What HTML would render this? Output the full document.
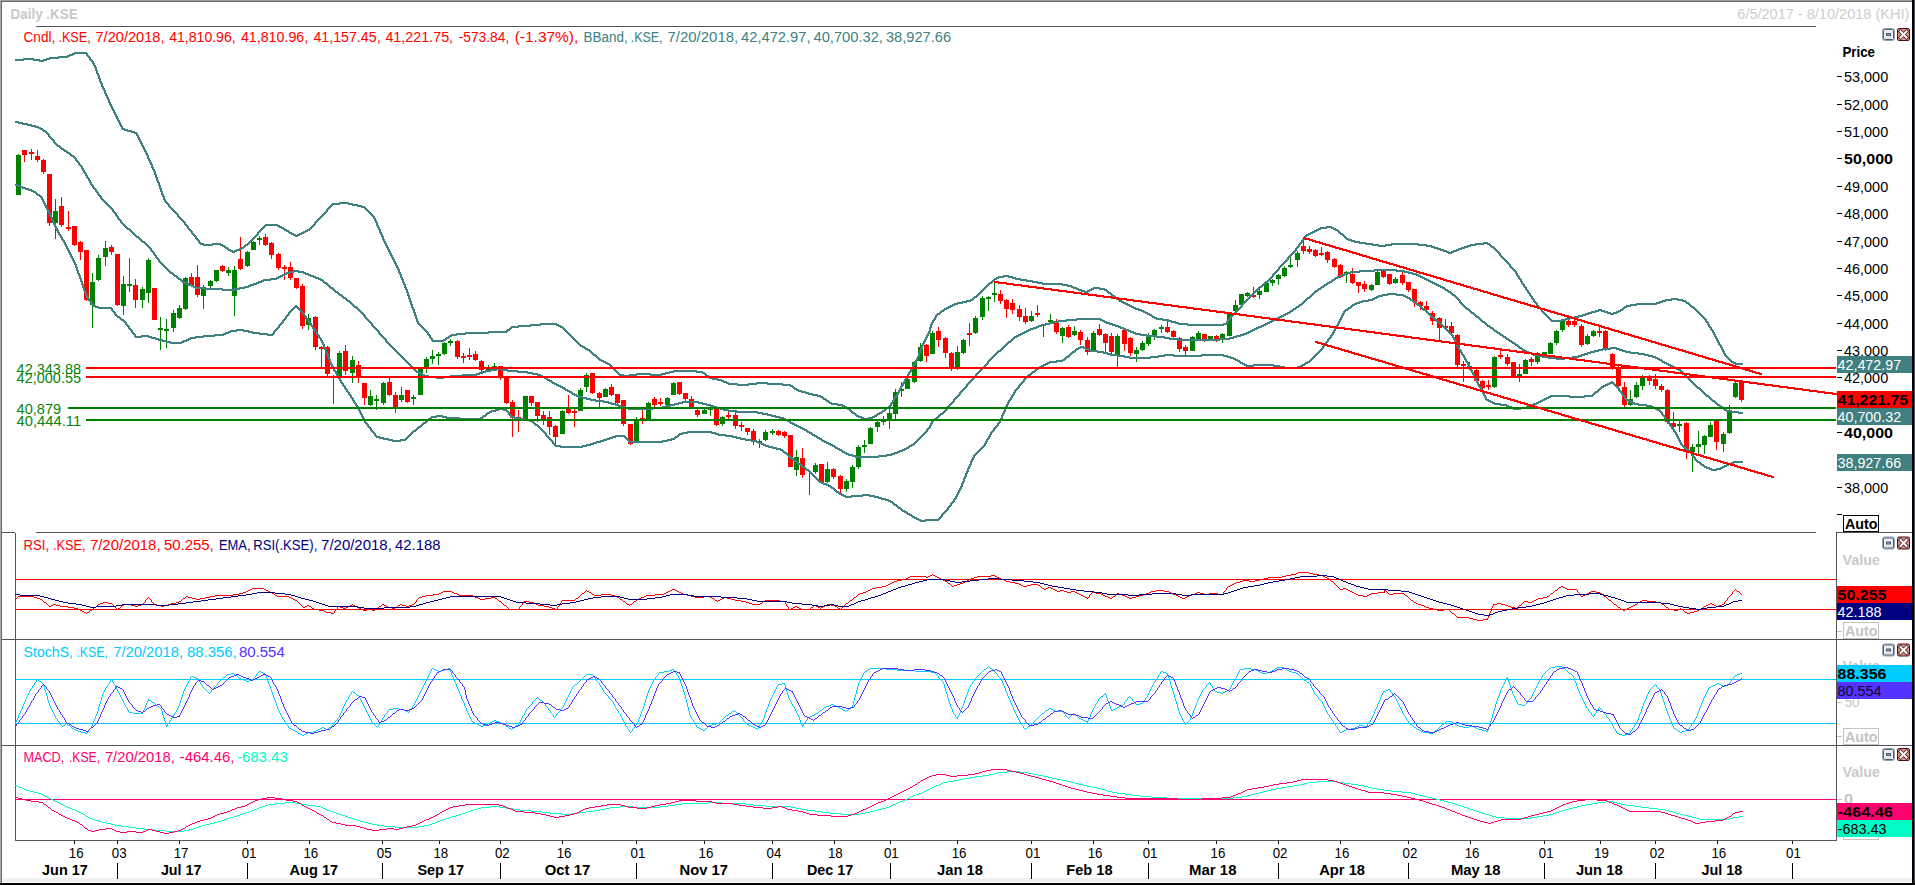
<!DOCTYPE html>
<html><head><meta charset="utf-8"><title>Daily .KSE</title>
<style>html,body{margin:0;padding:0;background:#fff;overflow:hidden}svg{display:block}text{font-family:"Liberation Sans",sans-serif;white-space:pre}</style>
</head><body>
<svg width="1915" height="885" viewBox="0 0 1915 885">
<rect x="0" y="0" width="1915" height="885" fill="#fff"/>
<rect x="3" y="878" width="1909" height="4" fill="#f0f0f0"/>
<rect x="0" y="0" width="1912" height="1" fill="#a0a0a0"/>
<rect x="0" y="1" width="1912" height="1" fill="#696969"/>
<rect x="0" y="0" width="1" height="883" fill="#a8a8a8"/>
<rect x="1" y="1" width="1" height="882" fill="#696969"/>
<rect x="1912" y="0" width="2" height="885" fill="#000"/>
<rect x="1914" y="0" width="1" height="885" fill="#4a4a58"/>
<rect x="0" y="883" width="1915" height="2" fill="#000"/>
<rect x="36" y="26" width="1780" height="1" fill="#555"/>
<text x="10.6" y="18.8" font-size="13.8" fill="#c9c9c9" font-weight="bold" textLength="67" lengthAdjust="spacingAndGlyphs">Daily .KSE</text>
<text x="1737.3" y="18.6" font-size="13.8" fill="#cdcdcd" textLength="172" lengthAdjust="spacingAndGlyphs">6/5/2017 - 8/10/2018 (KHI)</text>
<rect x="2" y="532" width="13" height="1" fill="#555"/>
<rect x="36" y="532" width="1780" height="1" fill="#555"/>
<rect x="15" y="533" width="1" height="308" fill="#555"/>
<rect x="2" y="639" width="1910" height="1" fill="#555"/>
<rect x="2" y="745" width="1910" height="1" fill="#555"/>
<rect x="15" y="840" width="1822" height="1" fill="#555"/>
<rect x="1836" y="533" width="1" height="308" fill="#555"/>
<rect x="1836" y="532" width="76" height="1" fill="#555"/>
<g shape-rendering="crispEdges">
<rect x="18" y="154" width="1" height="41" fill="#008000"/>
<rect x="16" y="155" width="5" height="40" fill="#008000"/>
<rect x="24" y="150" width="1" height="12" fill="#ff0000"/>
<rect x="22" y="150" width="5" height="5" fill="#ff0000"/>
<rect x="31" y="149" width="1" height="11" fill="#ff0000"/>
<rect x="29" y="152" width="5" height="2" fill="#ff0000"/>
<rect x="37" y="150" width="1" height="12" fill="#ff0000"/>
<rect x="35" y="156" width="5" height="4" fill="#ff0000"/>
<rect x="43" y="159" width="1" height="15" fill="#ff0000"/>
<rect x="41" y="160" width="5" height="12" fill="#ff0000"/>
<rect x="49" y="174" width="1" height="52" fill="#ff0000"/>
<rect x="47" y="174" width="5" height="49" fill="#ff0000"/>
<rect x="55" y="199" width="1" height="40" fill="#008000"/>
<rect x="53" y="211" width="5" height="12" fill="#008000"/>
<rect x="61" y="197" width="1" height="30" fill="#ff0000"/>
<rect x="59" y="206" width="5" height="19" fill="#ff0000"/>
<rect x="68" y="211" width="1" height="20" fill="#ff0000"/>
<rect x="66" y="227" width="5" height="2" fill="#ff0000"/>
<rect x="74" y="226" width="1" height="20" fill="#ff0000"/>
<rect x="72" y="226" width="5" height="19" fill="#ff0000"/>
<rect x="80" y="241" width="1" height="19" fill="#ff0000"/>
<rect x="78" y="242" width="5" height="10" fill="#ff0000"/>
<rect x="86" y="250" width="1" height="51" fill="#ff0000"/>
<rect x="84" y="250" width="5" height="50" fill="#ff0000"/>
<rect x="92" y="273" width="1" height="55" fill="#008000"/>
<rect x="90" y="282" width="5" height="23" fill="#008000"/>
<rect x="98" y="255" width="1" height="26" fill="#008000"/>
<rect x="96" y="258" width="5" height="22" fill="#008000"/>
<rect x="105" y="241" width="1" height="25" fill="#008000"/>
<rect x="103" y="248" width="5" height="9" fill="#008000"/>
<rect x="111" y="245" width="1" height="10" fill="#ff0000"/>
<rect x="109" y="247" width="5" height="5" fill="#ff0000"/>
<rect x="117" y="254" width="1" height="52" fill="#ff0000"/>
<rect x="115" y="254" width="5" height="51" fill="#ff0000"/>
<rect x="123" y="276" width="1" height="39" fill="#008000"/>
<rect x="121" y="284" width="5" height="22" fill="#008000"/>
<rect x="129" y="258" width="1" height="34" fill="#008000"/>
<rect x="127" y="284" width="5" height="2" fill="#008000"/>
<rect x="135" y="279" width="1" height="29" fill="#ff0000"/>
<rect x="133" y="285" width="5" height="15" fill="#ff0000"/>
<rect x="142" y="287" width="1" height="21" fill="#008000"/>
<rect x="140" y="289" width="5" height="11" fill="#008000"/>
<rect x="148" y="258" width="1" height="45" fill="#008000"/>
<rect x="146" y="260" width="5" height="33" fill="#008000"/>
<rect x="154" y="288" width="1" height="32" fill="#ff0000"/>
<rect x="152" y="288" width="5" height="32" fill="#ff0000"/>
<rect x="160" y="317" width="1" height="33" fill="#008000"/>
<rect x="158" y="328" width="5" height="2" fill="#008000"/>
<rect x="166" y="319" width="1" height="29" fill="#008000"/>
<rect x="164" y="329" width="5" height="2" fill="#008000"/>
<rect x="173" y="310" width="1" height="22" fill="#008000"/>
<rect x="171" y="313" width="5" height="15" fill="#008000"/>
<rect x="179" y="305" width="1" height="14" fill="#008000"/>
<rect x="177" y="308" width="5" height="10" fill="#008000"/>
<rect x="185" y="277" width="1" height="33" fill="#008000"/>
<rect x="183" y="278" width="5" height="31" fill="#008000"/>
<rect x="191" y="273" width="1" height="14" fill="#ff0000"/>
<rect x="189" y="277" width="5" height="9" fill="#ff0000"/>
<rect x="197" y="265" width="1" height="32" fill="#ff0000"/>
<rect x="195" y="277" width="5" height="18" fill="#ff0000"/>
<rect x="203" y="285" width="1" height="24" fill="#008000"/>
<rect x="201" y="287" width="5" height="9" fill="#008000"/>
<rect x="210" y="280" width="1" height="8" fill="#008000"/>
<rect x="208" y="281" width="5" height="5" fill="#008000"/>
<rect x="216" y="270" width="1" height="12" fill="#008000"/>
<rect x="214" y="270" width="5" height="11" fill="#008000"/>
<rect x="222" y="265" width="1" height="7" fill="#ff0000"/>
<rect x="220" y="266" width="5" height="5" fill="#ff0000"/>
<rect x="228" y="267" width="1" height="9" fill="#008000"/>
<rect x="226" y="270" width="5" height="3" fill="#008000"/>
<rect x="234" y="266" width="1" height="50" fill="#008000"/>
<rect x="232" y="270" width="5" height="26" fill="#008000"/>
<rect x="240" y="237" width="1" height="33" fill="#ff0000"/>
<rect x="238" y="259" width="5" height="10" fill="#ff0000"/>
<rect x="247" y="251" width="1" height="16" fill="#008000"/>
<rect x="245" y="252" width="5" height="14" fill="#008000"/>
<rect x="253" y="241" width="1" height="9" fill="#008000"/>
<rect x="251" y="242" width="5" height="8" fill="#008000"/>
<rect x="259" y="236" width="1" height="9" fill="#008000"/>
<rect x="257" y="238" width="5" height="2" fill="#008000"/>
<rect x="265" y="234" width="1" height="12" fill="#ff0000"/>
<rect x="263" y="237" width="5" height="8" fill="#ff0000"/>
<rect x="271" y="242" width="1" height="17" fill="#ff0000"/>
<rect x="269" y="243" width="5" height="12" fill="#ff0000"/>
<rect x="278" y="253" width="1" height="17" fill="#ff0000"/>
<rect x="276" y="254" width="5" height="14" fill="#ff0000"/>
<rect x="284" y="265" width="1" height="15" fill="#ff0000"/>
<rect x="282" y="267" width="5" height="2" fill="#ff0000"/>
<rect x="290" y="262" width="1" height="18" fill="#ff0000"/>
<rect x="288" y="267" width="5" height="11" fill="#ff0000"/>
<rect x="296" y="278" width="1" height="11" fill="#ff0000"/>
<rect x="294" y="278" width="5" height="10" fill="#ff0000"/>
<rect x="302" y="284" width="1" height="45" fill="#ff0000"/>
<rect x="300" y="286" width="5" height="40" fill="#ff0000"/>
<rect x="308" y="314" width="1" height="16" fill="#008000"/>
<rect x="306" y="318" width="5" height="7" fill="#008000"/>
<rect x="315" y="316" width="1" height="34" fill="#ff0000"/>
<rect x="313" y="317" width="5" height="30" fill="#ff0000"/>
<rect x="321" y="346" width="1" height="21" fill="#ff0000"/>
<rect x="319" y="347" width="5" height="2" fill="#ff0000"/>
<rect x="327" y="346" width="1" height="30" fill="#ff0000"/>
<rect x="325" y="347" width="5" height="27" fill="#ff0000"/>
<rect x="333" y="375" width="1" height="29" fill="#ff0000"/>
<rect x="331" y="376" width="5" height="2" fill="#ff0000"/>
<rect x="339" y="351" width="1" height="27" fill="#008000"/>
<rect x="337" y="353" width="5" height="24" fill="#008000"/>
<rect x="345" y="345" width="1" height="30" fill="#ff0000"/>
<rect x="343" y="351" width="5" height="20" fill="#ff0000"/>
<rect x="352" y="356" width="1" height="27" fill="#008000"/>
<rect x="350" y="360" width="5" height="13" fill="#008000"/>
<rect x="358" y="361" width="1" height="22" fill="#ff0000"/>
<rect x="356" y="365" width="5" height="13" fill="#ff0000"/>
<rect x="364" y="383" width="1" height="22" fill="#ff0000"/>
<rect x="362" y="383" width="5" height="15" fill="#ff0000"/>
<rect x="370" y="390" width="1" height="16" fill="#008000"/>
<rect x="368" y="396" width="5" height="9" fill="#008000"/>
<rect x="376" y="395" width="1" height="15" fill="#008000"/>
<rect x="374" y="399" width="5" height="2" fill="#008000"/>
<rect x="383" y="382" width="1" height="23" fill="#008000"/>
<rect x="381" y="383" width="5" height="20" fill="#008000"/>
<rect x="389" y="378" width="1" height="18" fill="#ff0000"/>
<rect x="387" y="382" width="5" height="13" fill="#ff0000"/>
<rect x="395" y="392" width="1" height="21" fill="#ff0000"/>
<rect x="393" y="395" width="5" height="12" fill="#ff0000"/>
<rect x="401" y="387" width="1" height="15" fill="#008000"/>
<rect x="399" y="395" width="5" height="5" fill="#008000"/>
<rect x="407" y="390" width="1" height="13" fill="#ff0000"/>
<rect x="405" y="390" width="5" height="12" fill="#ff0000"/>
<rect x="413" y="395" width="1" height="10" fill="#008000"/>
<rect x="411" y="397" width="5" height="2" fill="#008000"/>
<rect x="420" y="367" width="1" height="28" fill="#008000"/>
<rect x="418" y="368" width="5" height="27" fill="#008000"/>
<rect x="426" y="357" width="1" height="16" fill="#008000"/>
<rect x="424" y="359" width="5" height="8" fill="#008000"/>
<rect x="432" y="350" width="1" height="14" fill="#008000"/>
<rect x="430" y="356" width="5" height="3" fill="#008000"/>
<rect x="438" y="352" width="1" height="13" fill="#008000"/>
<rect x="436" y="354" width="5" height="2" fill="#008000"/>
<rect x="444" y="342" width="1" height="13" fill="#008000"/>
<rect x="442" y="343" width="5" height="11" fill="#008000"/>
<rect x="450" y="339" width="1" height="7" fill="#008000"/>
<rect x="448" y="341" width="5" height="2" fill="#008000"/>
<rect x="457" y="340" width="1" height="19" fill="#ff0000"/>
<rect x="455" y="341" width="5" height="16" fill="#ff0000"/>
<rect x="463" y="353" width="1" height="10" fill="#ff0000"/>
<rect x="461" y="356" width="5" height="2" fill="#ff0000"/>
<rect x="469" y="348" width="1" height="12" fill="#ff0000"/>
<rect x="467" y="355" width="5" height="2" fill="#ff0000"/>
<rect x="475" y="351" width="1" height="10" fill="#ff0000"/>
<rect x="473" y="354" width="5" height="6" fill="#ff0000"/>
<rect x="481" y="360" width="1" height="14" fill="#ff0000"/>
<rect x="479" y="361" width="5" height="9" fill="#ff0000"/>
<rect x="488" y="365" width="1" height="7" fill="#008000"/>
<rect x="486" y="368" width="5" height="2" fill="#008000"/>
<rect x="494" y="363" width="1" height="6" fill="#008000"/>
<rect x="492" y="366" width="5" height="2" fill="#008000"/>
<rect x="500" y="366" width="1" height="14" fill="#ff0000"/>
<rect x="498" y="366" width="5" height="11" fill="#ff0000"/>
<rect x="506" y="377" width="1" height="27" fill="#ff0000"/>
<rect x="504" y="377" width="5" height="26" fill="#ff0000"/>
<rect x="512" y="400" width="1" height="37" fill="#ff0000"/>
<rect x="510" y="402" width="5" height="16" fill="#ff0000"/>
<rect x="518" y="410" width="1" height="22" fill="#ff0000"/>
<rect x="516" y="417" width="5" height="2" fill="#ff0000"/>
<rect x="525" y="396" width="1" height="24" fill="#008000"/>
<rect x="523" y="396" width="5" height="23" fill="#008000"/>
<rect x="531" y="396" width="1" height="10" fill="#ff0000"/>
<rect x="529" y="396" width="5" height="7" fill="#ff0000"/>
<rect x="537" y="402" width="1" height="20" fill="#ff0000"/>
<rect x="535" y="402" width="5" height="14" fill="#ff0000"/>
<rect x="543" y="411" width="1" height="14" fill="#ff0000"/>
<rect x="541" y="415" width="5" height="4" fill="#ff0000"/>
<rect x="549" y="411" width="1" height="24" fill="#ff0000"/>
<rect x="547" y="417" width="5" height="10" fill="#ff0000"/>
<rect x="555" y="425" width="1" height="22" fill="#ff0000"/>
<rect x="553" y="426" width="5" height="11" fill="#ff0000"/>
<rect x="562" y="410" width="1" height="24" fill="#008000"/>
<rect x="560" y="411" width="5" height="23" fill="#008000"/>
<rect x="568" y="395" width="1" height="19" fill="#ff0000"/>
<rect x="566" y="409" width="5" height="4" fill="#ff0000"/>
<rect x="574" y="409" width="1" height="18" fill="#ff0000"/>
<rect x="572" y="411" width="5" height="2" fill="#ff0000"/>
<rect x="580" y="388" width="1" height="23" fill="#008000"/>
<rect x="578" y="390" width="5" height="21" fill="#008000"/>
<rect x="586" y="373" width="1" height="19" fill="#008000"/>
<rect x="584" y="375" width="5" height="12" fill="#008000"/>
<rect x="592" y="373" width="1" height="21" fill="#ff0000"/>
<rect x="590" y="373" width="5" height="20" fill="#ff0000"/>
<rect x="599" y="392" width="1" height="15" fill="#ff0000"/>
<rect x="597" y="393" width="5" height="5" fill="#ff0000"/>
<rect x="605" y="388" width="1" height="9" fill="#008000"/>
<rect x="603" y="389" width="5" height="8" fill="#008000"/>
<rect x="611" y="384" width="1" height="12" fill="#ff0000"/>
<rect x="609" y="387" width="5" height="8" fill="#ff0000"/>
<rect x="617" y="394" width="1" height="10" fill="#ff0000"/>
<rect x="615" y="394" width="5" height="9" fill="#ff0000"/>
<rect x="623" y="400" width="1" height="26" fill="#ff0000"/>
<rect x="621" y="400" width="5" height="24" fill="#ff0000"/>
<rect x="630" y="424" width="1" height="21" fill="#ff0000"/>
<rect x="628" y="424" width="5" height="20" fill="#ff0000"/>
<rect x="636" y="417" width="1" height="25" fill="#008000"/>
<rect x="634" y="419" width="5" height="23" fill="#008000"/>
<rect x="642" y="409" width="1" height="15" fill="#ff0000"/>
<rect x="640" y="418" width="5" height="2" fill="#ff0000"/>
<rect x="648" y="402" width="1" height="18" fill="#008000"/>
<rect x="646" y="403" width="5" height="17" fill="#008000"/>
<rect x="654" y="397" width="1" height="10" fill="#ff0000"/>
<rect x="652" y="399" width="5" height="6" fill="#ff0000"/>
<rect x="660" y="398" width="1" height="8" fill="#ff0000"/>
<rect x="658" y="402" width="5" height="2" fill="#ff0000"/>
<rect x="667" y="397" width="1" height="9" fill="#008000"/>
<rect x="665" y="398" width="5" height="7" fill="#008000"/>
<rect x="673" y="382" width="1" height="13" fill="#008000"/>
<rect x="671" y="383" width="5" height="12" fill="#008000"/>
<rect x="679" y="382" width="1" height="13" fill="#ff0000"/>
<rect x="677" y="382" width="5" height="12" fill="#ff0000"/>
<rect x="685" y="393" width="1" height="8" fill="#ff0000"/>
<rect x="683" y="393" width="5" height="6" fill="#ff0000"/>
<rect x="691" y="396" width="1" height="12" fill="#ff0000"/>
<rect x="689" y="399" width="5" height="8" fill="#ff0000"/>
<rect x="697" y="409" width="1" height="8" fill="#ff0000"/>
<rect x="695" y="410" width="5" height="5" fill="#ff0000"/>
<rect x="704" y="409" width="1" height="5" fill="#008000"/>
<rect x="702" y="410" width="5" height="4" fill="#008000"/>
<rect x="710" y="407" width="1" height="9" fill="#008000"/>
<rect x="708" y="408" width="5" height="2" fill="#008000"/>
<rect x="716" y="408" width="1" height="18" fill="#ff0000"/>
<rect x="714" y="409" width="5" height="16" fill="#ff0000"/>
<rect x="722" y="416" width="1" height="10" fill="#008000"/>
<rect x="720" y="417" width="5" height="7" fill="#008000"/>
<rect x="728" y="412" width="1" height="7" fill="#ff0000"/>
<rect x="726" y="415" width="5" height="2" fill="#ff0000"/>
<rect x="735" y="412" width="1" height="17" fill="#ff0000"/>
<rect x="733" y="415" width="5" height="11" fill="#ff0000"/>
<rect x="741" y="422" width="1" height="9" fill="#ff0000"/>
<rect x="739" y="425" width="5" height="2" fill="#ff0000"/>
<rect x="747" y="428" width="1" height="7" fill="#ff0000"/>
<rect x="745" y="428" width="5" height="4" fill="#ff0000"/>
<rect x="753" y="429" width="1" height="16" fill="#ff0000"/>
<rect x="751" y="431" width="5" height="11" fill="#ff0000"/>
<rect x="759" y="439" width="1" height="9" fill="#008000"/>
<rect x="757" y="441" width="5" height="2" fill="#008000"/>
<rect x="765" y="430" width="1" height="11" fill="#008000"/>
<rect x="763" y="432" width="5" height="8" fill="#008000"/>
<rect x="772" y="429" width="1" height="6" fill="#008000"/>
<rect x="770" y="431" width="5" height="2" fill="#008000"/>
<rect x="778" y="430" width="1" height="6" fill="#ff0000"/>
<rect x="776" y="431" width="5" height="4" fill="#ff0000"/>
<rect x="784" y="431" width="1" height="7" fill="#ff0000"/>
<rect x="782" y="432" width="5" height="4" fill="#ff0000"/>
<rect x="790" y="435" width="1" height="32" fill="#ff0000"/>
<rect x="788" y="435" width="5" height="32" fill="#ff0000"/>
<rect x="796" y="450" width="1" height="26" fill="#008000"/>
<rect x="794" y="457" width="5" height="13" fill="#008000"/>
<rect x="802" y="448" width="1" height="30" fill="#ff0000"/>
<rect x="800" y="458" width="5" height="17" fill="#ff0000"/>
<rect x="809" y="470" width="1" height="25" fill="#008000"/>
<rect x="815" y="463" width="1" height="11" fill="#008000"/>
<rect x="813" y="465" width="5" height="7" fill="#008000"/>
<rect x="821" y="464" width="1" height="18" fill="#ff0000"/>
<rect x="819" y="464" width="5" height="18" fill="#ff0000"/>
<rect x="827" y="462" width="1" height="21" fill="#008000"/>
<rect x="825" y="469" width="5" height="13" fill="#008000"/>
<rect x="833" y="468" width="1" height="11" fill="#ff0000"/>
<rect x="831" y="469" width="5" height="8" fill="#ff0000"/>
<rect x="840" y="475" width="1" height="18" fill="#ff0000"/>
<rect x="838" y="476" width="5" height="13" fill="#ff0000"/>
<rect x="846" y="479" width="1" height="13" fill="#008000"/>
<rect x="844" y="481" width="5" height="8" fill="#008000"/>
<rect x="852" y="465" width="1" height="23" fill="#008000"/>
<rect x="850" y="467" width="5" height="15" fill="#008000"/>
<rect x="858" y="445" width="1" height="24" fill="#008000"/>
<rect x="856" y="447" width="5" height="20" fill="#008000"/>
<rect x="864" y="440" width="1" height="13" fill="#008000"/>
<rect x="862" y="445" width="5" height="2" fill="#008000"/>
<rect x="870" y="427" width="1" height="17" fill="#008000"/>
<rect x="868" y="428" width="5" height="16" fill="#008000"/>
<rect x="877" y="421" width="1" height="11" fill="#008000"/>
<rect x="875" y="422" width="5" height="5" fill="#008000"/>
<rect x="883" y="416" width="1" height="9" fill="#008000"/>
<rect x="881" y="420" width="5" height="2" fill="#008000"/>
<rect x="889" y="409" width="1" height="20" fill="#008000"/>
<rect x="887" y="413" width="5" height="7" fill="#008000"/>
<rect x="895" y="389" width="1" height="30" fill="#008000"/>
<rect x="893" y="392" width="5" height="22" fill="#008000"/>
<rect x="901" y="382" width="1" height="15" fill="#008000"/>
<rect x="899" y="389" width="5" height="2" fill="#008000"/>
<rect x="907" y="377" width="1" height="12" fill="#008000"/>
<rect x="905" y="379" width="5" height="10" fill="#008000"/>
<rect x="914" y="361" width="1" height="22" fill="#008000"/>
<rect x="912" y="362" width="5" height="20" fill="#008000"/>
<rect x="920" y="343" width="1" height="19" fill="#008000"/>
<rect x="918" y="347" width="5" height="14" fill="#008000"/>
<rect x="926" y="344" width="1" height="18" fill="#ff0000"/>
<rect x="924" y="345" width="5" height="11" fill="#ff0000"/>
<rect x="932" y="331" width="1" height="23" fill="#008000"/>
<rect x="930" y="333" width="5" height="21" fill="#008000"/>
<rect x="938" y="327" width="1" height="20" fill="#ff0000"/>
<rect x="936" y="331" width="5" height="9" fill="#ff0000"/>
<rect x="945" y="337" width="1" height="21" fill="#ff0000"/>
<rect x="943" y="338" width="5" height="15" fill="#ff0000"/>
<rect x="951" y="352" width="1" height="19" fill="#ff0000"/>
<rect x="949" y="353" width="5" height="14" fill="#ff0000"/>
<rect x="957" y="346" width="1" height="24" fill="#008000"/>
<rect x="955" y="352" width="5" height="15" fill="#008000"/>
<rect x="963" y="339" width="1" height="15" fill="#008000"/>
<rect x="961" y="340" width="5" height="13" fill="#008000"/>
<rect x="969" y="323" width="1" height="23" fill="#ff0000"/>
<rect x="967" y="333" width="5" height="2" fill="#ff0000"/>
<rect x="975" y="316" width="1" height="18" fill="#008000"/>
<rect x="973" y="318" width="5" height="15" fill="#008000"/>
<rect x="982" y="296" width="1" height="24" fill="#008000"/>
<rect x="980" y="298" width="5" height="19" fill="#008000"/>
<rect x="988" y="296" width="1" height="15" fill="#008000"/>
<rect x="986" y="297" width="5" height="2" fill="#008000"/>
<rect x="994" y="282" width="1" height="20" fill="#008000"/>
<rect x="992" y="293" width="5" height="2" fill="#008000"/>
<rect x="1000" y="290" width="1" height="14" fill="#ff0000"/>
<rect x="998" y="294" width="5" height="7" fill="#ff0000"/>
<rect x="1006" y="299" width="1" height="19" fill="#ff0000"/>
<rect x="1004" y="300" width="5" height="9" fill="#ff0000"/>
<rect x="1012" y="299" width="1" height="15" fill="#ff0000"/>
<rect x="1010" y="303" width="5" height="7" fill="#ff0000"/>
<rect x="1019" y="305" width="1" height="16" fill="#ff0000"/>
<rect x="1017" y="309" width="5" height="8" fill="#ff0000"/>
<rect x="1025" y="308" width="1" height="16" fill="#ff0000"/>
<rect x="1023" y="316" width="5" height="6" fill="#ff0000"/>
<rect x="1031" y="311" width="1" height="11" fill="#008000"/>
<rect x="1029" y="316" width="5" height="5" fill="#008000"/>
<rect x="1037" y="305" width="1" height="12" fill="#ff0000"/>
<rect x="1035" y="313" width="5" height="2" fill="#ff0000"/>
<rect x="1043" y="324" width="1" height="13" fill="#ff0000"/>
<rect x="1041" y="324" width="5" height="2" fill="#ff0000"/>
<rect x="1050" y="314" width="1" height="10" fill="#008000"/>
<rect x="1048" y="320" width="5" height="2" fill="#008000"/>
<rect x="1056" y="319" width="1" height="15" fill="#ff0000"/>
<rect x="1054" y="321" width="5" height="11" fill="#ff0000"/>
<rect x="1062" y="327" width="1" height="16" fill="#008000"/>
<rect x="1060" y="328" width="5" height="8" fill="#008000"/>
<rect x="1068" y="325" width="1" height="13" fill="#ff0000"/>
<rect x="1066" y="327" width="5" height="10" fill="#ff0000"/>
<rect x="1074" y="326" width="1" height="10" fill="#008000"/>
<rect x="1072" y="331" width="5" height="4" fill="#008000"/>
<rect x="1080" y="330" width="1" height="15" fill="#ff0000"/>
<rect x="1078" y="332" width="5" height="8" fill="#ff0000"/>
<rect x="1087" y="337" width="1" height="18" fill="#ff0000"/>
<rect x="1085" y="340" width="5" height="12" fill="#ff0000"/>
<rect x="1093" y="331" width="1" height="21" fill="#008000"/>
<rect x="1091" y="333" width="5" height="18" fill="#008000"/>
<rect x="1099" y="324" width="1" height="12" fill="#ff0000"/>
<rect x="1097" y="329" width="5" height="6" fill="#ff0000"/>
<rect x="1105" y="333" width="1" height="19" fill="#ff0000"/>
<rect x="1103" y="334" width="5" height="9" fill="#ff0000"/>
<rect x="1111" y="333" width="1" height="22" fill="#ff0000"/>
<rect x="1109" y="336" width="5" height="16" fill="#ff0000"/>
<rect x="1117" y="334" width="1" height="33" fill="#008000"/>
<rect x="1115" y="336" width="5" height="20" fill="#008000"/>
<rect x="1124" y="329" width="1" height="22" fill="#ff0000"/>
<rect x="1122" y="330" width="5" height="14" fill="#ff0000"/>
<rect x="1130" y="337" width="1" height="19" fill="#ff0000"/>
<rect x="1128" y="338" width="5" height="15" fill="#ff0000"/>
<rect x="1136" y="347" width="1" height="15" fill="#008000"/>
<rect x="1134" y="350" width="5" height="4" fill="#008000"/>
<rect x="1142" y="341" width="1" height="10" fill="#008000"/>
<rect x="1140" y="343" width="5" height="7" fill="#008000"/>
<rect x="1148" y="333" width="1" height="13" fill="#008000"/>
<rect x="1146" y="337" width="5" height="7" fill="#008000"/>
<rect x="1154" y="329" width="1" height="11" fill="#008000"/>
<rect x="1152" y="330" width="5" height="7" fill="#008000"/>
<rect x="1161" y="325" width="1" height="8" fill="#008000"/>
<rect x="1159" y="327" width="5" height="2" fill="#008000"/>
<rect x="1167" y="320" width="1" height="13" fill="#ff0000"/>
<rect x="1165" y="327" width="5" height="5" fill="#ff0000"/>
<rect x="1173" y="330" width="1" height="9" fill="#ff0000"/>
<rect x="1171" y="331" width="5" height="6" fill="#ff0000"/>
<rect x="1179" y="337" width="1" height="15" fill="#ff0000"/>
<rect x="1177" y="338" width="5" height="11" fill="#ff0000"/>
<rect x="1185" y="345" width="1" height="10" fill="#ff0000"/>
<rect x="1183" y="347" width="5" height="4" fill="#ff0000"/>
<rect x="1192" y="336" width="1" height="15" fill="#008000"/>
<rect x="1190" y="337" width="5" height="14" fill="#008000"/>
<rect x="1198" y="331" width="1" height="9" fill="#008000"/>
<rect x="1196" y="333" width="5" height="6" fill="#008000"/>
<rect x="1204" y="334" width="1" height="8" fill="#ff0000"/>
<rect x="1202" y="334" width="5" height="5" fill="#ff0000"/>
<rect x="1210" y="336" width="1" height="4" fill="#008000"/>
<rect x="1208" y="336" width="5" height="3" fill="#008000"/>
<rect x="1216" y="335" width="1" height="7" fill="#ff0000"/>
<rect x="1214" y="336" width="5" height="3" fill="#ff0000"/>
<rect x="1222" y="333" width="1" height="10" fill="#008000"/>
<rect x="1220" y="334" width="5" height="5" fill="#008000"/>
<rect x="1229" y="312" width="1" height="24" fill="#008000"/>
<rect x="1227" y="314" width="5" height="22" fill="#008000"/>
<rect x="1235" y="300" width="1" height="12" fill="#008000"/>
<rect x="1233" y="305" width="5" height="6" fill="#008000"/>
<rect x="1241" y="294" width="1" height="12" fill="#008000"/>
<rect x="1239" y="294" width="5" height="11" fill="#008000"/>
<rect x="1247" y="292" width="1" height="5" fill="#008000"/>
<rect x="1245" y="293" width="5" height="3" fill="#008000"/>
<rect x="1253" y="287" width="1" height="11" fill="#ff0000"/>
<rect x="1251" y="295" width="5" height="2" fill="#ff0000"/>
<rect x="1259" y="289" width="1" height="10" fill="#008000"/>
<rect x="1257" y="291" width="5" height="4" fill="#008000"/>
<rect x="1266" y="282" width="1" height="10" fill="#008000"/>
<rect x="1264" y="283" width="5" height="9" fill="#008000"/>
<rect x="1272" y="279" width="1" height="7" fill="#008000"/>
<rect x="1270" y="280" width="5" height="3" fill="#008000"/>
<rect x="1278" y="274" width="1" height="11" fill="#008000"/>
<rect x="1276" y="275" width="5" height="4" fill="#008000"/>
<rect x="1284" y="266" width="1" height="11" fill="#008000"/>
<rect x="1282" y="268" width="5" height="8" fill="#008000"/>
<rect x="1290" y="256" width="1" height="12" fill="#008000"/>
<rect x="1288" y="265" width="5" height="2" fill="#008000"/>
<rect x="1297" y="251" width="1" height="16" fill="#008000"/>
<rect x="1295" y="253" width="5" height="7" fill="#008000"/>
<rect x="1303" y="239" width="1" height="15" fill="#ff0000"/>
<rect x="1301" y="246" width="5" height="5" fill="#ff0000"/>
<rect x="1309" y="246" width="1" height="8" fill="#ff0000"/>
<rect x="1307" y="249" width="5" height="3" fill="#ff0000"/>
<rect x="1315" y="249" width="1" height="8" fill="#ff0000"/>
<rect x="1313" y="250" width="5" height="6" fill="#ff0000"/>
<rect x="1321" y="247" width="1" height="9" fill="#ff0000"/>
<rect x="1319" y="253" width="5" height="2" fill="#ff0000"/>
<rect x="1327" y="251" width="1" height="12" fill="#ff0000"/>
<rect x="1325" y="252" width="5" height="8" fill="#ff0000"/>
<rect x="1334" y="258" width="1" height="10" fill="#ff0000"/>
<rect x="1332" y="259" width="5" height="8" fill="#ff0000"/>
<rect x="1340" y="264" width="1" height="14" fill="#ff0000"/>
<rect x="1338" y="265" width="5" height="12" fill="#ff0000"/>
<rect x="1346" y="271" width="1" height="12" fill="#008000"/>
<rect x="1344" y="272" width="5" height="2" fill="#008000"/>
<rect x="1352" y="268" width="1" height="16" fill="#ff0000"/>
<rect x="1350" y="274" width="5" height="9" fill="#ff0000"/>
<rect x="1358" y="282" width="1" height="11" fill="#ff0000"/>
<rect x="1356" y="282" width="5" height="4" fill="#ff0000"/>
<rect x="1364" y="281" width="1" height="11" fill="#ff0000"/>
<rect x="1362" y="284" width="5" height="5" fill="#ff0000"/>
<rect x="1371" y="284" width="1" height="7" fill="#008000"/>
<rect x="1369" y="285" width="5" height="5" fill="#008000"/>
<rect x="1377" y="271" width="1" height="14" fill="#008000"/>
<rect x="1375" y="272" width="5" height="13" fill="#008000"/>
<rect x="1383" y="270" width="1" height="8" fill="#ff0000"/>
<rect x="1381" y="271" width="5" height="6" fill="#ff0000"/>
<rect x="1389" y="274" width="1" height="11" fill="#ff0000"/>
<rect x="1387" y="274" width="5" height="10" fill="#ff0000"/>
<rect x="1395" y="277" width="1" height="7" fill="#008000"/>
<rect x="1393" y="279" width="5" height="4" fill="#008000"/>
<rect x="1402" y="272" width="1" height="13" fill="#ff0000"/>
<rect x="1400" y="275" width="5" height="8" fill="#ff0000"/>
<rect x="1408" y="282" width="1" height="10" fill="#ff0000"/>
<rect x="1406" y="282" width="5" height="8" fill="#ff0000"/>
<rect x="1414" y="289" width="1" height="18" fill="#ff0000"/>
<rect x="1412" y="289" width="5" height="13" fill="#ff0000"/>
<rect x="1420" y="301" width="1" height="9" fill="#ff0000"/>
<rect x="1418" y="302" width="5" height="4" fill="#ff0000"/>
<rect x="1426" y="301" width="1" height="11" fill="#ff0000"/>
<rect x="1424" y="306" width="5" height="4" fill="#ff0000"/>
<rect x="1432" y="311" width="1" height="14" fill="#ff0000"/>
<rect x="1430" y="313" width="5" height="8" fill="#ff0000"/>
<rect x="1439" y="317" width="1" height="23" fill="#ff0000"/>
<rect x="1437" y="318" width="5" height="10" fill="#ff0000"/>
<rect x="1445" y="319" width="1" height="10" fill="#ff0000"/>
<rect x="1443" y="326" width="5" height="2" fill="#ff0000"/>
<rect x="1451" y="322" width="1" height="12" fill="#ff0000"/>
<rect x="1449" y="326" width="5" height="7" fill="#ff0000"/>
<rect x="1457" y="334" width="1" height="33" fill="#ff0000"/>
<rect x="1455" y="335" width="5" height="30" fill="#ff0000"/>
<rect x="1463" y="361" width="1" height="21" fill="#ff0000"/>
<rect x="1461" y="364" width="5" height="2" fill="#ff0000"/>
<rect x="1469" y="362" width="1" height="8" fill="#ff0000"/>
<rect x="1467" y="366" width="5" height="3" fill="#ff0000"/>
<rect x="1476" y="369" width="1" height="13" fill="#ff0000"/>
<rect x="1474" y="370" width="5" height="11" fill="#ff0000"/>
<rect x="1482" y="380" width="1" height="10" fill="#ff0000"/>
<rect x="1480" y="381" width="5" height="7" fill="#ff0000"/>
<rect x="1488" y="380" width="1" height="10" fill="#ff0000"/>
<rect x="1486" y="385" width="5" height="2" fill="#ff0000"/>
<rect x="1494" y="356" width="1" height="32" fill="#008000"/>
<rect x="1492" y="357" width="5" height="30" fill="#008000"/>
<rect x="1500" y="349" width="1" height="10" fill="#ff0000"/>
<rect x="1498" y="355" width="5" height="2" fill="#ff0000"/>
<rect x="1507" y="354" width="1" height="12" fill="#ff0000"/>
<rect x="1505" y="357" width="5" height="7" fill="#ff0000"/>
<rect x="1513" y="362" width="1" height="15" fill="#ff0000"/>
<rect x="1511" y="362" width="5" height="14" fill="#ff0000"/>
<rect x="1519" y="364" width="1" height="18" fill="#008000"/>
<rect x="1517" y="374" width="5" height="2" fill="#008000"/>
<rect x="1525" y="359" width="1" height="15" fill="#008000"/>
<rect x="1523" y="360" width="5" height="14" fill="#008000"/>
<rect x="1531" y="357" width="1" height="9" fill="#ff0000"/>
<rect x="1529" y="359" width="5" height="3" fill="#ff0000"/>
<rect x="1537" y="352" width="1" height="12" fill="#008000"/>
<rect x="1535" y="355" width="5" height="7" fill="#008000"/>
<rect x="1544" y="352" width="1" height="5" fill="#008000"/>
<rect x="1542" y="352" width="5" height="3" fill="#008000"/>
<rect x="1550" y="342" width="1" height="12" fill="#008000"/>
<rect x="1548" y="343" width="5" height="11" fill="#008000"/>
<rect x="1556" y="330" width="1" height="15" fill="#008000"/>
<rect x="1554" y="331" width="5" height="12" fill="#008000"/>
<rect x="1562" y="319" width="1" height="13" fill="#008000"/>
<rect x="1560" y="321" width="5" height="9" fill="#008000"/>
<rect x="1568" y="315" width="1" height="12" fill="#ff0000"/>
<rect x="1566" y="321" width="5" height="4" fill="#ff0000"/>
<rect x="1574" y="318" width="1" height="9" fill="#ff0000"/>
<rect x="1572" y="321" width="5" height="4" fill="#ff0000"/>
<rect x="1581" y="324" width="1" height="23" fill="#ff0000"/>
<rect x="1579" y="326" width="5" height="19" fill="#ff0000"/>
<rect x="1587" y="334" width="1" height="11" fill="#008000"/>
<rect x="1585" y="336" width="5" height="8" fill="#008000"/>
<rect x="1593" y="330" width="1" height="7" fill="#008000"/>
<rect x="1591" y="331" width="5" height="5" fill="#008000"/>
<rect x="1599" y="327" width="1" height="10" fill="#ff0000"/>
<rect x="1597" y="331" width="5" height="2" fill="#ff0000"/>
<rect x="1605" y="330" width="1" height="21" fill="#ff0000"/>
<rect x="1603" y="331" width="5" height="18" fill="#ff0000"/>
<rect x="1612" y="353" width="1" height="17" fill="#ff0000"/>
<rect x="1610" y="354" width="5" height="14" fill="#ff0000"/>
<rect x="1618" y="365" width="1" height="22" fill="#ff0000"/>
<rect x="1616" y="367" width="5" height="19" fill="#ff0000"/>
<rect x="1624" y="382" width="1" height="25" fill="#ff0000"/>
<rect x="1622" y="387" width="5" height="18" fill="#ff0000"/>
<rect x="1630" y="390" width="1" height="16" fill="#008000"/>
<rect x="1628" y="399" width="5" height="6" fill="#008000"/>
<rect x="1636" y="382" width="1" height="16" fill="#008000"/>
<rect x="1634" y="385" width="5" height="12" fill="#008000"/>
<rect x="1642" y="375" width="1" height="15" fill="#008000"/>
<rect x="1640" y="378" width="5" height="8" fill="#008000"/>
<rect x="1649" y="375" width="1" height="10" fill="#ff0000"/>
<rect x="1647" y="377" width="5" height="4" fill="#ff0000"/>
<rect x="1655" y="374" width="1" height="15" fill="#ff0000"/>
<rect x="1653" y="379" width="5" height="7" fill="#ff0000"/>
<rect x="1661" y="384" width="1" height="8" fill="#ff0000"/>
<rect x="1659" y="386" width="5" height="4" fill="#ff0000"/>
<rect x="1667" y="389" width="1" height="35" fill="#ff0000"/>
<rect x="1665" y="390" width="5" height="32" fill="#ff0000"/>
<rect x="1673" y="412" width="1" height="18" fill="#ff0000"/>
<rect x="1671" y="423" width="5" height="4" fill="#ff0000"/>
<rect x="1679" y="421" width="1" height="11" fill="#008000"/>
<rect x="1677" y="424" width="5" height="2" fill="#008000"/>
<rect x="1686" y="422" width="1" height="37" fill="#ff0000"/>
<rect x="1684" y="423" width="5" height="28" fill="#ff0000"/>
<rect x="1692" y="444" width="1" height="28" fill="#008000"/>
<rect x="1690" y="447" width="5" height="5" fill="#008000"/>
<rect x="1698" y="431" width="1" height="23" fill="#008000"/>
<rect x="1696" y="444" width="5" height="3" fill="#008000"/>
<rect x="1704" y="435" width="1" height="19" fill="#008000"/>
<rect x="1702" y="436" width="5" height="9" fill="#008000"/>
<rect x="1710" y="422" width="1" height="15" fill="#008000"/>
<rect x="1708" y="425" width="5" height="12" fill="#008000"/>
<rect x="1716" y="421" width="1" height="29" fill="#ff0000"/>
<rect x="1714" y="421" width="5" height="21" fill="#ff0000"/>
<rect x="1723" y="432" width="1" height="20" fill="#008000"/>
<rect x="1721" y="434" width="5" height="10" fill="#008000"/>
<rect x="1729" y="405" width="1" height="29" fill="#008000"/>
<rect x="1727" y="410" width="5" height="23" fill="#008000"/>
<rect x="1735" y="382" width="1" height="16" fill="#008000"/>
<rect x="1733" y="383" width="5" height="14" fill="#008000"/>
<rect x="1741" y="381" width="1" height="21" fill="#ff0000"/>
<rect x="1739" y="382" width="5" height="18" fill="#ff0000"/>
<path d="M74 52.5h13m-15 1h16m-19 1h6m11 0h2m-21 1h6m13 0h3m-31 1h12m17 0h3m-41 1h19m20 0h3m-68 1h11m12 0h13m30 0h2m-76 1h25m3 0h7m39 0h3m-77 1h9m9 0h14m43 0h3m-54 1h5m47 0h3m-2 1h2m-2 1h3m-2 1h2m-2 1h3m-2 1h2m-2 1h3m-2 1h2m-2 1h2m-2 1h3m-2 1h2m-2 1h2m-2 1h3m-2 1h2m-2 1h3m-2 1h2m-2 1h2m-2 1h3m-2 1h2m-2 1h2m-2 1h3m-2 1h2m-2 1h3m-2 1h2m-2 1h2m-2 1h3m-2 1h2m-2 1h3m-2 1h2m-2 1h3m-2 1h2m-2 1h2m-2 1h3m-2 1h2m-2 1h3m-2 1h2m-2 1h3m-2 1h2m-2 1h3m-2 1h2m-2 1h2m-2 1h3m-2 1h2m-2 1h3m-2 1h2m-2 1h3m-2 1h2m-2 1h3m-2 1h2m-2 1h3m-2 1h2m-2 1h3m-2 1h2m-2 1h3m-2 1h2m-2 1h3m-2 1h2m-2 1h3m-2 1h2m-2 1h3m-2 1h2m-2 1h3m-2 1h2m-2 1h3m-2 1h2m-2 1h3m-2 1h2m-2 1h4m-3 1h6m-4 1h8m-5 1h8m-4 1h6m-3 1h4m-2 1h2m-2 1h3m-2 1h2m-2 1h3m-2 1h2m-2 1h3m-2 1h2m-2 1h3m-2 1h2m-2 1h3m-2 1h2m-2 1h3m-2 1h2m-2 1h3m-2 1h2m-2 1h3m-2 1h2m-2 1h3m-2 1h2m-2 1h3m-2 1h2m-2 1h3m-2 1h2m-2 1h2m-2 1h3m-2 1h2m-2 1h3m-2 1h2m-2 1h3m-2 1h2m-2 1h3m-2 1h2m-2 1h2m-2 1h3m-2 1h2m-2 1h3m-2 1h2m-2 1h3m-2 1h2m-2 1h2m-2 1h3m-2 1h2m-2 1h2m-2 1h3m-2 1h2m-2 1h2m-2 1h3m-2 1h2m-2 1h3m-2 1h2m-2 1h2m-2 1h3m-2 1h2m-2 1h2m-2 1h3m-2 1h2m-2 1h2m-2 1h3m-2 1h2m-2 1h2m-2 1h3m-2 1h2m-2 1h3m-2 1h2m-2 1h2m-2 1h3m-2 1h2m-2 1h3m-2 1h3m171 0h10m-183 1h3m163 0h21m-186 1h3m161 0h9m8 0h10m-190 1h2m160 0h3m19 0h10m-194 1h3m158 0h3m25 0h8m-196 1h3m156 0h3m30 0h5m-196 1h3m154 0h3m34 0h3m-196 1h3m152 0h3m36 0h3m-196 1h3m151 0h2m38 0h3m-196 1h3m149 0h3m39 0h3m-196 1h3m147 0h3m41 0h3m-196 1h3m145 0h3m43 0h3m-196 1h3m143 0h3m45 0h3m-196 1h2m142 0h3m47 0h3m-197 1h3m140 0h3m49 0h3m-197 1h3m138 0h3m51 0h2m-196 1h3m136 0h3m52 0h3m-196 1h3m134 0h3m54 0h2m-195 1h3m132 0h3m55 0h3m-195 1h3m130 0h3m57 0h2m-194 1h3m128 0h3m58 0h3m-194 1h2m128 0h2m60 0h2m-194 1h3m78 0h13m35 0h3m60 0h2m-193 1h3m76 0h16m32 0h3m61 0h3m-193 1h3m74 0h3m11 0h5m29 0h3m63 0h2m947 0h6m-1145 1h2m73 0h3m14 0h5m26 0h3m64 0h3m940 0h14m-1147 1h3m71 0h3m17 0h4m24 0h3m66 0h2m938 0h9m4 0h5m-1148 1h3m69 0h3m20 0h4m20 0h4m67 0h3m935 0h5m12 0h5m-1149 1h3m67 0h3m22 0h5m16 0h5m69 0h2m933 0h5m16 0h4m-1149 1h3m65 0h3m25 0h4m13 0h5m71 0h2m931 0h5m20 0h3m-1149 1h2m64 0h3m28 0h4m9 0h5m73 0h3m928 0h5m23 0h3m-1150 1h3m63 0h2m30 0h5m5 0h5m76 0h2m926 0h5m26 0h4m-1151 1h3m61 0h3m32 0h5m1 0h5m78 0h3m923 0h5m29 0h4m-1151 1h3m59 0h3m35 0h7m81 0h2m922 0h4m33 0h3m-1151 1h3m57 0h3m38 0h3m83 0h3m920 0h3m36 0h3m-1151 1h2m56 0h3m126 0h2m920 0h2m38 0h3m-1152 1h3m54 0h3m127 0h2m919 0h3m39 0h4m-1153 1h3m52 0h3m128 0h3m917 0h3m41 0h6m-1155 1h3m50 0h3m130 0h2m916 0h3m44 0h7m-1157 1h2m49 0h3m131 0h3m915 0h2m48 0h9m-1162 1h3m47 0h3m133 0h2m914 0h3m51 0h12m117 0h5m-1289 1h5m8 0h9m26 0h3m134 0h3m912 0h3m57 0h14m18 0h28m56 0h15m-1290 1h23m22 0h4m136 0h2m911 0h3m64 0h14m6 0h42m43 0h14m3 0h4m-1288 1h10m7 0h5m19 0h4m137 0h3m910 0h2m72 0h20m26 0h14m35 0h9m13 0h3m-1270 1h4m17 0h3m140 0h2m909 0h3m78 0h8m40 0h9m29 0h7m19 0h4m-1270 1h4m13 0h4m141 0h3m907 0h3m132 0h7m23 0h7m23 0h4m-1270 1h4m10 0h5m143 0h2m906 0h3m136 0h7m17 0h7m28 0h3m-1269 1h4m5 0h6m145 0h3m905 0h2m140 0h7m12 0h6m32 0h3m-1269 1h5m1 0h6m148 0h2m904 0h3m143 0h7m6 0h6m36 0h3m-1268 1h7m151 0h3m902 0h3m147 0h6m2 0h6m39 0h3m-1267 1h3m154 0h2m901 0h3m151 0h8m43 0h3m-1111 1h3m899 0h3m154 0h4m46 0h3m-1111 1h2m898 0h3m206 0h2m-1111 1h3m896 0h3m207 0h3m-1111 1h2m895 0h3m209 0h3m-1112 1h3m893 0h3m211 0h3m-1112 1h2m893 0h2m213 0h3m-1113 1h3m891 0h3m214 0h3m-1113 1h2m890 0h3m216 0h3m-1114 1h3m888 0h3m218 0h3m-1114 1h2m887 0h3m220 0h3m-1115 1h3m885 0h3m222 0h3m-1115 1h2m884 0h3m224 0h3m-1116 1h3m882 0h3m226 0h2m-1115 1h2m881 0h3m227 0h3m-1116 1h3m879 0h3m229 0h3m-1116 1h2m879 0h2m231 0h3m-1117 1h3m877 0h3m232 0h3m-1117 1h2m876 0h3m234 0h3m-1118 1h2m875 0h3m236 0h3m-1119 1h3m873 0h3m238 0h2m-1118 1h2m872 0h3m239 0h3m-1119 1h3m870 0h3m241 0h2m-1118 1h2m601 0h6m263 0h2m242 0h3m-1119 1h2m596 0h15m258 0h3m243 0h3m-1120 1h3m593 0h8m4 0h8m254 0h3m245 0h2m-1119 1h2m591 0h5m13 0h9m248 0h3m246 0h3m-1120 1h3m589 0h4m18 0h12m241 0h3m248 0h3m-1120 1h2m588 0h3m25 0h13m234 0h3m250 0h2m-1120 1h2m587 0h3m32 0h12m227 0h4m251 0h3m-1121 1h3m584 0h4m39 0h11m221 0h4m253 0h2m-1120 1h2m583 0h4m45 0h26m200 0h3m255 0h3m-1121 1h3m581 0h3m52 0h26m194 0h3m257 0h3m-1121 1h2m580 0h3m73 0h10m189 0h3m259 0h2m-1121 1h2m579 0h3m79 0h7m185 0h4m260 0h3m-1122 1h3m577 0h3m84 0h6m16 0h7m158 0h4m262 0h3m-1122 1h2m576 0h3m87 0h6m12 0h14m152 0h3m265 0h2m-1122 1h3m574 0h3m91 0h6m7 0h5m5 0h8m149 0h3m266 0h3m-1122 1h2m573 0h3m94 0h7m2 0h5m12 0h4m147 0h3m268 0h3m-1123 1h2m572 0h3m98 0h9m16 0h3m145 0h3m270 0h2m-1123 1h3m570 0h3m102 0h4m19 0h4m142 0h3m271 0h3m-1123 1h2m569 0h3m127 0h4m140 0h3m273 0h3m-1124 1h2m568 0h3m130 0h3m138 0h3m275 0h2m-1124 1h3m566 0h3m132 0h4m135 0h3m276 0h3m-1124 1h2m564 0h4m134 0h4m133 0h3m278 0h3m-1125 1h2m563 0h4m137 0h3m131 0h3m280 0h2m-1125 1h3m561 0h3m140 0h4m128 0h3m281 0h3m137 0h7m-1269 1h2m559 0h4m142 0h4m126 0h3m283 0h3m130 0h18m-1274 1h2m555 0h7m145 0h4m123 0h3m285 0h2m127 0h10m5 0h9m-1277 1h3m550 0h9m148 0h5m120 0h3m286 0h3m123 0h7m16 0h5m-1277 1h2m545 0h10m154 0h5m117 0h3m288 0h3m119 0h7m22 0h4m-1279 1h2m542 0h9m160 0h5m114 0h3m290 0h3m98 0h24m26 0h4m-1280 1h3m539 0h6m167 0h5m111 0h3m292 0h2m92 0h27m31 0h3m-1280 1h2m537 0h5m172 0h5m109 0h2m293 0h3m87 0h11m52 0h3m-1281 1h2m535 0h5m176 0h5m106 0h3m294 0h3m84 0h7m59 0h4m-1283 1h3m532 0h5m180 0h5m103 0h3m296 0h3m82 0h4m64 0h4m-1283 1h2m530 0h5m184 0h6m99 0h3m298 0h3m80 0h3m68 0h3m-1284 1h3m528 0h4m188 0h7m95 0h3m300 0h3m55 0h4m18 0h4m70 0h3m-1284 1h2m526 0h4m193 0h6m92 0h3m302 0h2m52 0h10m13 0h5m72 0h3m-1285 1h2m525 0h4m197 0h5m89 0h3m303 0h3m47 0h8m2 0h7m8 0h5m75 0h3m-1286 1h3m523 0h3m201 0h5m86 0h3m305 0h3m43 0h8m8 0h7m2 0h6m78 0h3m-1286 1h2m521 0h4m204 0h5m83 0h3m307 0h3m39 0h7m15 0h10m81 0h3m-1287 1h2m520 0h4m207 0h5m80 0h3m309 0h3m35 0h7m21 0h4m85 0h3m-1288 1h3m518 0h3m211 0h4m78 0h3m311 0h3m30 0h8m114 0h3m-1288 1h2m518 0h2m214 0h4m75 0h3m313 0h3m25 0h9m118 0h3m-1289 1h2m517 0h3m215 0h5m72 0h3m315 0h3m19 0h10m123 0h3m-1290 1h3m516 0h2m218 0h9m66 0h2m317 0h3m14 0h10m128 0h3m-1290 1h2m515 0h3m220 0h13m59 0h3m318 0h3m9 0h9m134 0h3m-1291 1h2m514 0h3m227 0h10m55 0h3m320 0h16m139 0h2m-1291 1h3m513 0h2m234 0h8m50 0h3m322 0h11m143 0h3m-1291 1h2m512 0h3m237 0h8m47 0h2m478 0h3m-1292 1h3m120 0h17m374 0h2m242 0h13m35 0h5m479 0h2m-1291 1h3m109 0h29m371 0h3m245 0h49m480 0h3m-1291 1h3m96 0h23m15 0h5m369 0h2m255 0h37m484 0h2m-1290 1h3m88 0h20m27 0h5m367 0h2m776 0h3m-1290 1h3m86 0h9m41 0h4m365 0h3m777 0h3m-1290 1h3m84 0h3m50 0h3m364 0h2m779 0h2m-1289 1h3m81 0h4m52 0h3m363 0h2m779 0h3m-1289 1h3m79 0h4m54 0h3m362 0h2m780 0h3m-1289 1h3m60 0h20m57 0h3m360 0h3m781 0h2m-1288 1h3m36 0h42m59 0h3m359 0h2m782 0h3m-1288 1h2m27 0h33m78 0h3m357 0h3m783 0h2m-1288 1h3m21 0h15m102 0h3m356 0h2m784 0h3m-1288 1h3m18 0h8m112 0h3m354 0h3m785 0h2m-1287 1h2m17 0h4m118 0h3m353 0h2m786 0h3m-1288 1h3m14 0h4m121 0h3m351 0h3m787 0h2m-1287 1h3m12 0h4m123 0h3m350 0h2m788 0h3m-1287 1h2m10 0h4m126 0h3m348 0h3m789 0h2m-1287 1h15m128 0h3m347 0h2m790 0h3m-1287 1h12m131 0h3m345 0h3m791 0h2m-1143 1h3m344 0h2m792 0h3m-1143 1h3m342 0h3m793 0h2m-1142 1h3m341 0h2m794 0h3m-1142 1h4m338 0h3m795 0h3m-1142 1h5m336 0h2m797 0h2m-1140 1h4m335 0h2m797 0h3m-1139 1h4m332 0h3m798 0h2m-1138 1h5m330 0h2m799 0h3m-1137 1h4m328 0h3m800 0h2m-1135 1h3m327 0h2m801 0h3m-1135 1h3m326 0h2m802 0h2m-1134 1h3m324 0h3m802 0h3m-1134 1h4m322 0h2m804 0h2m-1133 1h4m321 0h2m804 0h3m-1132 1h3m319 0h3m805 0h3m-1132 1h3m318 0h2m807 0h3m-1132 1h3m316 0h3m808 0h3m-1132 1h4m314 0h2m810 0h3m-1132 1h5m311 0h3m811 0h3m-1131 1h5m309 0h2m813 0h4m-1131 1h5m306 0h3m814 0h5m-1131 1h5m304 0h2m817 0h10m-1136 1h4m302 0h3m819 0h8m-1134 1h3m300 0h3m-305 1h3m299 0h2m-303 1h3m297 0h3m-302 1h3m296 0h2m-300 1h3m294 0h3m-299 1h3m56 0h24m213 0h2m-297 1h3m51 0h34m206 0h3m-296 1h3m46 0h9m22 0h9m203 0h3m-294 1h3m16 0h15m10 0h9m32 0h4m202 0h2m-292 1h6m5 0h37m38 0h3m200 0h3m-291 1h18m13 0h12m43 0h4m198 0h2m-286 1h7m76 0h4m196 0h3m-201 1h5m192 0h3m-199 1h9m187 0h2m-195 1h10m182 0h3m-190 1h7m180 0h2m-185 1h6m176 0h3m-183 1h6m27 0h12m135 0h2m-179 1h12m10 0h35m119 0h3m-177 1h29m10 0h24m111 0h2m-167 1h12m33 0h11m108 0h3m-114 1h4m106 0h3m-111 1h3m105 0h2m-109 1h4m102 0h3m-108 1h5m100 0h2m-105 1h6m96 0h3m-103 1h8m92 0h2m-99 1h8m88 0h3m-95 1h8m84 0h2m-91 1h10m78 0h3m-87 1h9m74 0h3m-81 1h6m72 0h2m-77 1h4m70 0h3m-75 1h4m67 0h3m-73 1h4m66 0h2m-70 1h4m63 0h3m-69 1h4m62 0h2m-66 1h4m59 0h3m-65 1h9m52 0h3m-62 1h12m47 0h2m-55 1h8m44 0h3m-50 1h5m41 0h3m-47 1h4m38 0h4m-44 1h4m35 0h4m-42 1h4m33 0h3m-38 1h3m30 0h4m-36 1h3m28 0h4m-34 1h4m24 0h4m-31 1h4m21 0h5m-28 1h3m19 0h4m-25 1h4m15 0h4m-22 1h6m10 0h5m-19 1h6m4 0h7m-14 1h12m-10 1h6" fill="none" stroke="#408080" stroke-width="1"/>
<path d="M15 121.5h4m-4 1h8m-5 1h10m-6 1h10m-5 1h9m-5 1h8m-4 1h6m-3 1h5m-3 1h4m-2 1h4m-3 1h4m-2 1h3m-2 1h3m-2 1h3m-2 1h2m-2 1h3m-2 1h3m-2 1h3m-2 1h3m-2 1h3m-2 1h2m-2 1h3m-2 1h3m-2 1h3m-2 1h4m-3 1h4m-2 1h3m-2 1h4m-3 1h4m-2 1h4m-3 1h4m-2 1h4m-3 1h4m-2 1h3m-2 1h4m-3 1h4m-2 1h3m-2 1h3m-2 1h2m-2 1h3m-2 1h3m-2 1h3m-2 1h2m-2 1h3m-2 1h3m-2 1h3m-2 1h2m-2 1h3m-2 1h2m-2 1h3m-2 1h2m-2 1h3m-2 1h3m-2 1h2m-2 1h3m-2 1h2m-2 1h3m-2 1h3m-2 1h2m-2 1h3m-2 1h2m-2 1h3m-2 1h2m-2 1h3m-2 1h3m-2 1h2m-2 1h3m-2 1h3m-2 1h3m-2 1h2m-2 1h3m-2 1h3m-2 1h2m-2 1h3m-2 1h3m-2 1h3m-2 1h2m-2 1h3m-2 1h3m-2 1h3m-2 1h3m-2 1h3m-2 1h3m-2 1h3m-2 1h3m-2 1h3m-2 1h3m-2 1h3m-2 1h3m-2 1h2m-2 1h3m-2 1h3m-2 1h3m-2 1h2m-2 1h3m-2 1h3m-2 1h2m-2 1h3m-2 1h3m-2 1h3m-2 1h2m-2 1h3m-2 1h3m-2 1h3m-2 1h3m-2 1h3m-2 1h3m-2 1h4m-3 1h4m-2 1h3m-2 1h3m-2 1h3m-2 1h3m-2 1h3m-2 1h3m-2 1h4m-3 1h4m-2 1h3m-2 1h3m-2 1h3m-2 1h4m-3 1h4m-2 1h3m-2 1h3m-2 1h3m-2 1h3m-2 1h3m-2 1h3m-2 1h2m-2 1h3m-2 1h3m-2 1h3m-2 1h2m-2 1h3m-2 1h3m-2 1h2m-2 1h3m-2 1h3m-2 1h3m-2 1h2m-2 1h3m-2 1h3m-2 1h3m-2 1h3m-2 1h3m-2 1h3m-2 1h3m-2 1h3m-2 1h3m1205 0h23m-1230 1h3m123 0h6m1060 0h46m-1237 1h3m118 0h15m1046 0h25m21 0h13m-1240 1h4m113 0h8m4 0h8m1041 0h13m44 0h9m-1243 1h4m110 0h6m13 0h6m1035 0h7m57 0h9m-1245 1h3m107 0h5m18 0h6m1030 0h7m64 0h7m-1246 1h4m103 0h5m23 0h6m1025 0h6m71 0h5m-1247 1h4m100 0h5m27 0h6m1021 0h5m76 0h5m-1247 1h3m97 0h5m32 0h6m1016 0h5m80 0h5m-1248 1h4m89 0h9m36 0h6m1013 0h4m84 0h5m-1249 1h4m81 0h14m41 0h5m1009 0h4m88 0h5m-1249 1h3m78 0h10m49 0h4m1007 0h4m91 0h5m-1250 1h4m73 0h6m58 0h3m1004 0h4m95 0h5m-1251 1h5m69 0h6m61 0h4m1000 0h5m98 0h5m-1251 1h5m64 0h6m65 0h4m998 0h4m102 0h5m-1251 1h6m58 0h7m69 0h3m995 0h4m106 0h5m-1251 1h6m54 0h6m73 0h3m993 0h4m109 0h5m-1250 1h5m48 0h7m77 0h3m990 0h4m113 0h5m-1250 1h12m34 0h10m80 0h4m987 0h4m116 0h5m-1250 1h28m11 0h11m85 0h4m984 0h4m120 0h4m-1242 1h36m92 0h3m982 0h4m123 0h4m-1226 1h13m98 0h3m979 0h4m126 0h4m-1115 1h4m976 0h4m129 0h4m-1116 1h4m974 0h3m132 0h4m-1115 1h3m972 0h3m135 0h3m-1115 1h4m969 0h3m137 0h4m-1116 1h4m967 0h3m139 0h4m-1115 1h3m965 0h3m142 0h3m-1115 1h4m961 0h4m144 0h3m-1115 1h4m959 0h4m146 0h3m-1114 1h3m957 0h3m149 0h3m-1114 1h4m954 0h3m151 0h3m-1114 1h4m952 0h3m153 0h2m-1112 1h3m950 0h3m154 0h3m-1112 1h3m948 0h3m156 0h3m-1112 1h3m945 0h4m158 0h3m-1112 1h3m943 0h4m160 0h3m-1112 1h4m939 0h4m163 0h3m-1112 1h4m937 0h4m165 0h3m-1111 1h3m934 0h4m168 0h4m-1112 1h3m932 0h4m170 0h4m-1112 1h3m929 0h4m174 0h3m-1112 1h3m927 0h4m176 0h3m-1112 1h3m924 0h4m179 0h4m-1113 1h3m921 0h5m181 0h4m-1113 1h3m918 0h5m185 0h3m-1113 1h3m915 0h5m188 0h3m-1113 1h2m913 0h5m191 0h4m-1115 1h3m910 0h5m194 0h4m-1115 1h3m708 0h25m174 0h5m198 0h3m-1115 1h3m697 0h37m170 0h5m201 0h3m-1115 1h3m688 0h19m23 0h5m166 0h5m204 0h3m-1115 1h3m682 0h14m35 0h5m162 0h5m207 0h4m-1116 1h3m677 0h10m45 0h6m157 0h5m210 0h4m-1116 1h3m672 0h9m52 0h7m152 0h5m214 0h3m-1116 1h2m668 0h9m59 0h7m147 0h5m217 0h3m-1117 1h3m664 0h8m66 0h7m142 0h5m220 0h4m-1118 1h3m661 0h6m73 0h6m137 0h6m223 0h4m-1118 1h3m657 0h6m79 0h6m132 0h6m227 0h4m-1119 1h3m653 0h7m83 0h6m128 0h5m231 0h4m-1119 1h3m650 0h6m89 0h6m123 0h5m235 0h3m-1119 1h3m647 0h5m94 0h6m119 0h5m238 0h4m-1120 1h3m644 0h5m99 0h6m114 0h5m241 0h4m-1120 1h2m642 0h5m103 0h6m110 0h5m245 0h4m-1122 1h3m639 0h5m108 0h8m102 0h6m248 0h4m-1122 1h3m636 0h5m112 0h12m93 0h7m252 0h4m-1123 1h3m633 0h5m119 0h17m79 0h8m256 0h4m-1123 1h3m630 0h5m127 0h19m68 0h8m261 0h4m-1124 1h3m628 0h4m139 0h14m59 0h8m266 0h4m-1124 1h3m626 0h3m149 0h15m40 0h15m271 0h4m-1125 1h3m624 0h3m155 0h61m276 0h4m-1125 1h2m623 0h3m165 0h42m288 0h4m-1127 1h3m620 0h4m497 0h4m-1127 1h3m618 0h4m500 0h4m-1128 1h3m616 0h3m503 0h4m-1128 1h3m614 0h3m506 0h4m-1129 1h3m612 0h3m508 0h4m-1129 1h3m610 0h3m511 0h3m-1129 1h3m608 0h3m513 0h4m88 0h7m-1225 1h3m606 0h3m515 0h4m79 0h18m-1227 1h3m604 0h3m518 0h4m73 0h13m5 0h7m-1229 1h3m601 0h4m520 0h5m67 0h9m16 0h7m-1231 1h3m599 0h4m523 0h5m61 0h9m23 0h9m-1235 1h3m597 0h3m527 0h6m55 0h8m30 0h14m-1242 1h3m595 0h3m530 0h6m50 0h7m39 0h15m-1247 1h3m593 0h3m534 0h7m43 0h7m50 0h11m-1250 1h3m591 0h3m537 0h10m35 0h7m59 0h9m-1253 1h3m589 0h3m542 0h12m23 0h10m66 0h8m-1255 1h3m587 0h3m548 0h15m7 0h15m73 0h6m-1256 1h3m585 0h3m555 0h25m82 0h5m-1257 1h3m583 0h3m564 0h9m92 0h5m-1258 1h3m581 0h3m668 0h4m-1258 1h3m579 0h3m671 0h4m-1259 1h3m578 0h2m673 0h5m-1260 1h3m576 0h3m675 0h5m-1261 1h3m574 0h3m678 0h5m-1262 1h3m572 0h3m681 0h5m-1263 1h3m570 0h3m684 0h5m-1264 1h3m568 0h3m687 0h5m-1265 1h3m81 0h7m478 0h3m690 0h5m-1266 1h3m74 0h18m472 0h3m693 0h5m-1267 1h3m68 0h12m5 0h16m461 0h3m696 0h4m-1267 1h4m63 0h9m16 0h21m450 0h3m699 0h3m-1267 1h5m58 0h7m31 0h16m444 0h3m701 0h3m-1266 1h5m53 0h7m44 0h11m438 0h3m703 0h3m-1265 1h5m37 0h18m52 0h9m434 0h3m705 0h3m-1264 1h7m21 0h27m60 0h6m432 0h2m707 0h3m-1263 1h13m6 0h20m77 0h5m429 0h3m708 0h3m-1260 1h23m91 0h5m426 0h3m710 0h3m-1253 1h8m100 0h4m424 0h3m712 0h3m-1144 1h4m421 0h3m714 0h3m-1144 1h5m418 0h3m716 0h3m-1143 1h4m416 0h3m718 0h3m-1142 1h4m413 0h3m720 0h3m-1142 1h5m410 0h3m722 0h3m-1141 1h5m407 0h3m724 0h3m-1140 1h5m405 0h2m726 0h3m-1139 1h5m402 0h3m727 0h3m-1138 1h5m399 0h3m729 0h4m-1138 1h4m397 0h3m731 0h4m-1137 1h4m394 0h3m734 0h3m-1137 1h5m391 0h3m736 0h3m-1136 1h5m388 0h3m738 0h3m-1135 1h4m386 0h3m740 0h3m-1134 1h4m384 0h2m742 0h3m-1134 1h5m381 0h3m743 0h3m-1133 1h5m378 0h3m745 0h4m-1133 1h7m373 0h3m747 0h4m-1132 1h9m368 0h3m750 0h3m-1129 1h9m363 0h3m752 0h3m-1126 1h10m357 0h3m754 0h3m-1123 1h14m349 0h2m756 0h4m-1120 1h14m73 0h17m253 0h3m757 0h4m-1113 1h9m66 0h25m248 0h3m760 0h3m-1109 1h8m58 0h9m15 0h9m243 0h3m762 0h3m-1107 1h8m51 0h9m23 0h9m238 0h3m764 0h4m-1105 1h7m44 0h9m31 0h8m234 0h3m766 0h4m-1103 1h8m36 0h9m39 0h7m230 0h3m769 0h4m-1102 1h8m23 0h15m46 0h8m226 0h2m771 0h4m-1099 1h38m53 0h8m222 0h3m773 0h3m-1097 1h25m67 0h9m216 0h3m775 0h4m-1004 1h14m207 0h3m777 0h8m-1004 1h30m185 0h3m780 0h13m-1003 1h27m179 0h3m786 0h12m-986 1h11m172 0h4m794 0h5m-981 1h10m167 0h4m-176 1h9m162 0h3m-170 1h9m157 0h3m-165 1h9m152 0h3m-160 1h7m148 0h4m-155 1h5m145 0h4m-152 1h5m142 0h3m-148 1h4m140 0h3m-145 1h4m138 0h2m-143 1h5m135 0h3m-141 1h5m133 0h2m-138 1h5m130 0h3m-136 1h5m128 0h2m-133 1h5m125 0h3m-131 1h5m122 0h3m-128 1h5m119 0h3m-125 1h4m118 0h2m-122 1h4m115 0h3m-121 1h5m112 0h3m-118 1h4m110 0h3m-115 1h4m107 0h3m-113 1h5m104 0h3m-110 1h4m102 0h3m-107 1h4m99 0h3m-105 1h5m96 0h3m-102 1h4m94 0h3m-99 1h4m91 0h3m-97 1h5m88 0h3m-94 1h5m85 0h3m-91 1h5m82 0h3m-88 1h5m78 0h4m-85 1h5m74 0h5m-82 1h4m72 0h4m-78 1h4m68 0h4m-75 1h5m64 0h5m-72 1h5m60 0h5m-68 1h4m56 0h6m-64 1h4m52 0h6m-61 1h5m47 0h6m-56 1h5m42 0h7m-52 1h7m33 0h9m-47 1h8m22 0h14m-40 1h35m-32 1h24" fill="none" stroke="#408080" stroke-width="1"/>
<path d="M15 184.5h3m-3 1h6m-4 1h6m-3 1h6m-4 1h7m-4 1h7m-4 1h6m-3 1h5m-3 1h4m-2 1h3m-2 1h4m-3 1h4m-2 1h3m-2 1h3m-2 1h2m-2 1h3m-2 1h2m-2 1h3m-2 1h2m-2 1h3m-2 1h2m-2 1h3m-2 1h2m-2 1h3m-2 1h2m-2 1h3m-2 1h2m-2 1h3m-2 1h2m-2 1h3m-2 1h2m-2 1h3m-2 1h2m-2 1h3m-2 1h2m-2 1h3m-2 1h2m-2 1h2m-2 1h3m-2 1h2m-2 1h3m-2 1h2m-2 1h3m-2 1h2m-2 1h3m-2 1h2m-2 1h3m-2 1h2m-2 1h3m-2 1h2m-2 1h3m-2 1h3m-2 1h2m-2 1h3m-2 1h2m-2 1h3m-2 1h3m-2 1h2m-2 1h3m-2 1h2m-2 1h3m-2 1h2m-2 1h3m-2 1h2m-2 1h3m-2 1h2m-2 1h3m-2 1h2m-2 1h3m-2 1h2m-2 1h3m-2 1h2m-2 1h3m-2 1h2m-2 1h3m-2 1h2m-2 1h3m-2 1h2m-2 1h3m-2 1h2m-2 1h3m-2 1h2m-2 1h2m-2 1h3m-2 1h2m-2 1h2m-2 1h3m-2 1h2m-2 1h2m-2 1h3m-2 1h2m-2 1h3m-2 1h2m-2 1h2m-2 1h3m-2 1h2m-2 1h2m-2 1h3m-2 1h2m-2 1h2m-2 1h3m-2 1h2m-2 1h2m-2 1h3m-2 1h2m-2 1h2m-2 1h3m-2 1h2m-2 1h3m-2 1h2m1300 0h10m-1312 1h2m1295 0h22m-1319 1h3m1290 0h10m8 0h10m-1320 1h2m1288 0h7m20 0h5m-1322 1h3m1285 0h5m26 0h5m-1323 1h3m1282 0h5m30 0h4m-1323 1h2m1278 0h7m34 0h4m-1325 1h3m1271 0h11m37 0h4m-1325 1h3m1267 0h10m43 0h4m-1326 1h3m1263 0h7m50 0h4m-1326 1h2m1261 0h6m55 0h3m-1327 1h3m1258 0h5m59 0h4m-1328 1h4m199 0h2m1054 0h4m62 0h4m-1328 1h6m195 0h4m1052 0h3m66 0h3m-1327 1h17m181 0h6m1049 0h4m68 0h3m-1325 1h15m179 0h3m2 0h3m1047 0h4m70 0h3m-1313 1h2m178 0h3m4 0h3m1044 0h4m73 0h4m-1315 1h3m176 0h3m6 0h3m1042 0h4m75 0h4m-1315 1h3m174 0h3m8 0h3m1040 0h3m79 0h3m-1315 1h3m172 0h3m10 0h3m1039 0h2m81 0h3m-1315 1h2m172 0h2m12 0h3m1037 0h3m82 0h3m-1316 1h3m170 0h3m13 0h2m1037 0h2m84 0h3m-1316 1h3m168 0h3m14 0h3m1035 0h3m85 0h3m-1316 1h4m165 0h3m16 0h3m1034 0h2m87 0h4m-1317 1h4m164 0h2m18 0h2m1033 0h3m88 0h4m-1316 1h3m162 0h3m18 0h3m1032 0h2m91 0h3m-1316 1h4m159 0h3m20 0h3m1030 0h3m92 0h3m-1316 1h4m157 0h3m22 0h3m1029 0h2m94 0h3m-1315 1h3m156 0h2m24 0h2m1028 0h3m95 0h4m-1316 1h3m154 0h3m24 0h3m1027 0h2m97 0h4m-1316 1h2m153 0h3m26 0h3m1025 0h3m99 0h3m-1317 1h3m151 0h3m28 0h2m1025 0h2m101 0h3m-1317 1h3m149 0h3m29 0h3m1023 0h3m102 0h3m-1317 1h3m148 0h2m31 0h3m1022 0h2m104 0h3m-1317 1h2m147 0h3m32 0h2m1021 0h3m105 0h3m-1318 1h3m145 0h3m33 0h3m1019 0h3m107 0h3m-1318 1h3m104 0h8m31 0h3m35 0h3m1018 0h2m109 0h3m-1318 1h3m97 0h19m25 0h3m37 0h2m1017 0h3m110 0h3m-1318 1h2m95 0h9m6 0h10m20 0h3m38 0h3m1016 0h2m112 0h3m-1319 1h3m91 0h6m17 0h12m13 0h2m40 0h3m1014 0h3m113 0h3m-1319 1h3m88 0h6m23 0h16m4 0h3m41 0h2m1014 0h2m115 0h3m-1319 1h3m78 0h12m33 0h15m42 0h3m1012 0h3m116 0h3m-1319 1h2m5 0h8m54 0h21m43 0h6m44 0h3m1010 0h3m118 0h3m-1320 1h18m43 0h20m103 0h2m1010 0h2m120 0h2m-1319 1h7m6 0h8m34 0h14m114 0h3m1008 0h3m120 0h3m-1304 1h8m29 0h8m123 0h3m1006 0h3m122 0h2m-1300 1h8m23 0h5m129 0h2m1005 0h3m123 0h3m-1298 1h9m16 0h6m131 0h3m1004 0h2m125 0h2m-1294 1h9m10 0h6m134 0h2m1003 0h3m125 0h3m-1291 1h18m137 0h3m1001 0h3m127 0h2m-1287 1h12m140 0h2m1001 0h2m128 0h3m-1136 1h3m999 0h3m129 0h2m-1135 1h2m998 0h3m130 0h3m-1136 1h2m755 0h4m238 0h3m132 0h2m-1136 1h3m752 0h8m236 0h2m133 0h3m-1136 1h2m750 0h5m2 0h6m232 0h3m134 0h2m-1136 1h3m748 0h4m6 0h6m229 0h3m135 0h3m-1136 1h2m747 0h3m11 0h10m221 0h3m137 0h3m-1137 1h2m745 0h4m14 0h14m214 0h3m139 0h2m-1137 1h3m743 0h4m22 0h11m209 0h3m140 0h3m-1137 1h2m742 0h3m30 0h8m205 0h3m142 0h2m-1137 1h3m740 0h3m35 0h11m46 0h10m27 0h23m91 0h3m143 0h3m-1137 1h2m739 0h3m39 0h15m33 0h70m86 0h3m145 0h3m-1138 1h2m737 0h4m47 0h13m20 0h15m8 0h29m21 0h8m82 0h3m147 0h2m-1138 1h3m735 0h4m55 0h35m68 0h7m78 0h3m148 0h3m-1138 1h2m734 0h3m62 0h22m79 0h6m75 0h3m150 0h2m-1138 1h3m731 0h4m167 0h5m72 0h3m151 0h3m-1138 1h2m725 0h9m170 0h5m69 0h3m153 0h2m-1138 1h2m718 0h14m174 0h4m66 0h4m154 0h3m-1139 1h3m715 0h10m182 0h4m62 0h5m156 0h3m-1139 1h2m713 0h5m190 0h5m59 0h4m159 0h2m-1139 1h3m710 0h5m194 0h5m6 0h21m28 0h4m161 0h3m-1139 1h2m708 0h5m198 0h36m20 0h5m163 0h2m-1139 1h3m705 0h5m202 0h8m19 0h12m12 0h6m165 0h3m-1139 1h2m704 0h4m237 0h22m168 0h2m-1139 1h3m701 0h4m244 0h14m171 0h3m-1139 1h2m700 0h4m431 0h2m-1139 1h3m698 0h3m433 0h3m-1139 1h3m695 0h4m435 0h2m-1138 1h2m694 0h4m436 0h3m-1139 1h3m692 0h3m439 0h2m-1138 1h2m690 0h4m440 0h3m-1139 1h3m688 0h4m442 0h2m-1138 1h2m687 0h3m444 0h3m-1139 1h3m685 0h3m446 0h2m-1138 1h3m683 0h3m447 0h3m-1138 1h2m682 0h3m449 0h2m-1138 1h3m681 0h2m450 0h3m-1138 1h2m680 0h3m451 0h2m133 0h2m-1273 1h3m678 0h3m452 0h3m130 0h5m-1273 1h3m676 0h3m454 0h2m128 0h8m-1273 1h2m675 0h3m455 0h3m125 0h5m3 0h3m-1274 1h3m673 0h3m457 0h2m123 0h5m6 0h3m-1274 1h3m672 0h2m458 0h3m120 0h5m9 0h3m-1274 1h2m671 0h3m459 0h3m118 0h4m12 0h3m-1275 1h3m669 0h3m461 0h2m117 0h3m15 0h3m-1275 1h3m667 0h3m462 0h3m115 0h3m17 0h2m-1274 1h2m666 0h3m464 0h2m114 0h3m18 0h3m-1275 1h3m665 0h2m465 0h3m111 0h4m20 0h3m-1275 1h3m663 0h3m466 0h2m110 0h4m22 0h3m-1275 1h2m663 0h2m467 0h3m108 0h3m25 0h2m-1275 1h3m661 0h3m468 0h2m107 0h3m26 0h3m-1275 1h3m659 0h3m469 0h3m64 0h20m14 0h10m28 0h3m-1275 1h2m659 0h2m471 0h2m62 0h45m30 0h3m-1276 1h3m657 0h3m471 0h3m59 0h5m18 0h16m39 0h2m-1275 1h3m656 0h2m473 0h2m57 0h5m75 0h3m-1275 1h2m655 0h3m473 0h4m53 0h5m78 0h4m-1277 1h3m653 0h3m475 0h5m49 0h5m81 0h5m-1278 1h2m653 0h2m478 0h5m45 0h5m85 0h5m-1280 1h3m651 0h3m480 0h5m41 0h5m89 0h5m-1281 1h3m650 0h2m483 0h9m32 0h6m93 0h7m-1284 1h2m649 0h3m485 0h13m24 0h6m97 0h13m-1292 1h3m648 0h2m492 0h9m19 0h6m104 0h14m-1296 1h3m646 0h3m498 0h6m14 0h6m114 0h8m-1297 1h2m646 0h2m501 0h6m6 0h9m122 0h5m-1299 1h3m138 0h6m500 0h3m504 0h16m126 0h5m-1300 1h2m135 0h12m497 0h2m507 0h8m134 0h5m-1302 1h3m130 0h8m4 0h5m496 0h2m651 0h4m-1302 1h2m128 0h7m10 0h3m494 0h3m653 0h3m-1303 1h3m125 0h5m15 0h3m493 0h2m655 0h3m-1303 1h2m124 0h4m18 0h2m492 0h3m656 0h2m-1303 1h3m122 0h3m20 0h3m491 0h2m657 0h3m-1303 1h2m73 0h7m40 0h4m22 0h3m489 0h3m658 0h3m-1304 1h3m67 0h16m35 0h4m24 0h5m486 0h2m660 0h3m-1304 1h2m66 0h7m5 0h18m20 0h4m27 0h9m481 0h2m661 0h2m-1304 1h3m63 0h4m14 0h37m31 0h11m475 0h3m661 0h3m-1304 1h2m62 0h4m28 0h22m38 0h11m470 0h2m663 0h3m-1305 1h3m60 0h3m95 0h9m466 0h3m664 0h3m-1305 1h2m59 0h3m101 0h5m465 0h2m666 0h2m-1305 1h3m56 0h4m105 0h3m463 0h3m666 0h3m-1305 1h3m54 0h4m107 0h3m461 0h3m668 0h3m-1305 1h3m52 0h3m110 0h4m459 0h2m670 0h2m-1304 1h2m51 0h3m112 0h4m457 0h3m670 0h3m-1305 1h3m48 0h4m115 0h3m455 0h3m672 0h3m-1305 1h3m46 0h4m117 0h3m453 0h3m674 0h2m-1304 1h3m44 0h3m120 0h3m451 0h3m675 0h3m-1304 1h2m43 0h3m122 0h3m450 0h2m677 0h3m-1305 1h3m40 0h4m124 0h3m448 0h3m678 0h2m-1304 1h3m38 0h4m126 0h3m142 0h25m279 0h3m679 0h3m-1304 1h3m36 0h3m129 0h3m136 0h34m274 0h3m681 0h3m-1304 1h3m34 0h3m131 0h3m132 0h9m23 0h8m271 0h2m683 0h2m-1303 1h2m33 0h3m133 0h2m131 0h5m32 0h11m263 0h3m683 0h3m-1304 1h3m31 0h3m134 0h3m67 0h10m52 0h3m38 0h15m256 0h2m685 0h2m-1303 1h5m27 0h3m136 0h3m63 0h14m49 0h4m46 0h12m251 0h3m685 0h3m-1303 1h8m22 0h3m138 0h3m59 0h7m8 0h3m47 0h4m54 0h9m247 0h2m687 0h2m-1300 1h10m16 0h3m140 0h3m55 0h7m12 0h3m43 0h5m60 0h10m241 0h3m687 0h3m-1297 1h10m7 0h7m142 0h3m51 0h7m16 0h3m38 0h8m65 0h12m234 0h3m689 0h2m-1292 1h18m144 0h3m47 0h7m20 0h3m32 0h10m73 0h12m229 0h2m690 0h3m-1289 1h9m150 0h3m42 0h8m24 0h40m83 0h8m226 0h3m691 0h2m-1129 1h2m39 0h8m28 0h34m93 0h6m223 0h2m692 0h3m-1130 1h3m35 0h7m161 0h6m220 0h3m693 0h2m-1129 1h3m30 0h8m167 0h5m218 0h2m694 0h3m-1129 1h7m21 0h9m172 0h6m214 0h3m695 0h3m-1129 1h32m178 0h8m209 0h3m697 0h3m-1125 1h23m185 0h9m204 0h3m699 0h4m-915 1h9m199 0h3m701 0h4m-912 1h7m196 0h3m704 0h3m-909 1h4m194 0h3m706 0h3m-908 1h3m192 0h3m708 0h3m-908 1h4m189 0h3m710 0h3m-908 1h4m187 0h3m712 0h3m-907 1h3m185 0h3m714 0h2m-906 1h3m183 0h3m715 0h3m-906 1h3m182 0h2m717 0h3m-906 1h4m179 0h3m718 0h3m-906 1h4m178 0h2m720 0h2m-904 1h3m176 0h3m720 0h3m-904 1h4m174 0h2m722 0h3m-904 1h4m172 0h3m723 0h4m33 0h10m-947 1h3m171 0h2m725 0h4m30 0h12m-946 1h4m169 0h2m727 0h3m26 0h6m-936 1h4m167 0h3m728 0h4m22 0h6m-932 1h3m166 0h2m730 0h4m19 0h5m-928 1h4m163 0h3m732 0h4m15 0h5m-925 1h4m162 0h2m734 0h6m10 0h5m-921 1h3m160 0h3m736 0h6m4 0h7m-918 1h4m158 0h2m740 0h12m-915 1h4m157 0h2m742 0h6m-909 1h3m155 0h3m-160 1h3m154 0h2m-158 1h3m152 0h3m-157 1h3m151 0h2m-155 1h3m150 0h2m-154 1h3m148 0h3m-153 1h3m147 0h2m-151 1h3m145 0h3m-150 1h3m144 0h2m-148 1h3m143 0h2m-147 1h4m140 0h3m-146 1h5m138 0h2m-143 1h6m134 0h3m-141 1h6m132 0h2m-137 1h5m130 0h2m-135 1h4m128 0h3m-133 1h4m126 0h2m-131 1h4m124 0h3m-129 1h3m123 0h2m-127 1h3m121 0h3m-126 1h4m119 0h2m-124 1h4m117 0h3m-122 1h4m115 0h2m-120 1h5m18 0h8m86 0h3m-118 1h5m5 0h24m81 0h2m-115 1h20m6 0h10m76 0h3m-113 1h7m22 0h8m73 0h2m-79 1h8m68 0h3m-76 1h8m64 0h3m-71 1h6m62 0h2m-67 1h5m59 0h3m-65 1h4m57 0h3m-62 1h3m55 0h3m-60 1h4m53 0h2m-58 1h4m51 0h3m-56 1h3m49 0h3m-54 1h4m46 0h3m-52 1h4m45 0h2m-49 1h3m43 0h3m-48 1h4m40 0h3m-46 1h5m37 0h3m-43 1h4m35 0h3m-40 1h4m32 0h3m-38 1h5m29 0h3m-35 1h4m28 0h2m-32 1h4m25 0h3m-31 1h5m22 0h3m-28 1h5m19 0h3m-25 1h5m4 0h15m-22 1h21m-19 1h6" fill="none" stroke="#408080" stroke-width="1"/>
<rect x="86" y="367" width="1750" height="2" fill="#ff0000"/>
<rect x="86" y="376" width="1750" height="2" fill="#ff0000"/>
<rect x="68" y="407" width="1768" height="2" fill="#008000"/>
<rect x="86" y="419" width="1750" height="2" fill="#008000"/>
<path d="M994 281.5h5m-5 1h13m-9 1h16m-8 1h16m-9 1h16m-8 1h16m-9 1h16m-8 1h16m-9 1h16m-8 1h16m-9 1h16m-8 1h16m-9 1h16m-8 1h16m-9 1h16m-8 1h16m-9 1h16m-8 1h16m-9 1h16m-8 1h16m-9 1h16m-8 1h16m-9 1h16m-8 1h16m-9 1h16m-8 1h16m-9 1h16m-8 1h16m-9 1h17m-9 1h16m-8 1h16m-9 1h16m-8 1h16m-9 1h16m-8 1h16m-9 1h16m-8 1h16m-9 1h16m-8 1h16m-9 1h16m-8 1h16m-9 1h16m-8 1h16m-9 1h16m-8 1h16m-9 1h16m-8 1h16m-9 1h16m-8 1h16m-9 1h16m-8 1h16m-9 1h16m-8 1h16m-9 1h16m-8 1h16m-9 1h16m-8 1h16m-9 1h16m-8 1h16m-9 1h16m-8 1h16m-9 1h16m-8 1h16m-9 1h16m-8 1h16m-9 1h16m-8 1h16m-9 1h16m-8 1h16m-9 1h16m-8 1h16m-9 1h16m-8 1h16m-9 1h16m-8 1h16m-9 1h16m-8 1h16m-9 1h16m-8 1h16m-9 1h16m-8 1h16m-9 1h16m-8 1h16m-9 1h16m-8 1h16m-9 1h17m-9 1h16m-8 1h16m-9 1h16m-8 1h16m-9 1h16m-8 1h16m-9 1h16m-8 1h16m-9 1h16m-8 1h16m-9 1h16m-8 1h16m-9 1h16m-8 1h16m-9 1h16m-8 1h16m-9 1h16m-8 1h16m-9 1h16m-8 1h16m-9 1h16m-8 1h16m-9 1h16m-8 1h16m-9 1h16m-8 1h16m-9 1h13m-5 1h5" fill="none" stroke="#ff0000" stroke-width="1"/>
<path d="M1303 237.5h3m-3 1h7m-5 1h8m-4 1h7m-4 1h8m-5 1h8m-4 1h7m-4 1h8m-5 1h8m-4 1h7m-4 1h8m-5 1h8m-4 1h8m-5 1h8m-4 1h7m-4 1h8m-5 1h8m-4 1h7m-4 1h8m-5 1h8m-4 1h7m-4 1h8m-5 1h8m-4 1h7m-4 1h8m-5 1h8m-4 1h8m-5 1h8m-4 1h7m-4 1h8m-5 1h8m-4 1h7m-4 1h8m-5 1h8m-4 1h7m-4 1h8m-5 1h8m-4 1h8m-5 1h8m-4 1h7m-4 1h8m-5 1h8m-4 1h7m-4 1h8m-5 1h8m-4 1h7m-4 1h8m-5 1h8m-4 1h7m-4 1h8m-5 1h8m-4 1h8m-5 1h8m-4 1h7m-4 1h8m-5 1h8m-4 1h7m-4 1h8m-5 1h8m-4 1h7m-4 1h8m-5 1h8m-4 1h8m-5 1h8m-4 1h7m-4 1h8m-5 1h8m-4 1h7m-4 1h8m-5 1h8m-4 1h7m-4 1h8m-5 1h8m-4 1h7m-4 1h8m-5 1h8m-4 1h8m-5 1h8m-4 1h7m-4 1h8m-5 1h8m-4 1h7m-4 1h8m-5 1h8m-4 1h7m-4 1h8m-5 1h8m-4 1h8m-5 1h8m-4 1h7m-4 1h8m-5 1h8m-4 1h7m-4 1h8m-5 1h8m-4 1h7m-4 1h8m-5 1h8m-4 1h7m-4 1h8m-5 1h8m-4 1h8m-5 1h8m-4 1h7m-4 1h8m-5 1h8m-4 1h7m-4 1h8m-5 1h8m-4 1h7m-4 1h8m-5 1h8m-4 1h8m-5 1h8m-4 1h7m-4 1h8m-5 1h8m-4 1h7m-4 1h8m-5 1h8m-4 1h7m-4 1h8m-5 1h8m-4 1h7m-4 1h8m-5 1h8m-4 1h8m-5 1h8m-4 1h7m-4 1h8m-5 1h8m-4 1h7m-4 1h8m-5 1h8m-4 1h7m-4 1h8m-5 1h7m-3 1h3" fill="none" stroke="#ff0000" stroke-width="1"/>
<path d="M1315 341.5h3m-3 1h7m-5 1h8m-4 1h7m-4 1h8m-5 1h8m-4 1h8m-5 1h8m-4 1h7m-4 1h8m-5 1h8m-4 1h7m-4 1h8m-5 1h8m-4 1h8m-5 1h8m-4 1h7m-4 1h8m-5 1h8m-4 1h8m-5 1h8m-4 1h7m-4 1h8m-5 1h8m-4 1h7m-4 1h8m-5 1h8m-4 1h8m-5 1h8m-4 1h7m-4 1h8m-5 1h8m-4 1h8m-5 1h8m-4 1h7m-4 1h8m-5 1h8m-4 1h7m-4 1h8m-5 1h8m-4 1h8m-5 1h8m-4 1h7m-4 1h8m-5 1h8m-4 1h8m-5 1h8m-4 1h7m-4 1h8m-5 1h8m-4 1h7m-4 1h8m-5 1h8m-4 1h8m-5 1h8m-4 1h7m-4 1h8m-5 1h8m-4 1h8m-5 1h8m-4 1h7m-4 1h8m-5 1h8m-4 1h7m-4 1h8m-5 1h8m-4 1h8m-5 1h8m-4 1h7m-4 1h8m-5 1h8m-4 1h8m-5 1h8m-4 1h7m-4 1h8m-5 1h8m-4 1h7m-4 1h8m-5 1h8m-4 1h8m-5 1h8m-4 1h7m-4 1h8m-5 1h8m-4 1h8m-5 1h8m-4 1h7m-4 1h8m-5 1h8m-4 1h7m-4 1h8m-5 1h8m-4 1h8m-5 1h8m-4 1h7m-4 1h8m-5 1h8m-4 1h8m-5 1h8m-4 1h7m-4 1h8m-5 1h8m-4 1h7m-4 1h8m-5 1h8m-4 1h8m-5 1h8m-4 1h7m-4 1h8m-5 1h8m-4 1h8m-5 1h8m-4 1h7m-4 1h8m-5 1h8m-4 1h7m-4 1h8m-5 1h8m-4 1h8m-5 1h8m-4 1h7m-4 1h8m-5 1h8m-4 1h8m-5 1h8m-4 1h7m-4 1h8m-5 1h8m-4 1h7m-4 1h8m-5 1h8m-4 1h8m-5 1h8m-4 1h7m-4 1h8m-5 1h7m-3 1h3" fill="none" stroke="#ff0000" stroke-width="1"/>
</g>
<text x="16.6" y="374.2" font-size="13.8" fill="#0a830a" textLength="64.5" lengthAdjust="spacingAndGlyphs">42,343.88</text>
<text x="16.6" y="383.2" font-size="13.8" fill="#0a830a" textLength="64.5" lengthAdjust="spacingAndGlyphs">42,000.55</text>
<text x="16.6" y="414.2" font-size="13.8" fill="#0a830a" textLength="44.5" lengthAdjust="spacingAndGlyphs">40,879</text>
<text x="16.6" y="426.1" font-size="13.8" fill="#0a830a" textLength="64.5" lengthAdjust="spacingAndGlyphs">40,444.11</text>
<text x="23.6" y="41.7" font-size="13.8" fill="#ff0000" textLength="31.6" lengthAdjust="spacingAndGlyphs">Cndl,</text>
<text x="58.4" y="41.7" font-size="13.8" fill="#ff0000" textLength="32.4" lengthAdjust="spacingAndGlyphs">.KSE,</text>
<text x="95.5" y="41.7" font-size="13.8" fill="#ff0000" textLength="69.0" lengthAdjust="spacingAndGlyphs">7/20/2018,</text>
<text x="169.2" y="41.7" font-size="13.8" fill="#ff0000" textLength="66.5" lengthAdjust="spacingAndGlyphs">41,810.96,</text>
<text x="240.9" y="41.7" font-size="13.8" fill="#ff0000" textLength="67.3" lengthAdjust="spacingAndGlyphs">41,810.96,</text>
<text x="313.4" y="41.7" font-size="13.8" fill="#ff0000" textLength="67.2" lengthAdjust="spacingAndGlyphs">41,157.45,</text>
<text x="385.4" y="41.7" font-size="13.8" fill="#ff0000" textLength="67.7" lengthAdjust="spacingAndGlyphs">41,221.75,</text>
<text x="458.7" y="41.7" font-size="13.8" fill="#ff0000" textLength="50.6" lengthAdjust="spacingAndGlyphs">-573.84,</text>
<text x="514.7" y="41.7" font-size="13.8" fill="#ff0000" textLength="63.6" lengthAdjust="spacingAndGlyphs">(-1.37%),</text>
<text x="583.6" y="41.7" font-size="13.8" fill="#408080" textLength="44.2" lengthAdjust="spacingAndGlyphs">BBand,</text>
<text x="630.7" y="41.7" font-size="13.8" fill="#408080" textLength="31.9" lengthAdjust="spacingAndGlyphs">.KSE,</text>
<text x="667.5" y="41.7" font-size="13.8" fill="#408080" textLength="70.7" lengthAdjust="spacingAndGlyphs">7/20/2018,</text>
<text x="741.1" y="41.7" font-size="13.8" fill="#408080" textLength="69.4" lengthAdjust="spacingAndGlyphs">42,472.97,</text>
<text x="813.5" y="41.7" font-size="13.8" fill="#408080" textLength="69.4" lengthAdjust="spacingAndGlyphs">40,700.32,</text>
<text x="885.9" y="41.7" font-size="13.8" fill="#408080" textLength="65.3" lengthAdjust="spacingAndGlyphs">38,927.66</text>
<rect x="1882.5" y="28.5" width="12" height="12" rx="2" fill="#e9e9e9" stroke="#8c9fbd"/>
<rect x="1883.5" y="29.5" width="10" height="10" rx="1" fill="#eeeeee" stroke="#565f72"/>
<rect x="1884.5" y="37.5" width="8" height="1" fill="#dcdcdc" stroke="none"/>
<rect x="1886.5" y="33.5" width="4" height="2" fill="#8fb0dd" stroke="#4a5670"/>
<rect x="1897.5" y="28.5" width="12" height="12" rx="1.5" fill="#e58b78" stroke="#4a1020"/>
<path d="M1900.5 31.5 L1906.5 37.5 M1906.5 31.5 L1900.5 37.5" stroke="#3a2030" stroke-width="3.6" stroke-linecap="square"/>
<path d="M1900.5 31.5 L1906.5 37.5 M1906.5 31.5 L1900.5 37.5" stroke="#fff" stroke-width="2" stroke-linecap="square"/>
<text x="1842.5" y="56.8" font-size="13.8" fill="#000" font-weight="bold" textLength="32.5" lengthAdjust="spacingAndGlyphs">Price</text>
<rect x="1837" y="76" width="5" height="1" fill="#000"/>
<text x="1844" y="82" font-size="13.8" fill="#000" textLength="44.2" lengthAdjust="spacingAndGlyphs">53,000</text>
<rect x="1837" y="104" width="5" height="1" fill="#000"/>
<text x="1844" y="110" font-size="13.8" fill="#000" textLength="44.2" lengthAdjust="spacingAndGlyphs">52,000</text>
<rect x="1837" y="131" width="5" height="1" fill="#000"/>
<text x="1844" y="137" font-size="13.8" fill="#000" textLength="44.2" lengthAdjust="spacingAndGlyphs">51,000</text>
<rect x="1837" y="158" width="5" height="1" fill="#000"/>
<text x="1844" y="164" font-size="13.8" fill="#000" font-weight="bold" textLength="49" lengthAdjust="spacingAndGlyphs">50,000</text>
<rect x="1837" y="186" width="5" height="1" fill="#000"/>
<text x="1844" y="192" font-size="13.8" fill="#000" textLength="44.2" lengthAdjust="spacingAndGlyphs">49,000</text>
<rect x="1837" y="213" width="5" height="1" fill="#000"/>
<text x="1844" y="219" font-size="13.8" fill="#000" textLength="44.2" lengthAdjust="spacingAndGlyphs">48,000</text>
<rect x="1837" y="241" width="5" height="1" fill="#000"/>
<text x="1844" y="247" font-size="13.8" fill="#000" textLength="44.2" lengthAdjust="spacingAndGlyphs">47,000</text>
<rect x="1837" y="268" width="5" height="1" fill="#000"/>
<text x="1844" y="274" font-size="13.8" fill="#000" textLength="44.2" lengthAdjust="spacingAndGlyphs">46,000</text>
<rect x="1837" y="295" width="5" height="1" fill="#000"/>
<text x="1844" y="301" font-size="13.8" fill="#000" textLength="44.2" lengthAdjust="spacingAndGlyphs">45,000</text>
<rect x="1837" y="323" width="5" height="1" fill="#000"/>
<text x="1844" y="329" font-size="13.8" fill="#000" textLength="44.2" lengthAdjust="spacingAndGlyphs">44,000</text>
<rect x="1837" y="350" width="5" height="1" fill="#000"/>
<text x="1844" y="356" font-size="13.8" fill="#000" textLength="44.2" lengthAdjust="spacingAndGlyphs">43,000</text>
<rect x="1837" y="377" width="5" height="1" fill="#000"/>
<text x="1844" y="383" font-size="13.8" fill="#000" textLength="44.2" lengthAdjust="spacingAndGlyphs">42,000</text>
<rect x="1837" y="432" width="5" height="1" fill="#000"/>
<text x="1844" y="438" font-size="13.8" fill="#000" font-weight="bold" textLength="49" lengthAdjust="spacingAndGlyphs">40,000</text>
<rect x="1837" y="487" width="5" height="1" fill="#000"/>
<text x="1844" y="493" font-size="13.8" fill="#000" textLength="44.2" lengthAdjust="spacingAndGlyphs">38,000</text>
<rect x="1837" y="514" width="5" height="1" fill="#000"/>
<rect x="1837" y="356" width="75" height="17" fill="#408080"/>
<text x="1837.6" y="369.7" font-size="13.8" fill="#fff" textLength="63.5" lengthAdjust="spacingAndGlyphs">42,472.97</text>
<rect x="1837" y="391" width="75" height="17" fill="#ff0000"/>
<text x="1837.6" y="404.7" font-size="13.8" fill="#000" font-weight="bold" textLength="70.5" lengthAdjust="spacingAndGlyphs">41,221.75</text>
<rect x="1837" y="408" width="75" height="17" fill="#408080"/>
<text x="1837.6" y="421.7" font-size="13.8" fill="#fff" textLength="63.5" lengthAdjust="spacingAndGlyphs">40,700.32</text>
<rect x="1837" y="454" width="75" height="17" fill="#408080"/>
<text x="1837.6" y="467.7" font-size="13.8" fill="#fff" textLength="63.5" lengthAdjust="spacingAndGlyphs">38,927.66</text>
<rect x="1843.5" y="515.5" width="35" height="16" fill="#fff" stroke="#000"/>
<text x="1845" y="529" font-size="13.8" fill="#000" font-weight="bold" textLength="32.5" lengthAdjust="spacingAndGlyphs">Auto</text>
<text x="23.6" y="549.8" font-size="13.8" fill="#ff0000" textLength="25.6" lengthAdjust="spacingAndGlyphs">RSI,</text>
<text x="53.1" y="549.8" font-size="13.8" fill="#ff0000" textLength="32.4" lengthAdjust="spacingAndGlyphs">.KSE,</text>
<text x="89.9" y="549.8" font-size="13.8" fill="#ff0000" textLength="70.7" lengthAdjust="spacingAndGlyphs">7/20/2018,</text>
<text x="163.9" y="549.8" font-size="13.8" fill="#ff0000" textLength="49.9" lengthAdjust="spacingAndGlyphs">50.255,</text>
<text x="218.9" y="549.8" font-size="13.8" fill="#000080" textLength="31.6" lengthAdjust="spacingAndGlyphs">EMA,</text>
<text x="253.2" y="549.8" font-size="13.8" fill="#000080" textLength="64.2" lengthAdjust="spacingAndGlyphs">RSI(.KSE),</text>
<text x="321.1" y="549.8" font-size="13.8" fill="#000080" textLength="70.7" lengthAdjust="spacingAndGlyphs">7/20/2018,</text>
<text x="395.1" y="549.8" font-size="13.8" fill="#000080" textLength="45.4" lengthAdjust="spacingAndGlyphs">42.188</text>
<g shape-rendering="crispEdges">
<rect x="16" y="579" width="1820" height="1" fill="#ff0000"/>
<rect x="16" y="609" width="1820" height="1" fill="#ff0000"/>
<path d="M1298 572.5h11m-13 1h2m11 0h4m-381 1h1m358 0h5m17 0h6m-389 1h2m1 0h2m56 0h4m291 0h5m28 0h4m-413 1h16m2 0h2m5 0h2m40 0h14m4 0h2m285 0h4m37 0h2m-417 1h2m16 0h2m9 0h2m35 0h3m20 0h2m269 0h14m43 0h2m-421 1h2m31 0h2m30 0h3m25 0h2m263 0h4m59 0h2m-427 1h4m35 0h2m26 0h2m30 0h3m256 0h4m65 0h1m-433 1h5m41 0h2m22 0h2m35 0h2m237 0h6m6 0h5m70 0h1m-437 1h3m48 0h2m18 0h2m39 0h4m230 0h3m6 0h6m76 0h2m-441 1h2m53 0h1m15 0h2m45 0h5m221 0h4m93 0h1m-444 1h2m56 0h2m10 0h3m52 0h4m215 0h2m98 0h1m-447 1h2m60 0h1m6 0h3m59 0h2m10 0h7m194 0h2m101 0h1m-450 1h2m63 0h1m2 0h3m64 0h2m4 0h4m7 0h2m190 0h2m104 0h1m-455 1h4m66 0h2m69 0h4m13 0h1m187 0h2m107 0h1m223 0h2m-687 1h6m159 0h1m6 0h3m176 0h1m110 0h1m220 0h2m2 0h2m-1313 1h12m608 0h4m166 0h2m2 0h2m3 0h2m173 0h1m112 0h1m3 0h3m212 0h1m6 0h2m-1317 1h2m12 0h2m406 0h3m195 0h2m172 0h2m7 0h2m171 0h1m113 0h3m3 0h2m36 0h1m172 0h1m9 0h10m158 0h1m-1488 1h2m16 0h2m318 0h1m83 0h2m3 0h2m191 0h2m185 0h2m3 0h4m92 0h8m61 0h1m122 0h2m34 0h2m169 0h2m20 0h1m156 0h1m1 0h1m-1491 1h2m20 0h2m173 0h9m133 0h1m1 0h2m79 0h2m7 0h2m187 0h2m189 0h3m4 0h3m4 0h4m76 0h5m8 0h5m55 0h1m125 0h2m32 0h1m1 0h1m167 0h1m22 0h1m13 0h5m137 0h1m3 0h2m-1496 1h3m24 0h2m169 0h2m9 0h2m130 0h1m4 0h2m75 0h2m11 0h2m182 0h3m201 0h4m4 0h2m15 0h4m53 0h2m18 0h2m26 0h3m23 0h1m128 0h2m24 0h7m2 0h1m165 0h1m24 0h1m10 0h2m5 0h4m132 0h1m6 0h1m-1501 1h4m29 0h2m165 0h2m13 0h3m125 0h2m7 0h1m72 0h2m15 0h2m177 0h3m214 0h2m12 0h1m4 0h5m16 0h2m27 0h3m22 0h2m22 0h2m3 0h4m5 0h9m5 0h1m130 0h2m15 0h7m10 0h1m4 0h11m147 0h2m26 0h1m7 0h2m11 0h2m130 0h1m7 0h1m-1508 1h6m35 0h1m158 0h6m18 0h2m122 0h1m10 0h2m7 0h10m44 0h9m19 0h4m171 0h2m219 0h2m9 0h1m10 0h2m13 0h1m2 0h3m21 0h3m27 0h3m16 0h3m9 0h5m9 0h5m133 0h2m11 0h2m18 0h4m11 0h1m145 0h1m29 0h1m4 0h2m15 0h1m128 0h1m9 0h1m-1527 1h18m42 0h2m149 0h7m26 0h14m107 0h1m13 0h7m10 0h4m31 0h9m32 0h4m166 0h1m223 0h2m6 0h1m13 0h2m10 0h1m6 0h3m14 0h4m33 0h2m11 0h3m166 0h5m4 0h2m36 0h2m142 0h1m30 0h1m2 0h2m18 0h1m126 0h1m-1713 1h16m152 0h2m22 0h5m62 0h12m133 0h4m47 0h2m104 0h1m35 0h2m27 0h2m45 0h4m9 0h6m146 0h1m226 0h2m4 0h1m15 0h3m5 0h2m10 0h2m9 0h3m39 0h2m7 0h2m174 0h4m40 0h1m139 0h2m32 0h2m21 0h2m123 0h1m-1713 1h1m16 0h3m111 0h1m36 0h1m2 0h4m13 0h5m79 0h2m128 0h3m53 0h3m13 0h4m83 0h1m38 0h2m22 0h3m51 0h9m6 0h2m12 0h3m127 0h2m229 0h2m1 0h1m19 0h2m2 0h1m14 0h2m3 0h4m44 0h2m3 0h2m221 0h1m134 0h4m59 0h1m121 0h1m-1713 1h1m20 0h3m107 0h1m1 0h1m33 0h2m7 0h4m4 0h5m86 0h2m125 0h1m59 0h2m5 0h6m4 0h2m79 0h2m41 0h1m19 0h2m71 0h2m8 0h2m3 0h4m122 0h1m233 0h1m22 0h2m17 0h3m50 0h3m224 0h1m128 0h5m64 0h1m119 0h1m-1713 1h1m24 0h2m104 0h1m3 0h1m31 0h1m13 0h4m93 0h2m122 0h1m62 0h5m12 0h1m77 0h1m44 0h2m15 0h2m75 0h1m5 0h2m9 0h4m117 0h1m557 0h1m125 0h2m70 0h1m118 0h1m-1686 1h1m102 0h1m5 0h1m29 0h1m113 0h2m119 0h1m81 0h1m63 0h13m47 0h1m13 0h1m78 0h2m1 0h2m15 0h6m24 0h15m70 0h2m559 0h2m121 0h2m73 0h2m31 0h5m79 0h1m-1684 1h1m101 0h1m5 0h1m27 0h2m116 0h1m118 0h1m82 0h2m23 0h5m32 0h1m61 0h2m9 0h2m81 0h1m23 0h5m17 0h2m15 0h5m64 0h1m563 0h1m110 0h4m4 0h2m77 0h1m28 0h2m5 0h9m69 0h1m-1682 1h2m57 0h5m36 0h1m7 0h1m23 0h3m119 0h1m116 0h1m85 0h1m21 0h1m5 0h5m27 0h1m63 0h1m7 0h1m112 0h3m13 0h1m22 0h1m62 0h1m565 0h2m107 0h1m4 0h4m80 0h1m25 0h2m16 0h5m63 0h1m-1679 1h1m53 0h3m5 0h4m31 0h1m9 0h1m17 0h5m123 0h1m114 0h1m87 0h1m19 0h1m11 0h2m24 0h1m65 0h1m5 0h1m116 0h3m8 0h2m23 0h1m60 0h2m568 0h2m79 0h4m21 0h1m90 0h1m23 0h1m23 0h1m48 0h2m12 0h1m-1678 1h1m5 0h3m42 0h2m12 0h1m11 0h7m10 0h2m11 0h3m11 0h3m129 0h1m51 0h1m29 0h2m16 0h2m10 0h2m89 0h1m18 0h1m13 0h2m21 0h1m67 0h2m1 0h2m120 0h8m26 0h1m40 0h4m14 0h1m572 0h3m72 0h4m4 0h4m16 0h1m92 0h2m19 0h2m25 0h2m44 0h2m2 0h2m8 0h2m-1676 1h1m2 0h2m3 0h4m37 0h1m15 0h1m8 0h2m7 0h4m3 0h3m16 0h4m3 0h4m133 0h1m5 0h2m41 0h2m1 0h2m26 0h1m2 0h2m12 0h2m2 0h4m3 0h3m92 0h2m15 0h1m16 0h6m15 0h1m69 0h1m156 0h1m27 0h2m9 0h2m4 0h4m9 0h1m576 0h3m69 0h1m11 0h3m11 0h2m95 0h1m16 0h2m29 0h1m41 0h2m6 0h2m3 0h3m-1673 1h2m9 0h8m28 0h1m17 0h1m6 0h1m13 0h3m23 0h3m138 0h1m2 0h2m2 0h2m27 0h2m8 0h2m5 0h2m22 0h2m5 0h2m9 0h1m8 0h3m97 0h1m13 0h1m23 0h5m9 0h1m228 0h1m7 0h2m16 0h1m2 0h2m5 0h2m10 0h2m6 0h1m580 0h2m66 0h1m15 0h3m7 0h1m98 0h1m13 0h2m32 0h1m38 0h2m10 0h3m-1651 1h6m20 0h2m19 0h1m4 0h1m182 0h2m6 0h1m25 0h1m2 0h3m3 0h2m9 0h2m19 0h1m9 0h4m3 0h2m110 0h1m11 0h1m29 0h3m5 0h1m230 0h1m4 0h2m2 0h2m12 0h2m5 0h2m1 0h2m14 0h1m4 0h1m583 0h3m63 0h1m18 0h4m2 0h1m100 0h2m9 0h2m35 0h2m35 0h1m-1630 1h4m15 0h1m22 0h1m1 0h2m192 0h2m23 0h1m5 0h3m13 0h2m16 0h1m14 0h3m113 0h1m10 0h1m32 0h3m2 0h1m230 0h1m2 0h2m6 0h2m9 0h1m9 0h1m17 0h2m1 0h1m587 0h4m58 0h1m23 0h2m103 0h1m6 0h2m39 0h1m11 0h1m20 0h2m-1625 1h2m12 0h1m24 0h1m196 0h5m17 0h1m24 0h2m4 0h5m3 0h2m132 0h10m36 0h2m232 0h2m10 0h9m30 0h1m592 0h4m7 0h5m42 0h1m129 0h2m2 0h2m42 0h5m4 0h2m1 0h2m16 0h2m-1621 1h2m8 0h2m227 0h5m11 0h1m27 0h4m5 0h3m1062 0h7m5 0h1m41 0h1m131 0h2m49 0h4m5 0h1m13 0h2m-1617 1h2m5 0h1m234 0h2m8 0h1m1115 0h1m39 0h1m193 0h1m9 0h3m-1613 1h2m1 0h2m237 0h5m3 0h1m1116 0h1m38 0h1m194 0h2m3 0h4m-1608 1h1m244 0h3m1118 0h2m35 0h1m197 0h3m-236 1h1m34 0h1m-35 1h1m33 0h1m-34 1h1m31 0h1m-32 1h12m19 0h1m-20 1h4m14 0h1m-15 1h4m6 0h5m-11 1h6" fill="none" stroke="#ff0000" stroke-width="1"/>
<path d="M1317 575.5h10m-27 1h17m10 0h7m-39 1h5m34 0h2m-348 1h11m291 0h5m41 0h3m-412 1h18m34 0h9m11 0h13m273 0h5m49 0h2m-418 1h4m18 0h5m20 0h9m33 0h12m255 0h6m56 0h2m-424 1h4m27 0h5m7 0h8m54 0h9m240 0h6m64 0h3m-431 1h4m36 0h7m71 0h7m228 0h5m73 0h2m-436 1h3m125 0h4m220 0h4m80 0h3m-443 1h4m132 0h4m212 0h4m87 0h3m-449 1h3m140 0h4m202 0h6m94 0h2m-455 1h4m147 0h6m190 0h6m102 0h4m-462 1h3m157 0h6m179 0h5m112 0h4m-468 1h2m166 0h6m170 0h3m121 0h4m-475 1h3m174 0h6m161 0h3m128 0h20m-497 1h2m183 0h8m150 0h3m151 0h13m-513 1h3m193 0h10m137 0h3m167 0h8m-1152 1h18m611 0h2m206 0h8m126 0h3m178 0h3m-1160 1h5m18 0h10m598 0h3m216 0h5m45 0h24m48 0h4m184 0h3m174 0h11m-1585 1h5m226 0h6m33 0h6m379 0h18m193 0h2m224 0h21m11 0h13m24 0h6m9 0h33m191 0h3m156 0h15m11 0h4m-1584 1h20m198 0h8m45 0h4m371 0h4m18 0h6m184 0h3m247 0h11m43 0h9m227 0h3m145 0h8m30 0h4m-1568 1h4m187 0h7m57 0h3m152 0h51m100 0h19m42 0h4m28 0h27m154 0h3m543 0h3m139 0h3m42 0h3m-1567 1h4m175 0h8m67 0h3m145 0h4m51 0h3m89 0h8m19 0h4m31 0h7m59 0h16m134 0h4m549 0h3m132 0h4m48 0h4m-1567 1h3m165 0h7m78 0h4m137 0h4m58 0h3m81 0h5m31 0h4m19 0h8m82 0h10m121 0h3m556 0h3m126 0h3m56 0h3m-1567 1h4m153 0h8m89 0h4m129 0h4m65 0h3m74 0h4m40 0h19m100 0h5m113 0h3m562 0h3m120 0h3m62 0h3m-1566 1h4m142 0h7m101 0h4m121 0h4m72 0h3m67 0h4m168 0h5m104 0h4m568 0h3m114 0h3m68 0h3m114 0h4m-1683 1h4m130 0h8m112 0h3m114 0h4m79 0h3m60 0h4m177 0h30m71 0h3m575 0h3m108 0h3m74 0h2m107 0h5m-1675 1h5m118 0h7m123 0h3m107 0h4m86 0h10m44 0h6m211 0h5m64 0h2m581 0h4m101 0h3m79 0h35m70 0h2m-1665 1h8m102 0h8m133 0h3m101 0h3m100 0h14m22 0h8m222 0h10m52 0h2m587 0h4m93 0h4m117 0h9m59 0h2m-1655 1h6m40 0h34m13 0h9m144 0h3m94 0h4m117 0h10m7 0h5m240 0h10m18 0h4m17 0h3m593 0h4m85 0h4m130 0h4m52 0h3m-1647 1h4m30 0h6m34 0h13m156 0h3m88 0h3m131 0h7m255 0h6m6 0h6m4 0h4m11 0h2m600 0h3m78 0h4m138 0h4m46 0h2m-1640 1h4m6 0h20m212 0h30m52 0h6m402 0h6m14 0h11m605 0h3m69 0h6m146 0h5m33 0h8m-1634 1h6m262 0h6m20 0h26m1047 0h3m58 0h8m157 0h6m18 0h9m-1352 1h20m1076 0h3m49 0h6m171 0h7m5 0h6m-244 1h3m41 0h5m184 0h5m-235 1h3m33 0h5m-38 1h3m26 0h4m-30 1h3m20 0h3m-23 1h3m15 0h2m-17 1h6m6 0h3m-9 1h6" fill="none" stroke="#000080" stroke-width="1"/>
</g>
<rect x="1882.5" y="537.0" width="12" height="12" rx="2" fill="#e9e9e9" stroke="#8c9fbd"/>
<rect x="1883.5" y="538.0" width="10" height="10" rx="1" fill="#eeeeee" stroke="#565f72"/>
<rect x="1884.5" y="546.0" width="8" height="1" fill="#dcdcdc" stroke="none"/>
<rect x="1886.5" y="542.0" width="4" height="2" fill="#8fb0dd" stroke="#4a5670"/>
<rect x="1897.5" y="537.0" width="12" height="12" rx="1.5" fill="#e58b78" stroke="#4a1020"/>
<path d="M1900.5 540.0 L1906.5 546.0 M1906.5 540.0 L1900.5 546.0" stroke="#3a2030" stroke-width="3.6" stroke-linecap="square"/>
<path d="M1900.5 540.0 L1906.5 546.0 M1906.5 540.0 L1900.5 546.0" stroke="#fff" stroke-width="2" stroke-linecap="square"/>
<text x="1842.5" y="565" font-size="13.8" fill="#c9c9c9" font-weight="bold" textLength="37.5" lengthAdjust="spacingAndGlyphs">Value</text>
<rect x="1837" y="586" width="75" height="17" fill="#ff0000"/>
<text x="1837.6" y="599.7" font-size="13.8" fill="#000" font-weight="bold" textLength="48.8" lengthAdjust="spacingAndGlyphs">50.255</text>
<rect x="1837" y="603" width="75" height="17" fill="#000080"/>
<text x="1837.6" y="616.7" font-size="13.8" fill="#fff" textLength="44" lengthAdjust="spacingAndGlyphs">42.188</text>
<rect x="1837" y="631" width="5" height="1" fill="#c4c4c4"/>
<rect x="1843.5" y="622.5" width="35" height="16" fill="#fff" stroke="#c4c4c4"/>
<text x="1845" y="636" font-size="13.8" fill="#c4c4c4" font-weight="bold" textLength="32.5" lengthAdjust="spacingAndGlyphs">Auto</text>
<text x="23.6" y="657" font-size="13.8" fill="#00ccff" textLength="49.4" lengthAdjust="spacingAndGlyphs">StochS,</text>
<text x="76.4" y="657" font-size="13.8" fill="#00ccff" textLength="31.6" lengthAdjust="spacingAndGlyphs">.KSE,</text>
<text x="113.2" y="657" font-size="13.8" fill="#00ccff" textLength="69.9" lengthAdjust="spacingAndGlyphs">7/20/2018,</text>
<text x="186.9" y="657" font-size="13.8" fill="#00ccff" textLength="49.9" lengthAdjust="spacingAndGlyphs">88.356,</text>
<text x="238.9" y="657" font-size="13.8" fill="#5533ff" textLength="45.9" lengthAdjust="spacingAndGlyphs">80.554</text>
<g shape-rendering="crispEdges">
<rect x="16" y="679" width="1820" height="1" fill="#00ccff"/>
<rect x="16" y="723" width="1820" height="1" fill="#00ccff"/>
<path d="M988 666.5h1m566 0h7m-575 1h1m1 0h1m287 0h7m267 0h4m7 0h1m-1131 1h2m14 0h2m420 0h16m100 0h1m3 0h2m252 0h7m24 0h2m7 0h2m263 0h2m12 0h2m-1134 1h1m2 0h2m9 0h3m1 0h1m222 0h2m194 0h2m16 0h11m87 0h2m6 0h1m247 0h4m7 0h5m18 0h1m11 0h1m261 0h1m16 0h1m-1135 1h1m4 0h2m3 0h4m5 0h1m218 0h3m2 0h1m192 0h1m29 0h18m68 0h1m9 0h1m245 0h1m16 0h2m14 0h2m13 0h2m258 0h1m18 0h1m-1308 1h2m169 0h1m7 0h3m9 0h1m213 0h5m5 0h1m190 0h2m48 0h16m51 0h1m11 0h1m166 0h2m76 0h1m18 0h2m10 0h2m17 0h3m254 0h1m20 0h1m-1310 1h1m2 0h2m167 0h1m20 0h1m207 0h5m11 0h1m188 0h1m66 0h4m46 0h1m13 0h1m164 0h1m2 0h3m72 0h1m21 0h2m5 0h3m22 0h4m249 0h1m22 0h1m-1338 1h3m23 0h1m5 0h2m164 0h1m21 0h1m206 0h1m17 0h1m186 0h1m71 0h1m44 0h1m15 0h1m163 0h1m5 0h2m70 0h1m23 0h5m29 0h2m246 0h1m24 0h2m169 0h2m-1515 1h4m3 0h1m21 0h1m8 0h1m163 0h1m21 0h1m134 0h7m65 0h1m17 0h1m186 0h1m72 0h1m42 0h1m17 0h1m161 0h1m7 0h1m69 0h1m60 0h1m244 0h1m27 0h1m165 0h3m-1514 1h1m8 0h2m19 0h1m8 0h1m162 0h1m23 0h1m132 0h1m7 0h1m63 0h1m19 0h1m184 0h1m74 0h1m40 0h1m18 0h1m160 0h1m9 0h1m68 0h1m61 0h1m242 0h1m29 0h1m162 0h2m-1546 1h2m32 0h1m11 0h1m17 0h1m10 0h1m161 0h1m23 0h1m131 0h1m8 0h1m62 0h1m21 0h1m183 0h1m75 0h1m38 0h1m20 0h1m159 0h1m9 0h1m67 0h1m63 0h1m241 0h1m30 0h1m160 0h1m-1545 1h1m2 0h3m27 0h2m13 0h1m15 0h1m11 0h1m160 0h1m25 0h1m129 0h1m10 0h1m60 0h1m22 0h1m182 0h1m76 0h1m37 0h1m22 0h1m157 0h1m10 0h1m67 0h1m64 0h1m205 0h1m33 0h1m31 0h1m159 0h1m-1544 1h1m5 0h2m24 0h1m16 0h2m12 0h1m13 0h1m159 0h1m25 0h1m128 0h1m12 0h1m59 0h1m23 0h1m181 0h1m77 0h1m35 0h1m24 0h1m156 0h1m11 0h1m65 0h1m66 0h1m203 0h2m33 0h1m32 0h1m158 0h1m-1697 1h1m73 0h1m77 0h1m8 0h1m22 0h1m19 0h3m7 0h2m14 0h1m158 0h1m27 0h1m126 0h1m14 0h1m57 0h1m24 0h1m180 0h1m79 0h1m34 0h1m25 0h1m154 0h1m12 0h1m64 0h1m68 0h1m202 0h1m1 0h1m31 0h1m33 0h1m157 0h1m-1697 1h1m1 0h1m71 0h1m1 0h1m76 0h1m8 0h1m21 0h1m23 0h2m3 0h2m16 0h1m158 0h1m27 0h1m125 0h1m15 0h1m56 0h1m26 0h1m179 0h1m80 0h1m32 0h1m26 0h1m153 0h1m13 0h1m64 0h1m69 0h2m199 0h1m2 0h1m30 0h1m34 0h1m156 0h1m-1696 1h1m2 0h2m69 0h1m1 0h1m75 0h1m10 0h1m19 0h1m26 0h3m19 0h1m156 0h1m28 0h1m124 0h1m17 0h1m55 0h1m26 0h1m178 0h1m82 0h1m30 0h1m28 0h1m152 0h1m14 0h1m62 0h1m72 0h1m198 0h1m2 0h1m30 0h1m35 0h1m154 0h1m-1696 1h1m5 0h1m67 0h1m3 0h1m74 0h1m11 0h1m17 0h1m49 0h1m156 0h1m29 0h1m122 0h1m19 0h1m53 0h1m27 0h1m178 0h1m83 0h1m28 0h1m29 0h1m151 0h1m15 0h1m38 0h1m23 0h1m73 0h2m195 0h1m4 0h1m28 0h1m36 0h1m154 0h1m-1697 1h1m7 0h1m66 0h1m3 0h1m73 0h1m12 0h1m16 0h1m50 0h1m155 0h1m30 0h1m121 0h1m21 0h1m52 0h1m28 0h1m100 0h3m73 0h1m84 0h1m28 0h1m30 0h1m149 0h1m16 0h1m37 0h1m1 0h1m21 0h1m76 0h1m194 0h1m4 0h1m28 0h1m37 0h1m140 0h2m10 0h1m-1696 1h1m8 0h1m64 0h1m5 0h1m72 0h1m13 0h1m15 0h1m51 0h1m154 0h1m31 0h1m118 0h2m22 0h1m51 0h1m29 0h1m96 0h4m2 0h1m73 0h1m85 0h1m26 0h1m31 0h1m149 0h1m16 0h1m36 0h1m2 0h1m21 0h1m77 0h1m192 0h1m5 0h1m27 0h1m38 0h1m78 0h1m59 0h2m2 0h2m6 0h2m-1696 1h1m9 0h1m63 0h1m7 0h1m70 0h1m15 0h1m13 0h1m52 0h1m153 0h1m32 0h1m117 0h1m25 0h1m50 0h1m29 0h1m95 0h1m7 0h1m72 0h1m85 0h1m25 0h1m32 0h1m148 0h1m18 0h1m34 0h1m4 0h1m19 0h1m78 0h1m192 0h1m6 0h1m26 0h1m38 0h1m77 0h1m1 0h1m56 0h2m6 0h2m2 0h2m-1695 1h1m11 0h1m62 0h1m7 0h1m70 0h1m15 0h1m12 0h1m54 0h1m152 0h1m32 0h1m116 0h1m26 0h1m49 0h1m31 0h1m94 0h1m7 0h1m71 0h1m86 0h1m25 0h1m33 0h1m147 0h1m18 0h1m34 0h1m5 0h1m18 0h1m79 0h1m190 0h1m7 0h1m25 0h1m40 0h1m75 0h1m2 0h1m54 0h2m10 0h2m-1693 1h1m11 0h1m61 0h1m9 0h1m68 0h1m17 0h1m10 0h1m55 0h1m151 0h1m34 0h1m114 0h1m28 0h1m48 0h1m31 0h1m93 0h1m8 0h1m71 0h1m86 0h1m24 0h1m34 0h1m146 0h1m19 0h1m33 0h1m6 0h1m17 0h1m80 0h1m190 0h1m7 0h1m25 0h1m40 0h1m74 0h1m4 0h1m51 0h2m-1680 1h1m12 0h1m60 0h1m10 0h1m68 0h1m18 0h1m8 0h1m56 0h1m151 0h1m34 0h1m114 0h1m29 0h1m46 0h1m32 0h1m93 0h1m9 0h1m70 0h1m87 0h1m23 0h1m35 0h1m145 0h1m20 0h1m31 0h1m8 0h1m16 0h1m81 0h1m188 0h1m9 0h1m23 0h1m41 0h1m73 0h1m6 0h1m49 0h1m-1679 1h1m13 0h1m60 0h1m11 0h1m66 0h1m20 0h1m6 0h1m58 0h1m149 0h1m36 0h1m112 0h1m30 0h1m46 0h1m33 0h1m91 0h1m10 0h1m70 0h1m87 0h1m22 0h1m36 0h1m144 0h1m21 0h1m30 0h1m10 0h1m14 0h1m82 0h1m75 0h2m111 0h1m9 0h1m23 0h1m42 0h1m71 0h1m8 0h1m48 0h1m-1679 1h1m14 0h1m58 0h1m12 0h1m66 0h1m21 0h1m4 0h1m59 0h1m149 0h1m36 0h1m112 0h1m31 0h1m44 0h1m34 0h1m91 0h1m10 0h1m69 0h1m88 0h1m22 0h1m36 0h1m144 0h1m21 0h1m29 0h1m11 0h1m12 0h2m84 0h1m72 0h2m2 0h1m109 0h1m10 0h1m22 0h1m43 0h1m70 0h1m9 0h1m47 0h1m-1679 1h1m15 0h1m58 0h1m13 0h1m64 0h1m23 0h1m3 0h1m59 0h1m80 0h1m67 0h1m38 0h1m110 0h1m32 0h1m44 0h1m34 0h1m90 0h1m11 0h1m69 0h1m89 0h1m21 0h1m37 0h1m142 0h1m23 0h1m28 0h1m12 0h2m8 0h2m86 0h1m69 0h3m4 0h1m109 0h1m11 0h1m21 0h1m44 0h1m69 0h1m10 0h1m46 0h1m-1679 1h1m15 0h1m57 0h1m14 0h1m64 0h1m24 0h1m1 0h1m61 0h1m78 0h1m1 0h2m65 0h1m38 0h1m110 0h1m33 0h1m43 0h1m35 0h1m89 0h1m12 0h1m68 0h1m89 0h1m20 0h1m38 0h1m142 0h1m23 0h1m27 0h1m15 0h4m2 0h2m89 0h1m68 0h1m7 0h1m108 0h1m11 0h1m20 0h1m45 0h1m68 0h1m11 0h1m45 0h1m-1679 1h1m17 0h1m56 0h1m15 0h1m63 0h1m25 0h1m62 0h1m78 0h1m3 0h1m63 0h1m39 0h1m109 0h1m35 0h1m41 0h1m36 0h1m88 0h1m13 0h1m68 0h1m89 0h1m20 0h1m39 0h1m97 0h1m42 0h1m24 0h1m27 0h1m19 0h2m91 0h1m67 0h1m9 0h1m106 0h1m12 0h1m20 0h1m45 0h1m68 0h1m12 0h1m44 0h1m-1679 1h1m17 0h1m55 0h1m16 0h1m62 0h1m89 0h1m77 0h1m5 0h1m62 0h1m40 0h1m108 0h1m36 0h1m40 0h1m36 0h1m88 0h1m13 0h1m67 0h1m91 0h1m19 0h1m39 0h1m96 0h2m42 0h1m25 0h1m25 0h1m114 0h1m66 0h1m9 0h1m106 0h1m13 0h1m18 0h1m47 0h1m66 0h1m13 0h1m43 0h1m-1679 1h1m18 0h1m55 0h1m17 0h1m61 0h1m90 0h1m75 0h1m7 0h2m59 0h1m41 0h1m107 0h1m38 0h1m39 0h1m37 0h1m86 0h1m15 0h1m66 0h1m91 0h1m18 0h1m40 0h1m95 0h1m2 0h1m40 0h1m26 0h1m25 0h1m115 0h1m64 0h1m11 0h1m105 0h1m13 0h1m18 0h1m47 0h1m66 0h1m13 0h1m43 0h1m-1679 1h1m19 0h1m54 0h1m17 0h1m61 0h1m90 0h1m75 0h1m9 0h1m58 0h1m42 0h1m106 0h1m39 0h1m37 0h1m38 0h1m86 0h1m15 0h1m66 0h1m91 0h1m18 0h1m41 0h1m92 0h2m3 0h1m22 0h1m17 0h1m26 0h1m24 0h1m117 0h1m63 0h1m12 0h1m103 0h1m15 0h1m16 0h1m49 0h1m64 0h1m15 0h1m41 0h1m-1679 1h1m20 0h1m53 0h1m19 0h1m59 0h1m91 0h1m74 0h1m10 0h1m57 0h1m43 0h1m75 0h1m29 0h1m40 0h1m37 0h1m38 0h1m85 0h1m16 0h1m65 0h1m92 0h1m17 0h1m42 0h1m91 0h1m5 0h1m21 0h1m1 0h1m15 0h1m27 0h1m24 0h1m118 0h1m61 0h1m14 0h1m102 0h1m15 0h1m16 0h1m49 0h1m64 0h1m15 0h1m41 0h1m-1679 1h1m20 0h1m53 0h1m19 0h1m59 0h1m92 0h1m73 0h1m11 0h1m56 0h1m43 0h1m74 0h1m1 0h1m28 0h1m41 0h1m36 0h1m38 0h1m85 0h1m17 0h1m64 0h1m93 0h1m16 0h1m43 0h1m89 0h1m7 0h1m19 0h1m3 0h1m13 0h1m29 0h1m22 0h1m119 0h1m61 0h1m14 0h1m101 0h1m17 0h1m14 0h1m51 0h1m63 0h1m15 0h1m40 0h1m-1679 1h1m21 0h1m53 0h1m20 0h1m25 0h1m32 0h1m92 0h1m72 0h1m12 0h1m55 0h1m45 0h1m72 0h1m3 0h1m26 0h1m43 0h1m34 0h1m40 0h1m83 0h1m18 0h1m64 0h1m93 0h1m16 0h1m43 0h1m88 0h1m8 0h1m19 0h1m4 0h1m12 0h1m29 0h1m22 0h1m120 0h1m60 0h1m15 0h1m100 0h1m17 0h1m13 0h1m52 0h1m62 0h1m17 0h1m39 0h1m-1679 1h1m22 0h1m52 0h1m20 0h1m25 0h3m29 0h1m94 0h1m70 0h1m14 0h1m54 0h1m45 0h1m71 0h1m5 0h2m24 0h1m44 0h1m33 0h1m40 0h1m83 0h1m19 0h1m63 0h1m93 0h1m15 0h1m45 0h1m87 0h1m8 0h1m18 0h1m5 0h1m11 0h1m30 0h1m21 0h1m122 0h1m58 0h1m16 0h1m100 0h1m18 0h1m11 0h1m54 0h1m61 0h1m17 0h1m39 0h1m-1679 1h1m22 0h1m51 0h1m22 0h1m23 0h1m3 0h1m28 0h1m94 0h1m70 0h1m14 0h1m53 0h1m47 0h1m69 0h1m8 0h1m22 0h1m46 0h1m32 0h1m40 0h1m82 0h1m20 0h1m62 0h1m95 0h1m14 0h1m45 0h1m86 0h1m10 0h1m16 0h1m7 0h1m9 0h1m32 0h1m20 0h1m123 0h1m57 0h1m17 0h1m98 0h1m19 0h1m10 0h1m55 0h1m60 0h1m18 0h1m38 0h1m-1679 1h1m23 0h1m51 0h1m22 0h1m23 0h1m4 0h2m26 0h1m94 0h1m69 0h1m16 0h1m52 0h1m47 0h1m68 0h1m10 0h1m21 0h1m47 0h1m31 0h1m40 0h1m82 0h1m21 0h1m61 0h1m95 0h1m14 0h1m45 0h1m86 0h1m10 0h1m15 0h1m9 0h1m8 0h1m32 0h1m20 0h1m124 0h1m55 0h1m18 0h1m98 0h1m20 0h1m9 0h1m56 0h1m59 0h1m19 0h1m37 0h1m-1679 1h1m24 0h1m50 0h1m23 0h1m21 0h1m7 0h1m24 0h1m96 0h1m68 0h1m16 0h1m51 0h1m49 0h1m67 0h1m11 0h1m19 0h1m48 0h1m30 0h1m42 0h1m81 0h1m21 0h1m61 0h1m95 0h1m13 0h1m47 0h1m84 0h1m12 0h1m14 0h1m10 0h1m4 0h3m33 0h1m19 0h1m125 0h1m55 0h1m19 0h1m97 0h1m20 0h1m8 0h1m57 0h1m58 0h1m20 0h1m36 0h1m-1679 1h1m25 0h1m49 0h1m24 0h1m21 0h1m8 0h1m23 0h1m96 0h1m67 0h1m18 0h1m50 0h1m49 0h1m66 0h1m13 0h1m18 0h1m49 0h1m29 0h1m42 0h1m80 0h1m23 0h1m38 0h3m19 0h1m96 0h1m12 0h1m47 0h1m83 0h1m13 0h1m13 0h1m12 0h4m37 0h1m18 0h1m126 0h1m53 0h1m20 0h1m96 0h1m22 0h4m3 0h1m59 0h1m57 0h1m20 0h1m36 0h1m-1679 1h1m25 0h1m49 0h1m25 0h1m19 0h1m10 0h1m22 0h1m96 0h1m67 0h1m18 0h1m49 0h1m50 0h1m65 0h1m14 0h1m17 0h1m50 0h1m29 0h1m42 0h1m80 0h1m23 0h1m36 0h2m3 0h2m16 0h1m97 0h1m12 0h1m48 0h1m82 0h1m13 0h1m11 0h2m54 0h1m17 0h1m127 0h1m53 0h1m21 0h1m95 0h1m26 0h3m60 0h1m57 0h1m21 0h1m35 0h1m-1680 1h1m27 0h1m48 0h1m25 0h1m19 0h1m11 0h2m19 0h1m98 0h1m65 0h1m20 0h1m47 0h1m52 0h1m63 0h1m16 0h1m16 0h1m51 0h1m27 0h1m43 0h1m80 0h1m24 0h1m32 0h3m7 0h2m14 0h1m97 0h1m11 0h1m49 0h1m81 0h1m15 0h1m8 0h2m56 0h1m17 0h1m128 0h1m52 0h1m21 0h1m95 0h1m90 0h1m55 0h1m22 0h1m34 0h1m-1679 1h1m27 0h1m47 0h1m27 0h1m18 0h1m13 0h1m18 0h1m98 0h1m65 0h1m20 0h1m47 0h1m52 0h1m62 0h1m18 0h1m14 0h1m52 0h1m27 0h1m44 0h1m78 0h1m26 0h1m29 0h2m12 0h2m10 0h2m99 0h1m10 0h1m50 0h1m80 0h1m15 0h1m6 0h2m58 0h1m17 0h1m128 0h1m51 0h1m23 0h1m94 0h1m90 0h1m12 0h1m42 0h1m22 0h1m34 0h1m-1679 1h1m28 0h1m46 0h1m28 0h1m16 0h1m15 0h1m16 0h1m99 0h1m64 0h1m22 0h1m27 0h6m12 0h1m54 0h1m60 0h1m20 0h1m12 0h1m54 0h1m26 0h1m44 0h1m78 0h1m26 0h1m28 0h1m16 0h2m7 0h1m101 0h1m9 0h1m51 0h1m35 0h2m42 0h1m16 0h1m4 0h2m61 0h1m15 0h1m130 0h1m50 0h1m23 0h1m93 0h1m92 0h1m10 0h1m1 0h1m41 0h1m23 0h1m32 0h1m-1679 1h1m29 0h1m46 0h1m28 0h1m16 0h1m16 0h1m15 0h1m100 0h1m63 0h1m22 0h1m23 0h4m6 0h5m6 0h1m55 0h1m59 0h1m21 0h1m11 0h1m56 0h1m24 0h1m45 0h1m77 0h1m28 0h1m26 0h1m19 0h1m5 0h1m103 0h1m8 0h1m51 0h1m34 0h1m2 0h2m40 0h1m17 0h1m1 0h2m63 0h1m15 0h1m130 0h1m49 0h1m25 0h1m92 0h1m93 0h1m9 0h1m2 0h1m39 0h1m24 0h1m32 0h1m-1679 1h1m30 0h1m45 0h1m29 0h1m14 0h1m17 0h1m14 0h1m101 0h1m63 0h1m23 0h1m21 0h1m15 0h2m3 0h1m56 0h1m59 0h1m22 0h1m10 0h1m56 0h1m24 0h1m45 0h1m45 0h1m31 0h1m28 0h1m24 0h2m21 0h2m1 0h2m104 0h1m7 0h1m53 0h1m31 0h2m5 0h2m37 0h1m18 0h2m65 0h1m14 0h1m132 0h1m48 0h1m25 0h1m92 0h1m93 0h1m8 0h1m4 0h1m38 0h1m24 0h1m32 0h1m-1680 1h1m31 0h1m44 0h1m30 0h1m14 0h1m18 0h1m13 0h1m102 0h1m61 0h1m24 0h1m20 0h1m18 0h2m1 0h1m57 0h1m57 0h1m24 0h1m8 0h1m58 0h1m22 0h1m47 0h1m42 0h2m1 0h1m30 0h1m29 0h1m22 0h1m25 0h1m106 0h1m7 0h1m53 0h1m30 0h1m9 0h8m29 0h1m86 0h1m13 0h1m132 0h1m47 0h1m27 0h1m90 0h1m95 0h1m6 0h1m5 0h1m38 0h1m25 0h1m30 0h1m-1679 1h1m32 0h1m43 0h1m31 0h4m9 0h1m19 0h1m12 0h1m103 0h1m61 0h1m25 0h1m19 0h1m20 0h1m58 0h1m57 0h1m24 0h1m7 0h1m59 0h1m22 0h1m47 0h1m41 0h1m4 0h1m28 0h1m30 0h1m21 0h1m134 0h1m6 0h1m54 0h1m28 0h1m18 0h1m27 0h1m87 0h1m13 0h1m133 0h1m46 0h1m27 0h1m90 0h1m96 0h1m5 0h1m6 0h1m36 0h1m26 0h1m30 0h1m-1680 1h1m33 0h1m43 0h1m35 0h10m19 0h1m11 0h1m105 0h1m59 0h1m26 0h1m18 0h1m81 0h1m55 0h1m26 0h1m5 0h1m61 0h1m21 0h1m47 0h1m39 0h2m6 0h1m27 0h1m31 0h1m18 0h2m135 0h1m5 0h1m55 0h1m26 0h2m20 0h1m8 0h1m17 0h1m87 0h1m12 0h1m134 0h1m46 0h1m28 0h1m89 0h1m97 0h1m3 0h1m8 0h1m35 0h1m26 0h1m29 0h1m-1679 1h1m34 0h1m41 0h1m65 0h1m11 0h1m105 0h1m59 0h1m27 0h1m16 0h1m82 0h1m55 0h1m27 0h1m3 0h1m63 0h1m19 0h1m48 0h1m38 0h1m9 0h1m26 0h1m31 0h1m16 0h2m138 0h1m4 0h1m56 0h1m24 0h1m23 0h1m6 0h1m1 0h1m15 0h1m89 0h1m11 0h1m135 0h1m44 0h1m29 0h1m88 0h1m98 0h1m2 0h1m10 0h1m33 0h1m28 0h1m28 0h1m-1680 1h1m35 0h1m41 0h1m66 0h1m9 0h1m107 0h1m57 0h1m28 0h1m15 0h1m84 0h1m53 0h1m29 0h1m2 0h1m63 0h1m19 0h1m49 0h1m35 0h2m11 0h1m24 0h1m33 0h1m13 0h2m141 0h1m2 0h1m57 0h1m23 0h1m24 0h1m5 0h1m3 0h2m13 0h1m89 0h1m11 0h1m136 0h1m43 0h1m30 0h1m87 0h1m99 0h1m1 0h1m11 0h1m32 0h1m28 0h1m28 0h1m-1680 1h1m36 0h1m39 0h1m67 0h1m9 0h1m107 0h1m57 0h1m29 0h1m14 0h1m84 0h1m52 0h1m30 0h1m1 0h1m65 0h1m18 0h1m49 0h1m34 0h1m14 0h1m23 0h1m33 0h1m11 0h2m143 0h1m2 0h1m58 0h1m21 0h1m26 0h1m3 0h1m6 0h1m12 0h1m90 0h1m9 0h1m137 0h1m42 0h1m32 0h1m86 0h1m100 0h1m12 0h1m32 0h1m29 0h1m26 0h1m-1679 1h1m36 0h1m39 0h1m67 0h1m8 0h1m109 0h1m55 0h1m30 0h1m13 0h1m86 0h1m51 0h1m31 0h1m66 0h1m17 0h1m51 0h1m32 0h1m16 0h1m22 0h1m34 0h1m8 0h2m146 0h2m59 0h1m20 0h1m28 0h1m1 0h1m8 0h1m10 0h1m91 0h1m9 0h1m138 0h1m41 0h1m32 0h1m86 0h1m114 0h1m30 0h1m30 0h1m26 0h1m-1680 1h1m38 0h1m38 0h1m68 0h1m6 0h1m110 0h1m54 0h1m32 0h1m11 0h1m87 0h1m50 0h1m100 0h1m16 0h1m51 0h1m31 0h1m18 0h1m20 0h1m35 0h1m7 0h1m149 0h1m60 0h1m18 0h1m30 0h1m10 0h2m8 0h1m92 0h1m7 0h1m140 0h1m39 0h1m34 0h1m84 0h1m116 0h1m29 0h1m30 0h1m25 0h1m-1679 1h1m39 0h1m36 0h1m69 0h1m6 0h1m111 0h1m53 0h1m32 0h1m11 0h1m88 0h1m49 0h1m100 0h1m15 0h1m53 0h1m29 0h1m20 0h1m19 0h1m35 0h1m7 0h1m210 0h1m17 0h1m44 0h2m5 0h1m93 0h1m7 0h1m140 0h1m39 0h1m34 0h1m84 0h1m117 0h1m28 0h1m31 0h1m24 0h1m-1680 1h1m40 0h1m36 0h1m69 0h1m5 0h1m113 0h1m51 0h1m34 0h1m9 0h1m89 0h1m22 0h2m24 0h1m102 0h1m14 0h1m54 0h1m27 0h1m21 0h1m18 0h1m37 0h1m5 0h1m212 0h1m15 0h1m47 0h2m3 0h1m94 0h1m5 0h1m142 0h1m37 0h1m36 0h1m83 0h1m117 0h1m27 0h1m32 0h1m23 0h1m-1679 1h1m41 0h1m34 0h1m71 0h1m3 0h1m114 0h1m50 0h1m35 0h1m9 0h1m90 0h1m19 0h2m2 0h3m21 0h1m102 0h1m14 0h1m54 0h1m26 0h1m23 0h1m17 0h1m37 0h1m4 0h1m213 0h1m14 0h1m50 0h3m95 0h1m4 0h1m144 0h1m36 0h1m37 0h1m37 0h6m38 0h1m119 0h1m26 0h1m33 0h1m22 0h1m-1680 1h1m43 0h1m33 0h1m71 0h1m3 0h1m115 0h1m48 0h1m37 0h1m7 0h1m92 0h2m15 0h2m7 0h2m18 0h1m104 0h1m12 0h1m56 0h1m24 0h1m25 0h1m15 0h1m38 0h1m4 0h1m214 0h1m12 0h1m53 0h1m96 0h1m2 0h1m145 0h1m35 0h1m38 0h1m36 0h1m6 0h2m36 0h1m120 0h1m24 0h1m34 0h1m21 0h1m-1679 1h1m44 0h1m5 0h1m26 0h1m71 0h1m2 0h1m117 0h1m47 0h1m38 0h1m5 0h1m95 0h2m11 0h2m11 0h2m16 0h1m104 0h1m12 0h1m56 0h1m21 0h3m27 0h1m14 0h1m39 0h1m2 0h1m215 0h1m11 0h1m151 0h1m1 0h1m147 0h1m33 0h1m40 0h1m34 0h1m9 0h1m35 0h1m120 0h1m24 0h1m34 0h1m20 0h1m-1633 1h1m4 0h1m1 0h1m24 0h1m72 0h1m1 0h1m118 0h1m46 0h1m40 0h1m4 0h1m97 0h2m7 0h2m15 0h2m13 0h1m106 0h1m10 0h1m58 0h1m16 0h4m31 0h2m11 0h1m40 0h1m1 0h1m217 0h1m9 0h1m153 0h1m149 0h1m31 0h1m42 0h2m30 0h2m11 0h2m32 0h1m122 0h1m22 0h1m36 0h1m18 0h1m-1631 1h1m1 0h2m3 0h2m22 0h1m73 0h2m119 0h1m44 0h1m42 0h1m2 0h1m100 0h2m2 0h3m19 0h1m10 0h2m107 0h1m9 0h1m60 0h1m12 0h3m37 0h2m8 0h1m42 0h2m218 0h1m7 0h1m304 0h1m23 0h4m4 0h1m44 0h1m28 0h1m15 0h2m30 0h1m122 0h1m21 0h1m37 0h1m18 0h1m-1630 1h1m7 0h1m20 0h1m74 0h1m121 0h1m42 0h1m44 0h1m1 0h1m102 0h2m23 0h2m7 0h1m110 0h1m8 0h1m60 0h1m11 0h1m42 0h2m6 0h1m42 0h1m220 0h1m4 0h2m306 0h1m20 0h2m4 0h4m46 0h1m26 0h1m18 0h4m6 0h5m15 0h1m123 0h1m20 0h1m38 0h1m16 0h1m-1620 1h1m19 0h1m196 0h1m33 0h2m5 0h2m46 0h1m130 0h1m5 0h1m112 0h1m6 0h1m62 0h2m8 0h1m45 0h2m3 0h1m264 0h1m3 0h1m309 0h1m17 0h2m57 0h2m23 0h1m23 0h6m5 0h2m12 0h1m124 0h1m19 0h1m39 0h1m15 0h1m-1618 1h2m16 0h1m198 0h2m29 0h2m2 0h2m2 0h1m180 0h2m1 0h2m113 0h1m5 0h1m65 0h2m5 0h1m48 0h2m1 0h1m265 0h1m1 0h1m310 0h1m13 0h4m61 0h1m21 0h1m37 0h2m10 0h1m125 0h1m17 0h1m41 0h2m13 0h1m-1616 1h2m13 0h1m201 0h2m25 0h2m6 0h2m183 0h1m116 0h1m3 0h1m68 0h2m2 0h1m51 0h1m267 0h1m312 0h1m7 0h5m66 0h2m18 0h1m40 0h4m6 0h1m126 0h1m16 0h1m43 0h1m10 0h2m-1613 1h2m10 0h1m204 0h2m21 0h2m311 0h1m2 0h1m70 0h2m634 0h1m4 0h2m73 0h2m14 0h2m45 0h4m1 0h1m127 0h1m15 0h1m45 0h1m7 0h2m-1609 1h3m7 0h1m206 0h2m16 0h3m313 0h1m1 0h1m707 0h1m2 0h2m77 0h2m11 0h1m51 0h2m128 0h1m13 0h1m47 0h2m2 0h3m-1604 1h4m2 0h1m209 0h1m10 0h5m317 0h1m709 0h2m81 0h6m4 0h1m182 0h1m13 0h1m49 0h2m-1597 1h2m211 0h2m6 0h2m1121 0h4m184 0h2m9 0h2m-1330 1h2m2 0h2m1313 0h3m3 0h3m-1326 1h2m1318 0h3" fill="none" stroke="#00ccff" stroke-width="1"/>
<path d="M1563 667.5h5m-686 1h16m384 0h7m270 0h4m5 0h3m-1128 1h8m429 0h2m16 0h6m10 0h11m70 0h2m257 0h4m19 0h5m7 0h5m263 0h2m12 0h2m-1132 1h2m8 0h1m426 0h2m24 0h10m11 0h6m60 0h4m2 0h2m252 0h3m4 0h4m13 0h2m17 0h3m259 0h1m16 0h2m-1136 1h2m11 0h1m220 0h4m199 0h2m53 0h3m55 0h2m8 0h2m248 0h2m11 0h5m5 0h3m22 0h2m255 0h2m19 0h2m-1140 1h2m13 0h1m218 0h2m4 0h3m194 0h2m58 0h3m51 0h1m12 0h1m246 0h1m18 0h5m27 0h1m253 0h1m23 0h1m-1142 1h1m16 0h1m215 0h2m8 0h1m193 0h1m63 0h2m48 0h1m13 0h1m245 0h1m52 0h2m250 0h1m24 0h1m-1342 1h3m24 0h3m170 0h1m17 0h1m212 0h2m11 0h1m191 0h1m66 0h1m46 0h1m15 0h1m243 0h1m55 0h1m249 0h1m25 0h1m-1345 1h2m3 0h2m20 0h2m3 0h2m167 0h1m19 0h1m210 0h1m13 0h1m191 0h1m67 0h2m43 0h1m16 0h1m164 0h2m76 0h1m57 0h1m247 0h1m26 0h1m-1348 1h3m7 0h2m16 0h2m7 0h2m164 0h1m20 0h1m137 0h2m70 0h1m15 0h1m189 0h1m70 0h1m41 0h1m18 0h1m162 0h1m2 0h2m73 0h1m59 0h1m245 0h1m28 0h1m-1351 1h2m12 0h3m11 0h2m11 0h1m163 0h1m21 0h1m134 0h2m2 0h2m67 0h1m16 0h1m188 0h1m72 0h1m39 0h1m19 0h1m161 0h1m5 0h2m70 0h1m61 0h2m243 0h1m28 0h1m-1352 1h1m17 0h3m6 0h2m14 0h1m161 0h1m23 0h1m131 0h2m6 0h2m64 0h1m18 0h1m187 0h1m73 0h1m37 0h1m21 0h1m159 0h1m8 0h1m68 0h1m64 0h2m240 0h1m29 0h1m161 0h1m-1515 1h1m21 0h2m2 0h2m16 0h1m160 0h1m25 0h1m128 0h2m10 0h1m62 0h1m19 0h1m186 0h1m74 0h1m36 0h1m22 0h1m159 0h1m8 0h1m67 0h1m67 0h1m238 0h1m31 0h1m159 0h1m-1543 1h3m25 0h1m24 0h2m19 0h1m159 0h1m26 0h1m126 0h1m13 0h1m61 0h1m20 0h1m184 0h1m76 0h1m35 0h1m23 0h1m157 0h1m10 0h1m66 0h1m68 0h1m237 0h1m31 0h1m157 0h2m-1543 1h1m3 0h3m21 0h1m46 0h1m158 0h1m27 0h1m126 0h1m14 0h1m59 0h1m21 0h1m184 0h1m76 0h1m34 0h1m24 0h1m156 0h1m11 0h1m65 0h1m69 0h1m236 0h1m33 0h1m154 0h2m-1542 1h1m7 0h1m19 0h1m48 0h1m156 0h1m29 0h1m124 0h1m15 0h1m58 0h1m23 0h1m182 0h1m78 0h1m33 0h1m25 0h1m154 0h1m13 0h1m63 0h1m71 0h1m234 0h1m34 0h1m152 0h2m-1541 1h1m9 0h1m17 0h1m49 0h1m156 0h1m30 0h1m122 0h1m17 0h1m56 0h1m24 0h1m182 0h1m78 0h1m32 0h1m26 0h1m154 0h1m13 0h1m62 0h1m73 0h1m233 0h1m35 0h1m149 0h2m-1691 1h1m151 0h1m10 0h1m15 0h1m51 0h1m154 0h1m32 0h1m120 0h1m19 0h1m54 0h1m26 0h1m180 0h1m80 0h1m31 0h1m27 0h1m152 0h1m14 0h1m61 0h1m75 0h1m231 0h1m36 0h1m145 0h4m-1690 1h1m1 0h1m149 0h1m12 0h2m11 0h2m53 0h1m153 0h1m32 0h1m120 0h1m20 0h1m53 0h1m26 0h1m180 0h1m80 0h1m30 0h1m28 0h1m151 0h1m16 0h1m60 0h1m75 0h1m230 0h1m37 0h1m141 0h4m-1687 1h1m3 0h1m70 0h2m75 0h1m15 0h1m8 0h2m55 0h1m152 0h1m34 0h1m118 0h1m22 0h1m51 0h1m28 0h1m178 0h1m82 0h1m28 0h1m30 0h1m150 0h1m16 0h1m59 0h1m77 0h1m198 0h1m30 0h1m38 0h1m138 0h2m-1683 1h1m4 0h1m68 0h1m2 0h2m73 0h1m16 0h1m5 0h2m58 0h1m151 0h1m35 0h1m116 0h1m23 0h1m51 0h1m28 0h1m178 0h1m82 0h1m28 0h1m30 0h1m149 0h1m18 0h1m39 0h4m14 0h1m79 0h1m196 0h1m1 0h1m28 0h1m39 0h1m137 0h1m-1682 1h1m5 0h1m68 0h1m4 0h2m70 0h1m18 0h1m2 0h2m60 0h1m150 0h1m36 0h1m116 0h1m24 0h1m49 0h1m29 0h1m98 0h2m77 0h1m84 0h1m26 0h1m32 0h1m147 0h1m19 0h1m37 0h2m4 0h4m8 0h2m81 0h1m194 0h1m3 0h1m26 0h1m41 0h1m134 0h2m-1682 1h1m7 0h1m66 0h1m7 0h1m69 0h1m19 0h2m63 0h1m149 0h1m36 0h1m115 0h1m26 0h1m48 0h1m30 0h1m96 0h1m2 0h2m75 0h1m84 0h1m26 0h1m32 0h1m147 0h1m19 0h1m35 0h2m10 0h2m5 0h1m84 0h1m191 0h2m5 0h1m25 0h1m41 0h1m76 0h1m56 0h1m-1681 1h1m9 0h1m64 0h1m9 0h1m67 0h1m85 0h1m148 0h1m38 0h1m113 0h1m28 0h1m47 0h1m30 0h1m95 0h1m5 0h2m72 0h1m86 0h1m24 0h1m33 0h1m146 0h1m21 0h1m32 0h2m14 0h2m1 0h2m86 0h1m189 0h1m8 0h1m23 0h1m42 0h1m74 0h2m1 0h1m54 0h1m-1680 1h1m10 0h1m63 0h1m9 0h1m67 0h1m86 0h1m147 0h1m38 0h1m112 0h1m30 0h1m45 0h1m31 0h1m94 0h1m8 0h2m70 0h1m86 0h1m24 0h1m34 0h1m144 0h1m22 0h1m31 0h1m18 0h1m89 0h1m187 0h1m10 0h1m21 0h1m44 0h1m71 0h2m4 0h1m53 0h1m-1681 1h1m11 0h1m62 0h1m11 0h1m65 0h1m87 0h1m146 0h1m39 0h1m112 0h1m30 0h1m45 0h1m32 0h1m93 0h1m9 0h1m69 0h1m88 0h1m22 0h1m35 0h1m144 0h1m23 0h1m29 0h1m109 0h1m187 0h1m11 0h1m20 0h1m44 0h1m69 0h2m7 0h1m51 0h1m-1681 1h1m13 0h1m60 0h1m12 0h1m65 0h1m87 0h1m146 0h1m39 0h1m111 0h1m32 0h1m43 0h1m33 0h1m92 0h1m11 0h1m68 0h1m88 0h1m22 0h1m35 0h1m143 0h1m24 0h1m29 0h1m110 0h1m73 0h1m111 0h1m13 0h1m18 0h1m46 0h1m67 0h1m9 0h1m51 0h1m-1682 1h1m14 0h1m59 0h1m14 0h1m63 0h1m89 0h1m144 0h1m40 0h1m110 0h1m34 0h1m42 0h1m33 0h1m91 0h1m12 0h1m67 0h1m90 0h1m20 0h1m37 0h1m141 0h1m25 0h1m28 0h1m112 0h1m71 0h1m1 0h1m110 0h1m13 0h1m17 0h1m47 0h1m67 0h1m10 0h1m49 0h1m-1681 1h1m15 0h1m58 0h1m14 0h1m63 0h1m89 0h1m144 0h1m41 0h1m109 0h1m35 0h1m41 0h1m34 0h1m90 0h1m13 0h1m66 0h1m90 0h1m20 0h1m37 0h1m140 0h1m27 0h1m27 0h1m113 0h1m69 0h1m3 0h1m108 0h1m15 0h1m15 0h1m48 0h1m66 0h1m12 0h1m47 0h1m-1681 1h1m16 0h1m57 0h1m16 0h1m62 0h1m90 0h1m78 0h3m61 0h1m42 0h1m108 0h1m36 0h1m40 0h1m35 0h1m89 0h1m14 0h1m65 0h1m92 0h1m18 0h1m39 0h1m138 0h1m28 0h1m26 0h1m115 0h1m66 0h2m5 0h1m107 0h1m16 0h1m13 0h1m50 0h1m65 0h1m13 0h1m46 0h1m-1681 1h1m17 0h1m55 0h1m17 0h1m61 0h1m91 0h1m77 0h1m3 0h3m58 0h1m42 0h1m107 0h1m38 0h1m39 0h1m36 0h1m88 0h1m15 0h1m64 0h1m92 0h1m18 0h1m39 0h1m137 0h1m29 0h1m26 0h1m116 0h1m64 0h1m8 0h1m105 0h1m18 0h1m11 0h1m51 0h1m64 0h1m14 0h1m45 0h1m-1681 1h1m18 0h1m55 0h1m18 0h1m60 0h1m91 0h1m76 0h1m7 0h1m56 0h1m43 0h1m107 0h1m39 0h1m38 0h1m36 0h1m87 0h1m16 0h1m63 0h1m94 0h1m16 0h1m40 0h1m137 0h1m30 0h1m24 0h1m117 0h1m63 0h1m10 0h1m104 0h1m19 0h1m10 0h1m52 0h1m63 0h1m15 0h1m44 0h1m-1681 1h1m19 0h1m53 0h1m19 0h1m59 0h1m93 0h1m73 0h2m8 0h1m56 0h1m44 0h1m105 0h1m41 0h1m36 0h1m37 0h1m87 0h1m17 0h1m62 0h1m94 0h1m16 0h1m41 0h1m135 0h1m31 0h1m24 0h1m118 0h1m59 0h3m12 0h1m102 0h1m20 0h1m9 0h1m53 0h1m62 0h1m16 0h1m43 0h1m-1681 1h1m20 0h1m53 0h1m20 0h1m58 0h1m93 0h1m72 0h1m11 0h1m54 0h1m45 0h1m104 0h1m42 0h1m36 0h1m38 0h1m85 0h1m18 0h1m61 0h1m95 0h1m16 0h1m41 0h1m134 0h1m33 0h1m22 0h1m119 0h1m58 0h1m16 0h1m101 0h1m21 0h1m7 0h1m55 0h1m61 0h1m16 0h1m42 0h1m-1681 1h1m22 0h1m51 0h1m21 0h1m57 0h1m94 0h1m71 0h1m12 0h1m53 0h1m47 0h1m103 0h1m43 0h1m34 0h1m39 0h1m85 0h1m19 0h1m59 0h1m97 0h1m14 0h1m43 0h1m95 0h2m24 0h12m34 0h1m22 0h1m120 0h1m57 0h1m17 0h1m99 0h1m23 0h7m56 0h1m60 0h1m18 0h1m41 0h1m-1681 1h1m22 0h1m51 0h1m22 0h1m56 0h1m95 0h1m69 0h1m14 0h1m51 0h1m48 0h1m70 0h5m27 0h1m45 0h1m33 0h1m39 0h1m84 0h1m20 0h1m59 0h1m97 0h1m14 0h1m43 0h1m93 0h2m2 0h2m20 0h2m46 0h1m21 0h1m121 0h1m56 0h1m19 0h1m98 0h1m87 0h1m59 0h1m18 0h1m40 0h1m-1681 1h1m24 0h1m49 0h1m24 0h1m54 0h1m96 0h1m68 0h1m15 0h1m50 0h1m49 0h1m69 0h1m5 0h5m22 0h1m46 0h1m32 0h1m40 0h1m83 0h1m21 0h1m57 0h1m99 0h1m12 0h1m45 0h1m90 0h2m6 0h2m15 0h3m49 0h1m20 0h1m122 0h1m55 0h1m19 0h1m97 0h1m88 0h1m58 0h1m20 0h1m39 0h1m-1681 1h1m24 0h1m49 0h1m25 0h1m25 0h3m25 0h1m97 0h1m66 0h1m17 0h1m48 0h1m51 0h1m67 0h1m11 0h2m19 0h1m47 0h1m31 0h1m41 0h1m82 0h1m22 0h1m56 0h1m100 0h1m12 0h1m45 0h1m89 0h1m10 0h3m10 0h2m52 0h1m19 0h1m123 0h1m54 0h1m21 0h1m96 0h1m89 0h1m57 0h1m20 0h1m38 0h1m-1681 1h1m26 0h1m47 0h1m27 0h1m20 0h4m3 0h1m23 0h1m98 0h1m66 0h1m17 0h1m47 0h1m52 0h1m66 0h1m14 0h1m17 0h1m49 0h1m30 0h1m41 0h1m82 0h1m23 0h1m54 0h1m102 0h1m10 0h1m47 0h1m87 0h1m14 0h2m6 0h2m54 0h1m19 0h1m124 0h1m53 0h1m21 0h1m96 0h1m90 0h1m55 0h1m21 0h1m38 0h1m-1681 1h1m26 0h1m47 0h1m27 0h1m18 0h2m8 0h1m22 0h1m98 0h1m65 0h1m19 0h1m45 0h1m54 0h1m64 0h1m16 0h1m16 0h1m50 0h1m28 0h1m43 0h1m80 0h1m24 0h1m32 0h10m12 0h1m102 0h1m10 0h1m47 0h1m86 0h1m17 0h2m2 0h2m57 0h1m17 0h1m125 0h1m52 0h1m23 0h1m94 0h1m91 0h1m55 0h1m22 0h1m36 0h1m-1681 1h1m28 0h1m46 0h1m28 0h1m15 0h2m10 0h1m21 0h1m100 0h1m63 0h1m20 0h1m44 0h1m55 0h1m63 0h1m18 0h2m13 0h1m52 0h1m27 0h1m43 0h1m80 0h1m25 0h1m29 0h2m10 0h4m5 0h3m104 0h1m8 0h1m49 0h1m84 0h1m20 0h2m59 0h1m17 0h1m126 0h1m51 0h1m23 0h1m94 0h1m92 0h1m53 0h1m23 0h1m36 0h1m-1682 1h1m29 0h1m45 0h1m30 0h1m12 0h2m13 0h1m20 0h1m100 0h1m62 0h1m22 0h1m41 0h2m57 0h1m62 0h1m20 0h1m10 0h2m53 0h1m27 0h1m44 0h1m78 0h1m26 0h1m28 0h1m16 0h5m108 0h1m6 0h1m50 0h1m84 0h1m82 0h1m15 0h1m128 0h1m49 0h1m25 0h1m92 0h1m93 0h1m53 0h1m23 0h1m35 0h1m-1681 1h1m30 0h1m44 0h1m31 0h1m10 0h1m16 0h1m18 0h1m102 0h1m60 0h1m23 0h1m28 0h5m5 0h3m59 0h1m61 0h1m22 0h4m4 0h2m56 0h1m25 0h1m45 0h1m78 0h1m27 0h1m26 0h1m130 0h1m5 0h1m52 0h1m82 0h1m83 0h1m15 0h1m128 0h1m49 0h1m25 0h1m92 0h1m94 0h2m50 0h1m25 0h1m34 0h1m-1682 1h1m32 0h1m42 0h1m33 0h2m7 0h1m18 0h1m17 0h1m102 0h1m60 0h1m24 0h1m25 0h2m5 0h5m62 0h1m60 0h1m27 0h4m59 0h1m24 0h1m46 0h1m76 0h1m28 0h1m24 0h2m132 0h1m3 0h1m53 0h1m39 0h4m38 0h1m85 0h1m13 0h1m130 0h1m47 0h1m27 0h1m90 0h1m97 0h4m46 0h1m25 0h1m33 0h1m-1681 1h1m32 0h1m42 0h1m35 0h3m2 0h2m19 0h1m16 0h1m104 0h1m58 0h1m25 0h1m24 0h1m75 0h1m58 0h1m91 0h1m23 0h1m47 0h1m76 0h1m29 0h1m22 0h1m135 0h1m1 0h1m55 0h1m34 0h4m4 0h2m35 0h1m87 0h1m12 0h1m131 0h1m46 0h1m27 0h1m90 0h1m101 0h3m43 0h1m26 0h1m32 0h1m-1682 1h1m34 0h1m40 0h1m39 0h2m22 0h1m15 0h1m104 0h1m57 0h1m27 0h1m22 0h1m76 0h1m57 0h1m93 0h1m22 0h1m48 0h1m74 0h1m30 0h1m20 0h2m137 0h1m56 0h1m33 0h1m10 0h2m32 0h1m88 0h1m11 0h1m132 0h1m45 0h1m29 0h1m88 0h1m105 0h3m39 0h1m27 0h1m31 0h1m-1681 1h1m34 0h1m40 0h1m64 0h1m13 0h1m106 0h1m55 0h1m29 0h1m19 0h2m78 0h1m55 0h1m95 0h1m20 0h1m49 0h1m41 0h2m31 0h1m31 0h1m18 0h1m197 0h1m30 0h2m13 0h2m29 0h1m90 0h1m10 0h1m133 0h1m44 0h1m29 0h1m88 0h1m108 0h5m34 0h1m27 0h1m30 0h1m-1681 1h1m36 0h1m38 0h1m66 0h2m11 0h1m106 0h1m55 0h1m29 0h1m18 0h1m80 0h1m54 0h1m97 0h1m19 0h1m50 0h1m37 0h3m2 0h2m28 0h1m32 0h1m17 0h1m198 0h1m29 0h1m17 0h8m20 0h1m92 0h1m8 0h1m135 0h1m42 0h1m31 0h1m86 0h1m114 0h3m30 0h1m29 0h1m29 0h1m-1682 1h1m38 0h1m37 0h1m68 0h2m8 0h1m108 0h1m53 0h1m31 0h1m16 0h1m82 0h1m53 0h1m97 0h1m18 0h1m51 0h1m34 0h3m7 0h1m27 0h1m33 0h1m14 0h2m200 0h1m27 0h1m26 0h3m16 0h1m94 0h1m5 0h2m136 0h1m42 0h1m32 0h1m85 0h1m116 0h1m30 0h1m29 0h1m28 0h1m-1682 1h1m39 0h1m37 0h1m70 0h2m4 0h3m108 0h1m52 0h1m33 0h1m14 0h1m84 0h1m51 0h1m99 0h1m17 0h1m52 0h1m31 0h2m11 0h2m24 0h1m35 0h2m11 0h1m202 0h1m25 0h2m30 0h2m13 0h1m95 0h1m4 0h1m139 0h1m40 0h1m33 0h1m84 0h1m118 0h1m28 0h1m31 0h1m27 0h1m-1682 1h1m40 0h1m35 0h1m73 0h4m112 0h1m50 0h1m34 0h1m12 0h2m86 0h1m49 0h1m101 0h1m16 0h1m52 0h1m30 0h1m15 0h1m23 0h1m37 0h2m8 0h1m204 0h1m23 0h1m34 0h7m5 0h1m97 0h1m1 0h2m141 0h1m39 0h1m34 0h1m83 0h1m118 0h1m28 0h1m31 0h1m26 0h1m-1682 1h1m42 0h1m34 0h1m189 0h1m50 0h1m35 0h1m10 0h1m89 0h1m47 0h1m103 0h1m14 0h1m54 0h1m27 0h2m17 0h1m21 0h1m40 0h2m4 0h2m206 0h1m21 0h1m42 0h5m99 0h1m144 0h1m37 0h1m36 0h1m81 0h1m120 0h1m26 0h1m33 0h1m25 0h1m-1683 1h1m43 0h1m33 0h1m191 0h1m48 0h1m37 0h1m8 0h1m90 0h1m47 0h1m103 0h1m14 0h1m54 0h1m26 0h1m20 0h1m20 0h1m42 0h2m1 0h1m209 0h1m18 0h2m292 0h1m37 0h1m36 0h1m81 0h1m120 0h1m26 0h1m33 0h1m24 0h1m-1683 1h1m45 0h1m32 0h1m191 0h1m47 0h1m39 0h1m5 0h2m92 0h1m45 0h1m105 0h1m12 0h1m56 0h1m24 0h1m22 0h2m17 0h1m45 0h1m211 0h1m16 0h1m295 0h1m35 0h1m38 0h1m79 0h1m122 0h1m24 0h1m35 0h1m23 0h1m-1683 1h1m45 0h1m31 0h1m193 0h1m46 0h1m39 0h1m2 0h3m95 0h1m43 0h1m107 0h1m11 0h1m57 0h1m21 0h2m25 0h1m16 0h1m257 0h1m15 0h1m297 0h1m34 0h1m39 0h1m78 0h1m122 0h1m24 0h1m35 0h1m22 0h1m-1683 1h1m47 0h1m30 0h1m193 0h1m45 0h1m41 0h2m99 0h1m14 0h4m23 0h1m109 0h1m9 0h1m59 0h2m18 0h1m28 0h1m14 0h1m259 0h1m12 0h2m299 0h1m32 0h1m40 0h1m41 0h3m33 0h1m124 0h1m22 0h1m37 0h1m21 0h1m-1684 1h1m49 0h2m27 0h1m195 0h1m43 0h1m144 0h2m9 0h3m4 0h4m19 0h1m110 0h1m8 0h1m61 0h1m15 0h2m30 0h1m13 0h1m260 0h1m10 0h1m301 0h1m32 0h1m41 0h1m37 0h3m3 0h3m29 0h1m125 0h1m22 0h1m37 0h1m20 0h1m-1684 1h1m52 0h2m24 0h1m197 0h1m41 0h1m147 0h3m3 0h3m11 0h3m14 0h2m112 0h1m5 0h2m63 0h1m13 0h1m33 0h2m10 0h1m262 0h1m5 0h4m303 0h1m29 0h2m43 0h1m33 0h3m9 0h3m25 0h1m127 0h1m20 0h1m39 0h1m18 0h1m-1683 1h1m54 0h1m22 0h1m199 0h2m38 0h1m151 0h3m17 0h3m9 0h2m114 0h1m4 0h1m66 0h1m10 0h2m36 0h2m6 0h2m264 0h5m308 0h1m26 0h2m45 0h1m31 0h2m15 0h7m18 0h1m127 0h1m20 0h1m40 0h2m15 0h1m-1683 1h1m56 0h2m19 0h1m202 0h1m35 0h2m175 0h3m3 0h3m117 0h1m1 0h2m68 0h4m4 0h2m40 0h2m2 0h2m580 0h2m22 0h2m48 0h1m28 0h2m24 0h7m10 0h1m129 0h1m18 0h1m43 0h1m13 0h1m-1623 1h2m15 0h2m204 0h1m33 0h1m180 0h3m121 0h1m74 0h4m44 0h2m584 0h1m12 0h9m51 0h2m24 0h2m33 0h4m5 0h1m130 0h1m18 0h1m44 0h1m11 0h1m-1620 1h3m11 0h1m207 0h1m31 0h1m1015 0h2m7 0h3m62 0h1m20 0h3m39 0h3m2 0h1m131 0h1m16 0h1m46 0h2m8 0h1m-1616 1h4m6 0h1m209 0h2m25 0h4m1018 0h7m66 0h1m17 0h2m45 0h2m133 0h1m14 0h1m49 0h1m4 0h3m-1611 1h3m2 0h1m212 0h1m19 0h5m1096 0h2m13 0h2m183 0h1m12 0h1m51 0h4m-1605 1h2m214 0h3m13 0h3m1103 0h5m6 0h2m186 0h1m9 0h2m-1330 1h5m4 0h4m1111 0h6m189 0h1m7 0h1m-1323 1h4m1311 0h3m3 0h1m-4 1h3" fill="none" stroke="#5533ff" stroke-width="1"/>
</g>
<rect x="1882.5" y="644.0" width="12" height="12" rx="2" fill="#e9e9e9" stroke="#8c9fbd"/>
<rect x="1883.5" y="645.0" width="10" height="10" rx="1" fill="#eeeeee" stroke="#565f72"/>
<rect x="1884.5" y="653.0" width="8" height="1" fill="#dcdcdc" stroke="none"/>
<rect x="1886.5" y="649.0" width="4" height="2" fill="#8fb0dd" stroke="#4a5670"/>
<rect x="1897.5" y="644.0" width="12" height="12" rx="1.5" fill="#e58b78" stroke="#4a1020"/>
<path d="M1900.5 647.0 L1906.5 653.0 M1906.5 647.0 L1900.5 653.0" stroke="#3a2030" stroke-width="3.6" stroke-linecap="square"/>
<path d="M1900.5 647.0 L1906.5 653.0 M1906.5 647.0 L1900.5 653.0" stroke="#fff" stroke-width="2" stroke-linecap="square"/>
<text x="1842.5" y="671" font-size="13.8" fill="#c9c9c9" font-weight="bold" textLength="37.5" lengthAdjust="spacingAndGlyphs">Value</text>
<rect x="1837" y="702" width="5" height="1" fill="#c4c4c4"/>
<text x="1845" y="707" font-size="13.8" fill="#c4c4c4" textLength="14.5" lengthAdjust="spacingAndGlyphs">50</text>
<rect x="1837" y="665" width="75" height="17" fill="#00ccff"/>
<text x="1837.6" y="678.7" font-size="13.8" fill="#000" font-weight="bold" textLength="48.8" lengthAdjust="spacingAndGlyphs">88.356</text>
<rect x="1837" y="682" width="75" height="17" fill="#5533ff"/>
<text x="1837.6" y="695.7" font-size="13.8" fill="#14082e" textLength="44" lengthAdjust="spacingAndGlyphs">80.554</text>
<rect x="1837" y="736" width="5" height="1" fill="#c4c4c4"/>
<rect x="1843.5" y="728.5" width="35" height="16" fill="#fff" stroke="#c4c4c4"/>
<text x="1845" y="742" font-size="13.8" fill="#c4c4c4" font-weight="bold" textLength="32.5" lengthAdjust="spacingAndGlyphs">Auto</text>
<text x="23.4" y="762" font-size="13.8" fill="#ff006e" textLength="40.9" lengthAdjust="spacingAndGlyphs">MACD,</text>
<text x="68.9" y="762" font-size="13.8" fill="#ff006e" textLength="31.1" lengthAdjust="spacingAndGlyphs">.KSE,</text>
<text x="104.9" y="762" font-size="13.8" fill="#ff006e" textLength="69.9" lengthAdjust="spacingAndGlyphs">7/20/2018,</text>
<text x="179.8" y="762" font-size="13.8" fill="#ff006e" textLength="54.7" lengthAdjust="spacingAndGlyphs">-464.46,</text>
<text x="237.0" y="762" font-size="13.8" fill="#00fcc4" textLength="50.7" lengthAdjust="spacingAndGlyphs">-683.43</text>
<g shape-rendering="crispEdges">
<rect x="16" y="799" width="1820" height="1" fill="#ff006e"/>
<path d="M1007 771.5h13m-22 1h9m13 0h8m-34 1h4m30 0h5m-44 1h5m39 0h5m-55 1h6m49 0h5m-68 1h8m60 0h5m-79 1h6m73 0h4m-88 1h5m83 0h5m-98 1h5m93 0h5m-108 1h5m103 0h5m-119 1h6m113 0h4m246 0h21m-395 1h5m123 0h4m233 0h9m21 0h6m-403 1h2m132 0h4m225 0h4m36 0h7m-412 1h2m138 0h4m217 0h4m47 0h7m-1343 1h2m919 0h3m144 0h4m207 0h6m58 0h6m-1347 1h2m915 0h2m151 0h5m195 0h7m70 0h4m-1349 1h3m910 0h2m158 0h5m184 0h6m81 0h4m-1350 1h2m906 0h2m165 0h4m175 0h5m91 0h6m-1354 1h2m902 0h2m171 0h4m166 0h5m102 0h6m-1358 1h4m896 0h2m177 0h3m159 0h4m113 0h7m-1361 1h4m890 0h2m182 0h4m151 0h4m124 0h11m-1368 1h4m884 0h2m188 0h5m142 0h4m139 0h9m-1373 1h3m878 0h3m195 0h8m130 0h4m152 0h4m-1374 1h2m873 0h3m206 0h7m119 0h4m160 0h4m-1376 1h2m868 0h3m216 0h8m107 0h4m168 0h4m-1378 1h2m864 0h2m227 0h11m91 0h5m176 0h4m-1380 1h2m860 0h2m240 0h16m66 0h9m185 0h5m-1383 1h2m856 0h2m258 0h66m199 0h4m-1385 1h2m852 0h2m529 0h4m-1387 1h2m848 0h2m535 0h4m-1389 1h2m843 0h3m541 0h4m158 0h7m-1556 1h2m226 0h10m413 0h14m176 0h2m548 0h4m146 0h8m7 0h4m-1558 1h2m214 0h10m10 0h7m380 0h26m14 0h24m150 0h2m554 0h3m137 0h6m19 0h4m-1560 1h2m205 0h7m27 0h5m368 0h7m64 0h7m140 0h3m559 0h3m128 0h6m29 0h5m-1563 1h2m200 0h3m39 0h8m353 0h7m78 0h13m125 0h2m565 0h3m120 0h5m40 0h8m-1569 1h2m195 0h3m50 0h6m169 0h10m120 0h14m26 0h8m98 0h25m98 0h2m570 0h3m113 0h4m53 0h7m-1574 1h3m189 0h3m59 0h2m158 0h9m10 0h6m104 0h10m14 0h26m131 0h5m90 0h3m575 0h3m106 0h4m64 0h8m-1579 1h2m185 0h2m64 0h2m153 0h3m25 0h7m92 0h5m186 0h5m81 0h4m581 0h3m99 0h4m76 0h9m-1586 1h3m179 0h3m68 0h2m147 0h4m35 0h7m80 0h5m196 0h6m71 0h4m588 0h3m92 0h4m89 0h7m-1590 1h2m175 0h2m73 0h3m141 0h3m46 0h11m63 0h6m207 0h8m59 0h4m595 0h3m86 0h3m100 0h4m-1592 1h2m170 0h3m78 0h3m135 0h3m60 0h11m44 0h8m221 0h7m48 0h4m602 0h3m80 0h3m107 0h4m-1594 1h2m165 0h3m84 0h3m129 0h3m74 0h8m29 0h7m236 0h8m35 0h5m609 0h3m74 0h3m114 0h3m-1595 1h2m160 0h3m90 0h3m123 0h3m85 0h11m10 0h8m251 0h11m19 0h5m617 0h3m68 0h3m120 0h4m-1597 1h2m155 0h3m96 0h3m117 0h3m99 0h10m270 0h19m625 0h4m60 0h4m127 0h4m-1599 1h1m151 0h3m102 0h3m111 0h3m1030 0h3m51 0h6m135 0h4m-1602 1h2m146 0h3m108 0h3m104 0h4m1036 0h4m41 0h6m145 0h4m47 0h4m-1655 1h2m140 0h4m114 0h3m98 0h3m1044 0h9m26 0h6m155 0h4m37 0h6m-1649 1h2m135 0h3m121 0h3m92 0h3m1056 0h26m165 0h4m29 0h4m-1641 1h3m129 0h3m127 0h3m86 0h3m1254 0h29m-1634 1h4m122 0h3m133 0h3m80 0h3m-344 1h3m115 0h4m139 0h4m73 0h3m-338 1h4m108 0h3m147 0h4m67 0h2m-331 1h5m99 0h4m154 0h4m60 0h3m-324 1h4m91 0h4m162 0h5m52 0h3m-317 1h6m81 0h4m171 0h7m40 0h5m-308 1h8m70 0h3m182 0h11m23 0h6m-295 1h7m60 0h3m196 0h23m-282 1h8m49 0h3m-52 1h10m35 0h4m-39 1h12m18 0h5m-23 1h18" fill="none" stroke="#00fcc4" stroke-width="1"/>
<path d="M991 769.5h16m-21 1h5m16 0h4m-29 1h4m25 0h5m-37 1h3m34 0h4m-45 1h4m41 0h4m-88 1h10m22 0h7m49 0h3m-95 1h4m10 0h4m7 0h11m59 0h4m-102 1h3m18 0h7m74 0h4m-108 1h2m106 0h4m-114 1h2m112 0h3m-119 1h2m117 0h4m255 0h27m-407 1h2m123 0h3m248 0h4m27 0h6m-414 1h1m128 0h4m240 0h4m37 0h3m-419 1h2m133 0h3m231 0h6m44 0h3m-423 1h1m138 0h3m220 0h8m53 0h3m-428 1h2m142 0h3m211 0h6m64 0h3m-433 1h2m147 0h3m204 0h4m73 0h3m-437 1h1m152 0h3m196 0h5m80 0h3m-442 1h2m156 0h3m187 0h6m88 0h3m-447 1h2m161 0h4m177 0h6m97 0h3m-452 1h2m167 0h4m168 0h5m106 0h3m-457 1h2m173 0h4m162 0h2m114 0h4m-463 1h2m179 0h4m156 0h2m120 0h3m-468 1h2m185 0h5m149 0h2m125 0h16m-486 1h2m192 0h5m141 0h3m143 0h7m-495 1h2m199 0h6m133 0h2m153 0h6m-503 1h2m207 0h7m123 0h3m161 0h5m-510 1h2m216 0h7m114 0h2m169 0h5m-1392 1h3m249 0h8m615 0h2m225 0h8m97 0h9m176 0h4m-1393 1h4m240 0h5m8 0h7m606 0h2m235 0h53m24 0h20m189 0h4m-1393 1h4m232 0h4m20 0h4m600 0h2m290 0h24m213 0h4m166 0h12m-1571 1h5m224 0h3m28 0h7m386 0h17m188 0h2m533 0h4m154 0h8m12 0h10m-1576 1h8m214 0h2m38 0h4m378 0h4m17 0h16m169 0h3m539 0h3m146 0h5m30 0h2m-1570 1h4m208 0h2m44 0h2m372 0h4m37 0h4m162 0h3m545 0h3m140 0h3m37 0h3m-1569 1h1m205 0h2m48 0h2m365 0h5m45 0h17m143 0h2m551 0h3m134 0h3m43 0h2m-1570 1h2m201 0h2m52 0h1m163 0h34m108 0h14m39 0h6m67 0h6m135 0h2m556 0h4m127 0h3m48 0h3m-1571 1h1m198 0h2m55 0h2m155 0h6m34 0h4m98 0h6m14 0h4m30 0h5m79 0h7m126 0h2m562 0h3m122 0h2m54 0h2m-1572 1h1m193 0h4m59 0h2m147 0h6m44 0h3m89 0h6m24 0h3m23 0h4m91 0h7m25 0h4m88 0h2m567 0h3m117 0h2m58 0h2m-1573 1h2m187 0h4m65 0h2m142 0h3m53 0h2m81 0h6m33 0h9m10 0h4m102 0h10m9 0h6m4 0h3m83 0h2m572 0h3m112 0h2m62 0h2m-1573 1h1m184 0h2m71 0h2m138 0h2m58 0h3m74 0h4m48 0h10m116 0h9m13 0h2m79 0h2m577 0h2m108 0h2m66 0h2m-1574 1h1m180 0h3m75 0h2m134 0h2m63 0h2m70 0h2m202 0h5m71 0h3m581 0h3m103 0h2m70 0h2m-1575 1h2m176 0h2m80 0h2m130 0h2m67 0h2m66 0h2m209 0h6m63 0h2m587 0h2m99 0h2m74 0h2m-1575 1h2m171 0h3m84 0h2m126 0h2m71 0h9m55 0h2m217 0h5m56 0h2m591 0h3m92 0h4m78 0h32m78 0h4m-1687 1h2m166 0h3m89 0h1m123 0h2m82 0h11m42 0h2m224 0h3m51 0h2m596 0h2m86 0h4m114 0h4m70 0h4m-1681 1h1m161 0h4m93 0h2m120 0h1m95 0h6m33 0h3m229 0h3m45 0h3m600 0h3m79 0h4m122 0h3m65 0h2m-1676 1h2m156 0h3m99 0h2m116 0h2m102 0h5m24 0h4m235 0h8m34 0h3m606 0h2m73 0h4m129 0h3m61 0h1m-1672 1h2m152 0h2m104 0h2m112 0h2m109 0h4m15 0h5m247 0h14m17 0h3m611 0h3m66 0h4m136 0h4m56 0h1m-1669 1h2m148 0h2m108 0h1m109 0h2m115 0h4m5 0h6m266 0h17m617 0h3m60 0h3m144 0h3m51 0h2m-1666 1h2m144 0h2m111 0h2m105 0h2m121 0h5m909 0h3m53 0h4m150 0h3m46 0h2m-1662 1h3m138 0h3m115 0h1m102 0h2m1040 0h3m47 0h3m157 0h4m40 0h2m-1657 1h2m132 0h4m119 0h2m97 0h3m1045 0h3m24 0h20m164 0h3m35 0h2m-1653 1h3m125 0h4m125 0h1m94 0h2m1051 0h3m18 0h3m187 0h3m24 0h8m-1648 1h2m120 0h3m130 0h2m90 0h2m1056 0h4m10 0h4m193 0h2m13 0h9m-1638 1h2m116 0h2m135 0h4m84 0h2m1062 0h4m3 0h3m199 0h2m5 0h6m-1627 1h1m112 0h3m141 0h5m77 0h2m1068 0h3m204 0h5m-1620 1h2m108 0h2m149 0h4m71 0h2m-336 1h1m105 0h2m155 0h11m56 0h4m-333 1h1m102 0h2m168 0h4m47 0h5m-328 1h1m100 0h1m174 0h4m39 0h4m-322 1h2m19 0h6m71 0h2m179 0h3m20 0h7m5 0h4m-316 1h1m11 0h7m6 0h2m34 0h4m29 0h2m184 0h5m7 0h8m7 0h5m-311 1h3m4 0h4m15 0h2m30 0h2m4 0h4m22 0h3m191 0h7m-288 1h4m21 0h4m7 0h9m7 0h3m10 0h4m14 0h4m-58 1h7m9 0h7m17 0h4m5 0h5m-10 1h5" fill="none" stroke="#ff006e" stroke-width="1"/>
</g>
<rect x="1882.5" y="748.5" width="12" height="12" rx="2" fill="#e9e9e9" stroke="#8c9fbd"/>
<rect x="1883.5" y="749.5" width="10" height="10" rx="1" fill="#eeeeee" stroke="#565f72"/>
<rect x="1884.5" y="757.5" width="8" height="1" fill="#dcdcdc" stroke="none"/>
<rect x="1886.5" y="753.5" width="4" height="2" fill="#8fb0dd" stroke="#4a5670"/>
<rect x="1897.5" y="748.5" width="12" height="12" rx="1.5" fill="#e58b78" stroke="#4a1020"/>
<path d="M1900.5 751.5 L1906.5 757.5 M1906.5 751.5 L1900.5 757.5" stroke="#3a2030" stroke-width="3.6" stroke-linecap="square"/>
<path d="M1900.5 751.5 L1906.5 757.5 M1906.5 751.5 L1900.5 757.5" stroke="#fff" stroke-width="2" stroke-linecap="square"/>
<text x="1842.5" y="777" font-size="13.8" fill="#c9c9c9" font-weight="bold" textLength="37.5" lengthAdjust="spacingAndGlyphs">Value</text>
<rect x="1837" y="799" width="5" height="1" fill="#c4c4c4"/>
<text x="1844" y="804" font-size="13.8" fill="#c4c4c4" font-weight="bold" textLength="9" lengthAdjust="spacingAndGlyphs">0</text>
<rect x="1843.5" y="823.5" width="35" height="16" fill="#fff" stroke="#c4c4c4"/>
<rect x="1837" y="803" width="75" height="17" fill="#ff006e"/>
<text x="1837.6" y="816.7" font-size="13.8" fill="#000" font-weight="bold" textLength="55.3" lengthAdjust="spacingAndGlyphs">-464.46</text>
<rect x="1837" y="820" width="75" height="17" fill="#00fcc4"/>
<text x="1837.6" y="833.7" font-size="13.8" fill="#000" textLength="48.8" lengthAdjust="spacingAndGlyphs">-683.43</text>
<rect x="74" y="841" width="1" height="3" fill="#000"/>
<text x="76.2" y="858" font-size="13.8" fill="#000" text-anchor="middle" textLength="14.8" lengthAdjust="spacingAndGlyphs">16</text>
<rect x="117" y="841" width="1" height="3" fill="#000"/>
<text x="119.2" y="858" font-size="13.8" fill="#000" text-anchor="middle" textLength="14.8" lengthAdjust="spacingAndGlyphs">03</text>
<rect x="179" y="841" width="1" height="3" fill="#000"/>
<text x="181.10000000000002" y="858" font-size="13.8" fill="#000" text-anchor="middle" textLength="14.8" lengthAdjust="spacingAndGlyphs">17</text>
<rect x="247" y="841" width="1" height="3" fill="#000"/>
<text x="249.10000000000002" y="858" font-size="13.8" fill="#000" text-anchor="middle" textLength="14.8" lengthAdjust="spacingAndGlyphs">01</text>
<rect x="309" y="841" width="1" height="3" fill="#000"/>
<text x="310.8" y="858" font-size="13.8" fill="#000" text-anchor="middle" textLength="14.8" lengthAdjust="spacingAndGlyphs">16</text>
<rect x="382" y="841" width="1" height="3" fill="#000"/>
<text x="384.2" y="858" font-size="13.8" fill="#000" text-anchor="middle" textLength="14.8" lengthAdjust="spacingAndGlyphs">05</text>
<rect x="439" y="841" width="1" height="3" fill="#000"/>
<text x="440.8" y="858" font-size="13.8" fill="#000" text-anchor="middle" textLength="14.8" lengthAdjust="spacingAndGlyphs">18</text>
<rect x="500" y="841" width="1" height="3" fill="#000"/>
<text x="502.3" y="858" font-size="13.8" fill="#000" text-anchor="middle" textLength="14.8" lengthAdjust="spacingAndGlyphs">02</text>
<rect x="562" y="841" width="1" height="3" fill="#000"/>
<text x="564.0999999999999" y="858" font-size="13.8" fill="#000" text-anchor="middle" textLength="14.8" lengthAdjust="spacingAndGlyphs">16</text>
<rect x="636" y="841" width="1" height="3" fill="#000"/>
<text x="638.0" y="858" font-size="13.8" fill="#000" text-anchor="middle" textLength="14.8" lengthAdjust="spacingAndGlyphs">01</text>
<rect x="704" y="841" width="1" height="3" fill="#000"/>
<text x="706.0" y="858" font-size="13.8" fill="#000" text-anchor="middle" textLength="14.8" lengthAdjust="spacingAndGlyphs">16</text>
<rect x="772" y="841" width="1" height="3" fill="#000"/>
<text x="774.0" y="858" font-size="13.8" fill="#000" text-anchor="middle" textLength="14.8" lengthAdjust="spacingAndGlyphs">04</text>
<rect x="834" y="841" width="1" height="3" fill="#000"/>
<text x="835.3" y="858" font-size="13.8" fill="#000" text-anchor="middle" textLength="14.8" lengthAdjust="spacingAndGlyphs">18</text>
<rect x="890" y="841" width="1" height="3" fill="#000"/>
<text x="891.3" y="858" font-size="13.8" fill="#000" text-anchor="middle" textLength="14.8" lengthAdjust="spacingAndGlyphs">01</text>
<rect x="957" y="841" width="1" height="3" fill="#000"/>
<text x="959.0999999999999" y="858" font-size="13.8" fill="#000" text-anchor="middle" textLength="14.8" lengthAdjust="spacingAndGlyphs">16</text>
<rect x="1031" y="841" width="1" height="3" fill="#000"/>
<text x="1033.0" y="858" font-size="13.8" fill="#000" text-anchor="middle" textLength="14.8" lengthAdjust="spacingAndGlyphs">01</text>
<rect x="1093" y="841" width="1" height="3" fill="#000"/>
<text x="1095.1" y="858" font-size="13.8" fill="#000" text-anchor="middle" textLength="14.8" lengthAdjust="spacingAndGlyphs">16</text>
<rect x="1148" y="841" width="1" height="3" fill="#000"/>
<text x="1150.1" y="858" font-size="13.8" fill="#000" text-anchor="middle" textLength="14.8" lengthAdjust="spacingAndGlyphs">01</text>
<rect x="1216" y="841" width="1" height="3" fill="#000"/>
<text x="1218.0" y="858" font-size="13.8" fill="#000" text-anchor="middle" textLength="14.8" lengthAdjust="spacingAndGlyphs">16</text>
<rect x="1278" y="841" width="1" height="3" fill="#000"/>
<text x="1280.1" y="858" font-size="13.8" fill="#000" text-anchor="middle" textLength="14.8" lengthAdjust="spacingAndGlyphs">02</text>
<rect x="1340" y="841" width="1" height="3" fill="#000"/>
<text x="1342.0" y="858" font-size="13.8" fill="#000" text-anchor="middle" textLength="14.8" lengthAdjust="spacingAndGlyphs">16</text>
<rect x="1408" y="841" width="1" height="3" fill="#000"/>
<text x="1410.0" y="858" font-size="13.8" fill="#000" text-anchor="middle" textLength="14.8" lengthAdjust="spacingAndGlyphs">02</text>
<rect x="1470" y="841" width="1" height="3" fill="#000"/>
<text x="1472.1" y="858" font-size="13.8" fill="#000" text-anchor="middle" textLength="14.8" lengthAdjust="spacingAndGlyphs">16</text>
<rect x="1544" y="841" width="1" height="3" fill="#000"/>
<text x="1546.2" y="858" font-size="13.8" fill="#000" text-anchor="middle" textLength="14.8" lengthAdjust="spacingAndGlyphs">01</text>
<rect x="1600" y="841" width="1" height="3" fill="#000"/>
<text x="1601.5" y="858" font-size="13.8" fill="#000" text-anchor="middle" textLength="14.8" lengthAdjust="spacingAndGlyphs">19</text>
<rect x="1655" y="841" width="1" height="3" fill="#000"/>
<text x="1657.2" y="858" font-size="13.8" fill="#000" text-anchor="middle" textLength="14.8" lengthAdjust="spacingAndGlyphs">02</text>
<rect x="1717" y="841" width="1" height="3" fill="#000"/>
<text x="1718.8" y="858" font-size="13.8" fill="#000" text-anchor="middle" textLength="14.8" lengthAdjust="spacingAndGlyphs">16</text>
<rect x="1792" y="841" width="1" height="3" fill="#000"/>
<text x="1793.3999999999999" y="858" font-size="13.8" fill="#000" text-anchor="middle" textLength="14.8" lengthAdjust="spacingAndGlyphs">01</text>
<rect x="117" y="863" width="1" height="16" fill="#000"/>
<rect x="247" y="863" width="1" height="16" fill="#000"/>
<rect x="382" y="863" width="1" height="16" fill="#000"/>
<rect x="500" y="863" width="1" height="16" fill="#000"/>
<rect x="636" y="863" width="1" height="16" fill="#000"/>
<rect x="772" y="863" width="1" height="16" fill="#000"/>
<rect x="890" y="863" width="1" height="16" fill="#000"/>
<rect x="1031" y="863" width="1" height="16" fill="#000"/>
<rect x="1148" y="863" width="1" height="16" fill="#000"/>
<rect x="1278" y="863" width="1" height="16" fill="#000"/>
<rect x="1408" y="863" width="1" height="16" fill="#000"/>
<rect x="1544" y="863" width="1" height="16" fill="#000"/>
<rect x="1655" y="863" width="1" height="16" fill="#000"/>
<rect x="1792" y="863" width="1" height="16" fill="#000"/>
<text x="42.1" y="875" font-size="13.8" fill="#000" font-weight="bold" textLength="45.7" lengthAdjust="spacingAndGlyphs">Jun 17</text>
<text x="160.9" y="875" font-size="13.8" fill="#000" font-weight="bold" textLength="40.5" lengthAdjust="spacingAndGlyphs">Jul 17</text>
<text x="289.5" y="875" font-size="13.8" fill="#000" font-weight="bold" textLength="48.6" lengthAdjust="spacingAndGlyphs">Aug 17</text>
<text x="417.4" y="875" font-size="13.8" fill="#000" font-weight="bold" textLength="46.7" lengthAdjust="spacingAndGlyphs">Sep 17</text>
<text x="544.8" y="875" font-size="13.8" fill="#000" font-weight="bold" textLength="45.4" lengthAdjust="spacingAndGlyphs">Oct 17</text>
<text x="679.5" y="875" font-size="13.8" fill="#000" font-weight="bold" textLength="48.4" lengthAdjust="spacingAndGlyphs">Nov 17</text>
<text x="807.0" y="875" font-size="13.8" fill="#000" font-weight="bold" textLength="46.2" lengthAdjust="spacingAndGlyphs">Dec 17</text>
<text x="937.0" y="875" font-size="13.8" fill="#000" font-weight="bold" textLength="45.9" lengthAdjust="spacingAndGlyphs">Jan 18</text>
<text x="1066.3" y="875" font-size="13.8" fill="#000" font-weight="bold" textLength="46.2" lengthAdjust="spacingAndGlyphs">Feb 18</text>
<text x="1189.1" y="875" font-size="13.8" fill="#000" font-weight="bold" textLength="47.4" lengthAdjust="spacingAndGlyphs">Mar 18</text>
<text x="1319.2" y="875" font-size="13.8" fill="#000" font-weight="bold" textLength="45.9" lengthAdjust="spacingAndGlyphs">Apr 18</text>
<text x="1450.9" y="875" font-size="13.8" fill="#000" font-weight="bold" textLength="49.6" lengthAdjust="spacingAndGlyphs">May 18</text>
<text x="1575.9" y="875" font-size="13.8" fill="#000" font-weight="bold" textLength="46.7" lengthAdjust="spacingAndGlyphs">Jun 18</text>
<text x="1701.5" y="875" font-size="13.8" fill="#000" font-weight="bold" textLength="40.8" lengthAdjust="spacingAndGlyphs">Jul 18</text>
</svg>
</body></html>
